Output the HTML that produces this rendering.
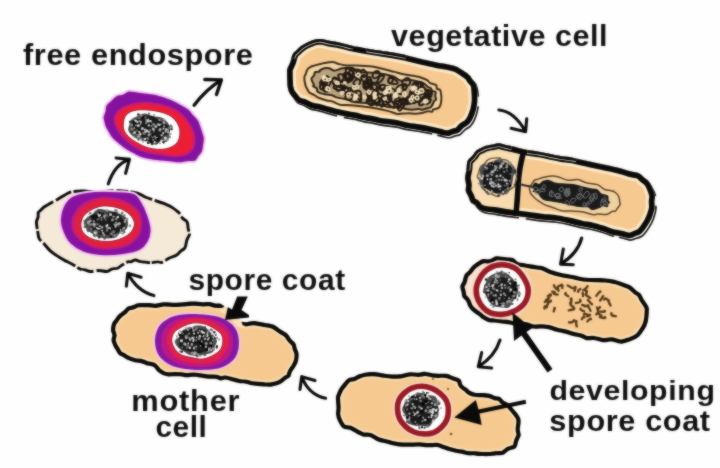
<!DOCTYPE html>
<html><head><meta charset="utf-8"><title>Endospore formation</title>
<style>
html,body{margin:0;padding:0;background:#fefefe;}
body{width:720px;height:468px;overflow:hidden;}
svg{display:block;}
text{font-family:"Liberation Sans",sans-serif;font-weight:bold;fill:#101010;}
</style></head><body>
<svg width="720" height="468" viewBox="0 0 720 468">
<defs>
<filter id="soft" filterUnits="userSpaceOnUse" x="-10" y="-10" width="740" height="488" color-interpolation-filters="sRGB"><feGaussianBlur stdDeviation="0.9" result="b"/><feComposite in="SourceGraphic" in2="b" operator="arithmetic" k1="0" k2="0.45" k3="0.55" k4="0"/></filter>
<filter id="soft2" x="-10%" y="-10%" width="120%" height="120%" color-interpolation-filters="sRGB"><feGaussianBlur stdDeviation="0.5"/></filter>
<clipPath id="c1"><path d="M287.3 69.0C287.9 67.0 289.6 64.1 290.5 61.6C291.4 59.2 291.7 56.2 292.7 54.3C293.7 52.4 295.1 51.5 296.5 50.2C297.9 48.8 299.4 47.4 301.1 46.1C302.7 44.9 304.5 43.8 306.4 42.9C308.3 41.9 310.6 41.0 312.5 40.3C314.4 39.7 316.2 39.2 317.9 39.1C319.7 38.9 321.4 39.0 322.9 39.2C324.4 39.4 325.7 40.0 327.0 40.3C328.4 40.6 328.5 40.6 330.8 41.1C333.2 41.5 337.7 42.2 341.0 42.9C344.4 43.6 347.8 44.7 350.9 45.4C353.9 46.1 356.5 46.5 359.6 47.1C362.7 47.7 365.7 48.3 369.3 49.0C372.8 49.6 377.1 50.2 381.0 50.8C384.9 51.4 388.5 51.8 392.7 52.6C396.9 53.3 401.7 54.2 406.3 55.2C410.9 56.3 416.3 57.8 420.2 58.7C424.2 59.7 426.9 60.3 430.1 61.0C433.2 61.7 436.3 62.3 439.2 62.9C442.1 63.4 444.6 63.6 447.4 64.2C450.2 64.8 453.5 65.4 456.1 66.5C458.7 67.5 460.8 69.2 463.1 70.6C465.3 72.1 468.0 73.7 469.5 75.2C471.1 76.6 471.1 77.8 472.3 79.3C473.5 80.8 475.7 82.2 476.7 84.3C477.7 86.3 478.1 89.2 478.6 91.7C479.0 94.2 479.2 97.0 479.3 99.4C479.4 101.7 479.3 103.5 479.1 105.7C478.8 107.9 478.4 110.3 477.8 112.6C477.2 115.0 476.4 117.6 475.3 119.9C474.2 122.2 472.9 124.6 471.3 126.4C469.7 128.1 467.3 129.0 465.5 130.5C463.7 132.0 462.4 134.3 460.6 135.3C458.9 136.4 456.9 136.4 455.0 136.9C453.1 137.5 451.0 138.5 449.2 138.6C447.3 138.7 445.5 138.0 443.9 137.7C442.2 137.3 441.7 137.1 439.1 136.5C436.5 135.8 431.7 134.7 428.2 134.0C424.6 133.3 421.5 132.7 417.9 132.1C414.4 131.6 410.5 131.2 407.0 130.5C403.4 129.8 399.6 128.5 396.6 127.9C393.5 127.4 391.6 127.3 388.8 126.9C386.0 126.6 382.7 126.3 379.8 125.7C376.9 125.2 373.9 124.3 371.2 123.7C368.4 123.2 366.0 123.0 363.1 122.4C360.2 121.8 356.8 120.6 353.8 120.0C350.7 119.3 347.8 119.1 344.8 118.5C341.8 117.9 338.6 117.1 335.5 116.4C332.5 115.6 329.4 114.8 326.6 114.0C323.9 113.2 321.7 112.4 318.9 111.7C316.1 111.0 312.7 110.7 310.0 109.7C307.4 108.7 305.2 106.9 303.0 105.8C300.8 104.7 298.6 104.6 296.9 103.2C295.2 101.7 293.8 99.0 292.5 97.1C291.3 95.3 289.9 94.0 289.1 92.2C288.3 90.4 288.0 88.6 287.6 86.5C287.3 84.5 287.3 82.1 287.2 80.0C287.1 78.0 287.0 75.9 287.1 74.0C287.1 72.2 286.7 71.1 287.3 69.0Z"/></clipPath>
<clipPath id="c2"><path d="M287.3 69.0C287.9 67.0 289.6 64.1 290.5 61.6C291.4 59.2 291.7 56.2 292.7 54.3C293.7 52.4 295.1 51.5 296.5 50.2C297.9 48.8 299.4 47.4 301.1 46.1C302.7 44.9 304.5 43.8 306.4 42.9C308.3 41.9 310.6 41.0 312.5 40.3C314.4 39.7 316.2 39.2 317.9 39.1C319.7 38.9 321.4 39.0 322.9 39.2C324.4 39.4 325.7 40.0 327.0 40.3C328.4 40.6 328.5 40.6 330.8 41.1C333.2 41.5 337.7 42.2 341.0 42.9C344.4 43.6 347.8 44.7 350.9 45.4C353.9 46.1 356.5 46.5 359.6 47.1C362.7 47.7 365.7 48.3 369.3 49.0C372.8 49.6 377.1 50.2 381.0 50.8C384.9 51.4 388.5 51.8 392.7 52.6C396.9 53.3 401.7 54.2 406.3 55.2C410.9 56.3 416.3 57.8 420.2 58.7C424.2 59.7 426.9 60.3 430.1 61.0C433.2 61.7 436.3 62.3 439.2 62.9C442.1 63.4 444.6 63.6 447.4 64.2C450.2 64.8 453.5 65.4 456.1 66.5C458.7 67.5 460.8 69.2 463.1 70.6C465.3 72.1 468.0 73.7 469.5 75.2C471.1 76.6 471.2 77.7 472.3 79.3C473.4 80.9 475.4 82.4 476.2 84.5C477.0 86.6 476.9 89.5 477.1 91.9C477.3 94.4 477.5 97.2 477.4 99.4C477.4 101.7 477.2 103.4 476.8 105.5C476.5 107.6 476.0 109.8 475.3 112.0C474.6 114.2 473.7 116.6 472.7 118.7C471.6 120.7 470.5 122.6 468.9 124.2C467.4 125.7 465.1 126.6 463.4 127.9C461.7 129.3 460.5 131.5 458.9 132.5C457.4 133.5 455.8 133.4 454.1 134.0C452.5 134.5 450.6 135.6 449.0 135.9C447.3 136.1 445.9 135.8 444.3 135.6C442.7 135.3 442.2 135.0 439.6 134.4C437.0 133.8 432.1 132.6 428.6 131.8C425.0 131.1 421.8 130.5 418.3 129.9C414.8 129.3 410.9 129.0 407.4 128.3C403.8 127.6 400.0 126.4 397.0 125.8C393.9 125.2 391.9 125.0 389.1 124.6C386.3 124.2 383.1 124.0 380.2 123.5C377.3 123.0 374.4 122.1 371.6 121.5C368.8 121.0 366.5 120.9 363.6 120.3C360.7 119.7 357.3 118.5 354.2 117.9C351.1 117.2 348.3 117.0 345.2 116.4C342.2 115.8 339.1 115.1 336.0 114.4C333.0 113.6 330.0 112.8 327.2 112.0C324.4 111.3 322.2 110.4 319.4 109.7C316.7 109.1 313.3 108.9 310.7 108.0C308.0 107.1 305.8 105.4 303.6 104.5C301.4 103.6 299.2 103.8 297.4 102.6C295.5 101.3 293.9 98.9 292.5 97.1C291.2 95.4 289.9 94.0 289.1 92.2C288.3 90.4 288.0 88.6 287.6 86.5C287.3 84.5 287.3 82.1 287.2 80.0C287.1 78.0 287.0 75.9 287.1 74.0C287.1 72.2 286.7 71.1 287.3 69.0Z"/></clipPath>
<clipPath id="c3"><path d="M465.0 177.8C465.1 175.2 466.2 172.1 466.6 169.3C467.0 166.5 466.6 163.4 467.6 161.1C468.5 158.9 470.8 157.7 472.2 156.0C473.6 154.3 474.6 152.2 476.0 150.9C477.4 149.6 478.7 149.2 480.4 148.3C482.1 147.5 483.9 146.4 486.0 145.8C488.1 145.1 490.8 144.8 493.0 144.4C495.2 144.0 497.0 143.2 499.2 143.3C501.3 143.4 503.7 144.6 505.7 145.0C507.7 145.5 509.0 145.6 511.2 146.1C513.4 146.5 516.0 147.2 518.8 147.9C521.5 148.6 524.3 149.4 527.7 150.0C531.1 150.6 535.5 151.1 539.0 151.7C542.6 152.3 545.5 152.9 549.1 153.7C552.7 154.4 556.6 155.4 560.5 156.1C564.5 156.8 568.4 156.9 572.7 157.7C576.9 158.5 581.6 159.8 586.2 160.8C590.7 161.8 595.6 162.9 599.8 163.8C604.1 164.7 608.0 165.3 611.8 166.2C615.6 167.0 619.5 168.0 622.8 168.9C626.1 169.8 628.8 170.9 631.6 171.6C634.3 172.4 637.3 172.4 639.4 173.4C641.6 174.5 642.8 176.4 644.4 177.8C646.0 179.2 647.7 180.0 649.1 181.7C650.6 183.4 651.9 185.7 653.0 188.0C654.2 190.2 655.7 192.9 656.2 195.2C656.7 197.4 656.2 199.3 656.3 201.5C656.4 203.7 656.9 205.9 656.8 208.2C656.6 210.6 656.1 213.2 655.3 215.7C654.6 218.1 653.7 220.6 652.5 223.1C651.2 225.6 649.6 228.3 648.0 230.6C646.3 232.9 644.5 235.3 642.7 236.7C640.9 238.1 638.9 238.4 636.9 239.0C634.9 239.7 632.8 240.7 630.9 240.9C628.9 241.0 627.2 240.1 625.2 239.7C623.3 239.2 621.5 238.7 619.1 238.1C616.7 237.6 613.6 237.1 610.8 236.3C608.1 235.5 605.8 234.3 602.6 233.3C599.4 232.3 595.3 231.1 591.6 230.3C588.0 229.5 584.6 229.3 580.8 228.5C577.0 227.6 572.9 226.4 568.8 225.5C564.7 224.6 560.3 223.7 556.1 223.1C551.9 222.5 547.8 222.5 543.5 222.0C539.1 221.6 534.2 220.8 530.0 220.2C525.7 219.7 522.2 219.1 518.1 218.6C513.9 218.1 509.0 217.6 505.2 217.0C501.4 216.4 498.5 215.7 495.4 215.2C492.2 214.7 488.5 214.4 486.2 213.8C483.8 213.3 482.7 212.8 481.3 212.0C479.9 211.3 478.9 210.4 477.8 209.3C476.7 208.2 475.9 206.6 474.8 205.5C473.6 204.3 471.9 204.1 470.9 202.6C469.8 201.1 469.3 198.4 468.4 196.5C467.6 194.5 466.2 192.8 465.8 190.9C465.4 189.0 466.2 187.1 466.1 184.9C466.0 182.7 465.0 180.4 465.0 177.8Z"/></clipPath>
<clipPath id="c4"><path d="M465.0 177.8C465.1 175.2 466.2 172.1 466.6 169.3C467.0 166.5 466.6 163.4 467.6 161.1C468.5 158.9 470.8 157.7 472.2 156.0C473.6 154.3 474.6 152.2 476.0 150.9C477.4 149.6 478.7 149.2 480.4 148.3C482.1 147.5 483.9 146.4 486.0 145.8C488.1 145.1 490.8 144.8 493.0 144.4C495.2 144.0 497.0 143.2 499.2 143.3C501.3 143.4 503.7 144.6 505.7 145.0C507.7 145.5 509.0 145.6 511.2 146.1C513.4 146.5 516.0 147.2 518.8 147.9C521.5 148.6 524.3 149.4 527.7 150.0C531.1 150.6 535.5 151.1 539.0 151.7C542.6 152.3 545.5 152.9 549.1 153.7C552.7 154.4 556.6 155.4 560.5 156.1C564.5 156.8 568.4 156.9 572.7 157.7C576.9 158.5 581.6 159.8 586.2 160.8C590.7 161.8 595.6 162.9 599.8 163.8C604.1 164.7 608.0 165.3 611.8 166.2C615.6 167.0 619.5 168.0 622.8 168.9C626.1 169.8 628.8 170.9 631.6 171.6C634.3 172.4 637.3 172.4 639.4 173.4C641.6 174.5 642.8 176.4 644.4 177.8C646.0 179.2 647.8 179.9 649.1 181.7C650.5 183.4 651.6 185.9 652.6 188.2C653.5 190.5 654.6 193.3 654.9 195.5C655.2 197.7 654.5 199.5 654.4 201.6C654.4 203.7 654.9 205.9 654.6 208.1C654.4 210.3 653.6 212.6 652.8 214.9C652.0 217.2 651.1 219.5 649.8 221.8C648.6 224.1 646.9 226.7 645.4 228.8C643.9 230.8 642.3 232.9 640.7 234.1C639.1 235.3 637.5 235.4 635.9 236.1C634.2 236.8 632.4 237.9 630.7 238.1C629.0 238.4 627.5 238.0 625.7 237.6C623.8 237.3 622.0 236.6 619.6 236.1C617.2 235.5 614.1 235.2 611.4 234.4C608.6 233.6 606.4 232.5 603.2 231.5C600.0 230.5 595.7 229.1 592.1 228.2C588.4 227.4 585.0 227.1 581.2 226.3C577.4 225.5 573.4 224.3 569.3 223.4C565.2 222.5 560.7 221.4 556.4 220.8C552.1 220.1 548.1 220.1 543.7 219.7C539.4 219.2 534.5 218.5 530.3 217.9C526.0 217.3 522.5 216.8 518.4 216.3C514.2 215.7 509.3 215.3 505.5 214.7C501.8 214.2 498.9 213.4 495.7 212.9C492.6 212.5 488.9 212.1 486.7 211.8C484.4 211.4 483.4 211.3 482.0 210.8C480.6 210.3 479.3 209.9 478.2 209.0C477.0 208.0 476.3 206.1 475.1 205.1C473.9 204.0 472.0 204.0 470.9 202.6C469.8 201.2 469.3 198.4 468.4 196.5C467.6 194.5 466.2 192.8 465.8 190.9C465.4 189.0 466.2 187.1 466.1 184.9C466.0 182.7 465.0 180.4 465.0 177.8Z"/></clipPath>
<clipPath id="c5"><path d="M460.3 286.3C460.5 284.5 461.9 283.3 462.6 281.3C463.3 279.4 463.7 276.4 464.6 274.6C465.6 272.8 467.1 272.2 468.5 270.7C469.8 269.1 471.2 266.8 472.9 265.3C474.6 263.7 477.0 262.2 478.7 261.2C480.5 260.1 481.5 259.5 483.3 259.1C485.2 258.8 487.6 259.7 489.8 259.2C491.9 258.7 493.5 256.5 496.3 256.2C499.0 255.9 503.4 256.9 506.1 257.2C508.9 257.6 511.0 257.3 513.0 258.1C515.0 258.9 516.3 261.2 517.9 262.0C519.6 262.8 521.0 262.6 523.0 263.0C525.0 263.4 527.9 263.9 530.2 264.3C532.6 264.7 535.0 265.0 537.2 265.4C539.3 265.7 540.8 265.6 543.0 266.3C545.2 267.1 547.4 268.6 550.3 269.7C553.3 270.8 556.5 271.8 560.4 272.7C564.3 273.6 569.9 274.4 573.7 275.2C577.5 275.9 579.8 277.0 583.4 277.4C587.0 277.9 591.6 277.8 595.2 278.0C598.9 278.1 602.2 278.1 605.4 278.4C608.6 278.7 611.7 279.2 614.5 279.8C617.3 280.5 619.5 281.3 622.1 282.2C624.7 283.2 627.8 284.0 630.2 285.3C632.5 286.7 634.5 289.0 636.2 290.4C637.9 291.8 639.3 292.1 640.5 293.6C641.8 295.1 642.3 297.0 643.6 299.2C645.0 301.3 647.6 304.6 648.4 306.7C649.3 308.9 648.8 310.0 648.8 312.3C648.7 314.6 648.4 318.1 648.0 320.4C647.5 322.8 646.9 324.5 646.1 326.4C645.2 328.2 644.0 329.9 642.9 331.6C641.8 333.2 640.9 334.9 639.4 336.2C637.9 337.6 636.0 338.7 633.8 339.7C631.7 340.7 628.8 341.8 626.5 342.4C624.2 343.1 622.4 343.8 619.9 343.6C617.5 343.4 614.7 341.7 611.8 341.5C609.0 341.3 605.8 342.4 602.9 342.2C599.9 342.0 596.7 340.4 594.0 340.1C591.3 339.7 588.7 340.6 586.5 340.2C584.3 339.9 583.1 338.5 580.9 337.8C578.7 337.1 576.0 336.8 573.3 336.1C570.5 335.4 567.2 334.1 564.4 333.4C561.7 332.7 559.7 332.6 556.8 331.8C553.9 331.1 550.0 329.5 547.1 329.0C544.3 328.4 542.0 328.6 539.6 328.5C537.3 328.5 535.4 329.0 533.0 328.6C530.6 328.2 527.7 326.5 525.3 326.2C522.8 326.0 520.8 327.3 518.2 327.0C515.6 326.7 512.5 325.1 509.8 324.5C507.2 323.9 504.7 323.8 502.2 323.4C499.6 323.1 497.0 322.8 494.7 322.5C492.3 322.3 490.0 322.5 488.0 321.9C486.0 321.4 484.0 320.1 482.5 319.1C481.0 318.2 480.0 316.9 479.1 316.2C478.2 315.5 478.3 315.7 477.0 314.8C475.8 313.9 473.1 312.1 471.7 310.7C470.3 309.4 469.4 308.3 468.5 306.7C467.6 305.2 467.3 303.1 466.3 301.4C465.3 299.8 463.3 298.5 462.5 296.9C461.7 295.4 461.9 294.0 461.6 292.3C461.2 290.5 460.1 288.1 460.3 286.3Z"/></clipPath>
<clipPath id="c6"><path d="M335.9 397.7C335.9 395.5 336.2 395.8 336.8 394.2C337.4 392.7 338.2 390.4 339.4 388.5C340.5 386.6 342.2 384.7 343.6 383.0C345.1 381.3 346.2 379.4 347.9 378.4C349.7 377.3 352.3 377.4 354.2 376.7C356.2 376.0 357.6 374.8 359.7 374.1C361.7 373.4 364.0 372.8 366.8 372.4C369.5 372.1 373.2 372.0 376.2 372.2C379.2 372.4 382.1 373.3 384.8 373.7C387.4 374.1 389.7 374.4 392.2 374.5C394.7 374.6 396.9 374.7 399.8 374.3C402.7 373.9 406.6 372.5 409.7 372.2C412.7 371.9 415.6 372.8 418.2 372.7C420.9 372.6 422.8 371.7 425.6 371.9C428.4 372.0 431.6 373.3 435.0 373.6C438.5 373.9 443.4 373.4 446.2 373.8C449.0 374.1 449.5 374.8 451.8 375.7C454.2 376.6 458.3 377.6 460.1 379.1C461.9 380.6 461.4 383.2 462.5 384.7C463.7 386.2 465.8 387.1 467.1 388.1C468.3 389.1 468.6 390.1 469.9 390.8C471.2 391.6 472.8 392.3 474.9 392.7C477.0 393.0 480.0 392.9 482.5 393.1C484.9 393.3 487.4 393.3 489.5 393.8C491.6 394.3 493.2 395.5 494.9 396.0C496.6 396.6 498.4 396.1 499.9 397.0C501.5 397.8 502.7 400.0 504.1 401.0C505.5 402.0 506.9 402.2 508.2 403.1C509.4 404.0 510.1 404.9 511.4 406.4C512.8 407.9 514.8 410.2 516.2 412.1C517.6 413.9 519.1 415.7 519.8 417.4C520.6 419.0 520.6 419.9 520.6 421.9C520.6 423.9 519.8 427.1 519.8 429.4C519.8 431.6 520.9 433.3 520.7 435.3C520.4 437.2 519.1 438.9 518.3 441.0C517.5 443.2 517.5 446.3 515.9 448.0C514.3 449.6 510.8 449.7 508.7 450.8C506.7 452.0 505.6 453.9 503.5 454.7C501.5 455.4 498.6 455.0 496.4 455.3C494.2 455.5 492.9 455.9 490.5 456.1C488.0 456.2 484.4 456.2 481.7 456.1C479.1 456.0 477.1 455.6 474.8 455.4C472.5 455.3 470.1 455.5 467.9 455.3C465.7 455.0 463.6 454.1 461.6 453.7C459.5 453.3 457.9 453.3 455.7 452.8C453.4 452.2 450.4 451.4 448.0 450.7C445.6 449.9 443.1 449.0 441.3 448.4C439.4 447.8 439.1 447.2 436.9 447.0C434.6 446.9 430.5 447.4 427.7 447.3C424.8 447.2 422.7 446.6 419.6 446.5C416.6 446.4 412.6 446.8 409.3 446.8C406.0 446.8 402.5 446.8 399.6 446.5C396.7 446.2 394.5 445.6 391.8 445.0C389.0 444.3 385.5 443.4 383.1 442.8C380.7 442.2 379.6 442.1 377.4 441.2C375.1 440.2 372.0 437.8 369.6 437.0C367.2 436.2 365.1 437.2 362.9 436.5C360.6 435.9 358.3 434.4 356.1 433.3C354.0 432.2 351.9 430.6 349.7 429.8C347.5 429.0 344.9 429.7 342.9 428.3C341.0 426.9 339.4 423.8 338.2 421.5C337.1 419.3 336.4 417.2 336.1 414.8C335.8 412.5 336.5 410.5 336.5 407.6C336.4 404.7 335.8 399.9 335.9 397.7Z"/></clipPath>
<clipPath id="c7"><path d="M112.2 323.0C112.8 321.3 113.6 321.2 114.5 319.8C115.5 318.5 116.5 316.6 118.0 315.1C119.5 313.5 122.1 311.9 123.6 310.6C125.1 309.2 125.7 307.8 127.2 306.9C128.7 306.1 130.8 306.0 132.6 305.3C134.5 304.7 135.8 303.5 138.4 303.2C140.9 302.8 145.1 303.0 147.9 303.1C150.8 303.1 152.9 303.8 155.5 303.7C158.1 303.5 160.5 302.4 163.8 302.3C167.0 302.1 171.7 302.8 175.0 302.8C178.2 302.8 180.3 302.4 183.3 302.2C186.3 302.0 189.9 301.6 193.2 301.6C196.4 301.6 200.0 302.2 202.8 302.2C205.5 302.3 207.6 301.9 209.7 302.1C211.8 302.3 213.5 303.2 215.3 303.5C217.2 303.8 218.9 303.1 221.0 303.9C223.0 304.8 225.9 307.2 227.8 308.6C229.7 310.0 230.9 311.2 232.3 312.3C233.8 313.5 234.9 314.2 236.2 315.7C237.6 317.1 239.6 320.0 240.5 321.0C241.4 322.0 240.8 321.4 241.7 321.6C242.6 321.8 244.0 322.3 245.9 322.2C247.8 322.1 251.2 321.2 253.3 321.1C255.5 321.0 256.8 321.4 258.7 321.8C260.7 322.1 262.5 322.5 265.0 323.0C267.4 323.5 270.6 323.5 273.2 324.6C275.9 325.7 278.4 328.0 280.7 329.5C283.0 331.1 285.4 332.0 287.2 333.6C289.0 335.3 290.2 338.0 291.6 339.6C293.0 341.2 294.6 342.0 295.4 343.4C296.3 344.9 296.2 346.6 296.8 348.4C297.3 350.1 298.4 351.7 298.6 353.7C298.8 355.8 298.5 358.7 298.0 360.9C297.5 363.0 296.5 364.8 295.5 366.6C294.5 368.5 292.8 370.3 291.9 372.1C291.0 373.8 291.1 375.8 290.1 377.1C289.1 378.3 287.6 378.6 285.9 379.8C284.3 381.0 282.6 383.0 280.2 384.1C277.9 385.2 274.4 386.1 271.8 386.5C269.1 386.9 266.9 386.5 264.5 386.5C262.2 386.4 259.9 386.2 257.6 386.0C255.3 385.8 252.4 385.4 250.5 385.1C248.6 384.7 247.8 384.1 246.0 383.8C244.3 383.5 242.2 383.7 240.0 383.3C237.8 383.0 235.3 382.3 232.9 381.6C230.4 381.0 227.3 379.8 225.3 379.6C223.3 379.4 222.3 380.7 220.8 380.5C219.2 380.4 218.2 379.2 216.2 378.9C214.2 378.6 211.5 378.9 208.8 378.7C206.1 378.5 202.4 377.8 200.1 377.5C197.7 377.2 196.7 376.7 194.5 376.7C192.4 376.6 189.1 377.2 186.9 377.2C184.7 377.1 183.5 376.6 181.4 376.4C179.4 376.3 176.6 376.3 174.5 376.3C172.4 376.3 170.4 376.5 168.6 376.4C166.8 376.3 165.6 376.3 163.8 375.6C162.1 374.9 159.8 373.5 158.0 372.1C156.3 370.6 154.9 367.9 153.2 366.8C151.5 365.7 149.6 366.1 147.7 365.5C145.8 365.0 144.0 363.9 141.9 363.4C139.7 362.8 137.1 362.8 134.8 362.3C132.5 361.7 130.2 361.1 128.1 360.1C126.0 359.2 123.6 357.4 122.0 356.5C120.4 355.6 119.8 355.8 118.7 354.7C117.6 353.6 116.4 351.1 115.6 349.7C114.7 348.3 114.3 348.1 113.6 346.5C112.9 345.0 111.7 342.1 111.5 340.3C111.3 338.4 112.5 336.9 112.4 335.3C112.4 333.6 111.0 332.2 111.0 330.2C110.9 328.1 111.6 324.7 112.2 323.0Z"/></clipPath>
<clipPath id="c8"><path d="M35.0 222.1C35.1 219.5 36.4 218.2 36.7 216.6C37.0 214.9 36.3 213.5 36.8 212.2C37.4 210.9 39.1 209.7 40.1 208.7C41.2 207.6 41.7 206.9 43.2 205.8C44.7 204.8 46.9 203.5 49.2 202.2C51.5 200.8 54.7 199.2 57.1 197.9C59.5 196.5 61.5 195.2 63.7 194.0C65.8 192.8 67.4 191.4 69.9 190.7C72.5 189.9 76.1 189.8 78.9 189.7C81.7 189.5 83.3 189.6 86.5 189.8C89.7 189.9 94.0 190.5 98.0 190.4C101.9 190.4 106.1 189.7 110.1 189.6C114.1 189.4 118.1 189.2 122.0 189.4C125.9 189.6 130.5 190.2 133.5 190.8C136.5 191.3 137.6 191.8 139.8 192.6C141.9 193.5 143.7 194.8 146.3 195.9C148.9 196.9 152.1 197.9 155.5 199.1C159.0 200.3 164.1 202.0 167.0 203.2C170.0 204.4 171.0 205.0 173.2 206.4C175.3 207.8 178.1 209.8 179.9 211.6C181.6 213.4 182.0 215.5 183.5 217.1C184.9 218.8 187.4 219.4 188.4 221.3C189.4 223.1 189.2 225.9 189.6 228.2C190.0 230.4 191.1 232.6 190.9 234.6C190.7 236.7 189.0 238.4 188.2 240.7C187.5 243.0 187.3 246.5 186.2 248.4C185.1 250.4 183.2 250.9 181.7 252.3C180.2 253.6 179.1 255.4 177.1 256.6C175.2 257.7 172.1 258.4 170.1 259.3C168.2 260.2 166.8 261.4 165.4 262.2C164.0 262.9 162.9 263.8 161.5 264.0C160.1 264.1 158.8 263.2 157.0 263.3C155.2 263.3 152.7 264.1 150.7 264.2C148.8 264.2 147.1 263.8 145.2 263.6C143.3 263.4 140.9 263.1 139.2 262.8C137.6 262.4 136.6 261.4 135.2 261.4C133.8 261.5 132.1 263.0 130.9 263.3C129.8 263.6 129.6 262.8 128.4 263.2C127.1 263.7 125.0 265.0 123.3 266.1C121.5 267.1 119.9 268.9 118.1 269.6C116.2 270.3 114.1 269.8 112.3 270.4C110.4 271.0 109.4 272.7 107.1 272.9C104.8 273.2 101.4 271.9 98.6 271.9C95.7 271.9 92.4 273.1 90.1 273.0C87.8 272.9 86.4 271.7 84.7 271.3C83.0 270.9 82.0 271.4 80.0 270.6C78.0 269.8 75.0 267.5 72.8 266.2C70.6 265.0 69.0 264.4 66.7 263.1C64.3 261.8 61.3 260.1 58.5 258.4C55.8 256.6 52.8 255.0 50.2 252.7C47.6 250.5 45.2 247.2 43.1 244.9C41.1 242.7 39.1 241.5 37.9 239.3C36.8 237.1 36.8 234.6 36.3 231.7C35.8 228.8 34.9 224.6 35.0 222.1Z"/></clipPath>
</defs>
<rect width="720" height="468" fill="#fefefe"/>
<g filter="url(#soft)">
<g clip-path="url(#c1)"><path d="M287.3 69.0C287.9 67.0 289.6 64.1 290.5 61.6C291.4 59.2 291.7 56.2 292.7 54.3C293.7 52.4 295.1 51.5 296.5 50.2C297.9 48.8 299.4 47.4 301.1 46.1C302.7 44.9 304.5 43.8 306.4 42.9C308.3 41.9 310.6 41.0 312.5 40.3C314.4 39.7 316.2 39.2 317.9 39.1C319.7 38.9 321.4 39.0 322.9 39.2C324.4 39.4 325.7 40.0 327.0 40.3C328.4 40.6 328.5 40.6 330.8 41.1C333.2 41.5 337.7 42.2 341.0 42.9C344.4 43.6 347.8 44.7 350.9 45.4C353.9 46.1 356.5 46.5 359.6 47.1C362.7 47.7 365.7 48.3 369.3 49.0C372.8 49.6 377.1 50.2 381.0 50.8C384.9 51.4 388.5 51.8 392.7 52.6C396.9 53.3 401.7 54.2 406.3 55.2C410.9 56.3 416.3 57.8 420.2 58.7C424.2 59.7 426.9 60.3 430.1 61.0C433.2 61.7 436.3 62.3 439.2 62.9C442.1 63.4 444.6 63.6 447.4 64.2C450.2 64.8 453.5 65.4 456.1 66.5C458.7 67.5 460.8 69.2 463.1 70.6C465.3 72.1 468.0 73.7 469.5 75.2C471.1 76.6 471.1 77.8 472.3 79.3C473.5 80.8 475.7 82.2 476.7 84.3C477.7 86.3 478.1 89.2 478.6 91.7C479.0 94.2 479.2 97.0 479.3 99.4C479.4 101.7 479.3 103.5 479.1 105.7C478.8 107.9 478.4 110.3 477.8 112.6C477.2 115.0 476.4 117.6 475.3 119.9C474.2 122.2 472.9 124.6 471.3 126.4C469.7 128.1 467.3 129.0 465.5 130.5C463.7 132.0 462.4 134.3 460.6 135.3C458.9 136.4 456.9 136.4 455.0 136.9C453.1 137.5 451.0 138.5 449.2 138.6C447.3 138.7 445.5 138.0 443.9 137.7C442.2 137.3 441.7 137.1 439.1 136.5C436.5 135.8 431.7 134.7 428.2 134.0C424.6 133.3 421.5 132.7 417.9 132.1C414.4 131.6 410.5 131.2 407.0 130.5C403.4 129.8 399.6 128.5 396.6 127.9C393.5 127.4 391.6 127.3 388.8 126.9C386.0 126.6 382.7 126.3 379.8 125.7C376.9 125.2 373.9 124.3 371.2 123.7C368.4 123.2 366.0 123.0 363.1 122.4C360.2 121.8 356.8 120.6 353.8 120.0C350.7 119.3 347.8 119.1 344.8 118.5C341.8 117.9 338.6 117.1 335.5 116.4C332.5 115.6 329.4 114.8 326.6 114.0C323.9 113.2 321.7 112.4 318.9 111.7C316.1 111.0 312.7 110.7 310.0 109.7C307.4 108.7 305.2 106.9 303.0 105.8C300.8 104.7 298.6 104.6 296.9 103.2C295.2 101.7 293.8 99.0 292.5 97.1C291.3 95.3 289.9 94.0 289.1 92.2C288.3 90.4 288.0 88.6 287.6 86.5C287.3 84.5 287.3 82.1 287.2 80.0C287.1 78.0 287.0 75.9 287.1 74.0C287.1 72.2 286.7 71.1 287.3 69.0Z" fill="#f6f3ec"/><path d="M287.3 69.0C287.9 67.0 289.6 64.1 290.5 61.6C291.4 59.2 291.7 56.2 292.7 54.3C293.7 52.4 295.1 51.5 296.5 50.2C297.9 48.8 299.4 47.4 301.1 46.1C302.7 44.9 304.5 43.8 306.4 42.9C308.3 41.9 310.6 41.0 312.5 40.3C314.4 39.7 316.2 39.2 317.9 39.1C319.7 38.9 321.4 39.0 322.9 39.2C324.4 39.4 325.7 40.0 327.0 40.3C328.4 40.6 328.5 40.6 330.8 41.1C333.2 41.5 337.7 42.2 341.0 42.9C344.4 43.6 347.8 44.7 350.9 45.4C353.9 46.1 356.5 46.5 359.6 47.1C362.7 47.7 365.7 48.3 369.3 49.0C372.8 49.6 377.1 50.2 381.0 50.8C384.9 51.4 388.5 51.8 392.7 52.6C396.9 53.3 401.7 54.2 406.3 55.2C410.9 56.3 416.3 57.8 420.2 58.7C424.2 59.7 426.9 60.3 430.1 61.0C433.2 61.7 436.3 62.3 439.2 62.9C442.1 63.4 444.6 63.6 447.4 64.2C450.2 64.8 453.5 65.4 456.1 66.5C458.7 67.5 460.8 69.2 463.1 70.6C465.3 72.1 468.0 73.7 469.5 75.2C471.1 76.6 471.1 77.8 472.3 79.3C473.5 80.8 475.7 82.2 476.7 84.3C477.7 86.3 478.1 89.2 478.6 91.7C479.0 94.2 479.2 97.0 479.3 99.4C479.4 101.7 479.3 103.5 479.1 105.7C478.8 107.9 478.4 110.3 477.8 112.6C477.2 115.0 476.4 117.6 475.3 119.9C474.2 122.2 472.9 124.6 471.3 126.4C469.7 128.1 467.3 129.0 465.5 130.5C463.7 132.0 462.4 134.3 460.6 135.3C458.9 136.4 456.9 136.4 455.0 136.9C453.1 137.5 451.0 138.5 449.2 138.6C447.3 138.7 445.5 138.0 443.9 137.7C442.2 137.3 441.7 137.1 439.1 136.5C436.5 135.8 431.7 134.7 428.2 134.0C424.6 133.3 421.5 132.7 417.9 132.1C414.4 131.6 410.5 131.2 407.0 130.5C403.4 129.8 399.6 128.5 396.6 127.9C393.5 127.4 391.6 127.3 388.8 126.9C386.0 126.6 382.7 126.3 379.8 125.7C376.9 125.2 373.9 124.3 371.2 123.7C368.4 123.2 366.0 123.0 363.1 122.4C360.2 121.8 356.8 120.6 353.8 120.0C350.7 119.3 347.8 119.1 344.8 118.5C341.8 117.9 338.6 117.1 335.5 116.4C332.5 115.6 329.4 114.8 326.6 114.0C323.9 113.2 321.7 112.4 318.9 111.7C316.1 111.0 312.7 110.7 310.0 109.7C307.4 108.7 305.2 106.9 303.0 105.8C300.8 104.7 298.6 104.6 296.9 103.2C295.2 101.7 293.8 99.0 292.5 97.1C291.3 95.3 289.9 94.0 289.1 92.2C288.3 90.4 288.0 88.6 287.6 86.5C287.3 84.5 287.3 82.1 287.2 80.0C287.1 78.0 287.0 75.9 287.1 74.0C287.1 72.2 286.7 71.1 287.3 69.0Z" fill="none" stroke="#1e1e1e" stroke-width="3.4" stroke-dasharray="90 7 130 10 60 5"/></g><g clip-path="url(#c2)"><path d="M287.3 69.0C287.9 67.0 289.6 64.1 290.5 61.6C291.4 59.2 291.7 56.2 292.7 54.3C293.7 52.4 295.1 51.5 296.5 50.2C297.9 48.8 299.4 47.4 301.1 46.1C302.7 44.9 304.5 43.8 306.4 42.9C308.3 41.9 310.6 41.0 312.5 40.3C314.4 39.7 316.2 39.2 317.9 39.1C319.7 38.9 321.4 39.0 322.9 39.2C324.4 39.4 325.7 40.0 327.0 40.3C328.4 40.6 328.5 40.6 330.8 41.1C333.2 41.5 337.7 42.2 341.0 42.9C344.4 43.6 347.8 44.7 350.9 45.4C353.9 46.1 356.5 46.5 359.6 47.1C362.7 47.7 365.7 48.3 369.3 49.0C372.8 49.6 377.1 50.2 381.0 50.8C384.9 51.4 388.5 51.8 392.7 52.6C396.9 53.3 401.7 54.2 406.3 55.2C410.9 56.3 416.3 57.8 420.2 58.7C424.2 59.7 426.9 60.3 430.1 61.0C433.2 61.7 436.3 62.3 439.2 62.9C442.1 63.4 444.6 63.6 447.4 64.2C450.2 64.8 453.5 65.4 456.1 66.5C458.7 67.5 460.8 69.2 463.1 70.6C465.3 72.1 468.0 73.7 469.5 75.2C471.1 76.6 471.2 77.7 472.3 79.3C473.4 80.9 475.4 82.4 476.2 84.5C477.0 86.6 476.9 89.5 477.1 91.9C477.3 94.4 477.5 97.2 477.4 99.4C477.4 101.7 477.2 103.4 476.8 105.5C476.5 107.6 476.0 109.8 475.3 112.0C474.6 114.2 473.7 116.6 472.7 118.7C471.6 120.7 470.5 122.6 468.9 124.2C467.4 125.7 465.1 126.6 463.4 127.9C461.7 129.3 460.5 131.5 458.9 132.5C457.4 133.5 455.8 133.4 454.1 134.0C452.5 134.5 450.6 135.6 449.0 135.9C447.3 136.1 445.9 135.8 444.3 135.6C442.7 135.3 442.2 135.0 439.6 134.4C437.0 133.8 432.1 132.6 428.6 131.8C425.0 131.1 421.8 130.5 418.3 129.9C414.8 129.3 410.9 129.0 407.4 128.3C403.8 127.6 400.0 126.4 397.0 125.8C393.9 125.2 391.9 125.0 389.1 124.6C386.3 124.2 383.1 124.0 380.2 123.5C377.3 123.0 374.4 122.1 371.6 121.5C368.8 121.0 366.5 120.9 363.6 120.3C360.7 119.7 357.3 118.5 354.2 117.9C351.1 117.2 348.3 117.0 345.2 116.4C342.2 115.8 339.1 115.1 336.0 114.4C333.0 113.6 330.0 112.8 327.2 112.0C324.4 111.3 322.2 110.4 319.4 109.7C316.7 109.1 313.3 108.9 310.7 108.0C308.0 107.1 305.8 105.4 303.6 104.5C301.4 103.6 299.2 103.8 297.4 102.6C295.5 101.3 293.9 98.9 292.5 97.1C291.2 95.4 289.9 94.0 289.1 92.2C288.3 90.4 288.0 88.6 287.6 86.5C287.3 84.5 287.3 82.1 287.2 80.0C287.1 78.0 287.0 75.9 287.1 74.0C287.1 72.2 286.7 71.1 287.3 69.0Z" fill="#F6C991"/><path d="M287.3 69.0C287.9 67.0 289.6 64.1 290.5 61.6C291.4 59.2 291.7 56.2 292.7 54.3C293.7 52.4 295.1 51.5 296.5 50.2C297.9 48.8 299.4 47.4 301.1 46.1C302.7 44.9 304.5 43.8 306.4 42.9C308.3 41.9 310.6 41.0 312.5 40.3C314.4 39.7 316.2 39.2 317.9 39.1C319.7 38.9 321.4 39.0 322.9 39.2C324.4 39.4 325.7 40.0 327.0 40.3C328.4 40.6 328.5 40.6 330.8 41.1C333.2 41.5 337.7 42.2 341.0 42.9C344.4 43.6 347.8 44.7 350.9 45.4C353.9 46.1 356.5 46.5 359.6 47.1C362.7 47.7 365.7 48.3 369.3 49.0C372.8 49.6 377.1 50.2 381.0 50.8C384.9 51.4 388.5 51.8 392.7 52.6C396.9 53.3 401.7 54.2 406.3 55.2C410.9 56.3 416.3 57.8 420.2 58.7C424.2 59.7 426.9 60.3 430.1 61.0C433.2 61.7 436.3 62.3 439.2 62.9C442.1 63.4 444.6 63.6 447.4 64.2C450.2 64.8 453.5 65.4 456.1 66.5C458.7 67.5 460.8 69.2 463.1 70.6C465.3 72.1 468.0 73.7 469.5 75.2C471.1 76.6 471.2 77.7 472.3 79.3C473.4 80.9 475.4 82.4 476.2 84.5C477.0 86.6 476.9 89.5 477.1 91.9C477.3 94.4 477.5 97.2 477.4 99.4C477.4 101.7 477.2 103.4 476.8 105.5C476.5 107.6 476.0 109.8 475.3 112.0C474.6 114.2 473.7 116.6 472.7 118.7C471.6 120.7 470.5 122.6 468.9 124.2C467.4 125.7 465.1 126.6 463.4 127.9C461.7 129.3 460.5 131.5 458.9 132.5C457.4 133.5 455.8 133.4 454.1 134.0C452.5 134.5 450.6 135.6 449.0 135.9C447.3 136.1 445.9 135.8 444.3 135.6C442.7 135.3 442.2 135.0 439.6 134.4C437.0 133.8 432.1 132.6 428.6 131.8C425.0 131.1 421.8 130.5 418.3 129.9C414.8 129.3 410.9 129.0 407.4 128.3C403.8 127.6 400.0 126.4 397.0 125.8C393.9 125.2 391.9 125.0 389.1 124.6C386.3 124.2 383.1 124.0 380.2 123.5C377.3 123.0 374.4 122.1 371.6 121.5C368.8 121.0 366.5 120.9 363.6 120.3C360.7 119.7 357.3 118.5 354.2 117.9C351.1 117.2 348.3 117.0 345.2 116.4C342.2 115.8 339.1 115.1 336.0 114.4C333.0 113.6 330.0 112.8 327.2 112.0C324.4 111.3 322.2 110.4 319.4 109.7C316.7 109.1 313.3 108.9 310.7 108.0C308.0 107.1 305.8 105.4 303.6 104.5C301.4 103.6 299.2 103.8 297.4 102.6C295.5 101.3 293.9 98.9 292.5 97.1C291.2 95.4 289.9 94.0 289.1 92.2C288.3 90.4 288.0 88.6 287.6 86.5C287.3 84.5 287.3 82.1 287.2 80.0C287.1 78.0 287.0 75.9 287.1 74.0C287.1 72.2 286.7 71.1 287.3 69.0Z" fill="none" stroke="#FCEBC8" stroke-width="17.4" filter="url(#soft2)"/><path d="M287.3 69.0C287.9 67.0 289.6 64.1 290.5 61.6C291.4 59.2 291.7 56.2 292.7 54.3C293.7 52.4 295.1 51.5 296.5 50.2C297.9 48.8 299.4 47.4 301.1 46.1C302.7 44.9 304.5 43.8 306.4 42.9C308.3 41.9 310.6 41.0 312.5 40.3C314.4 39.7 316.2 39.2 317.9 39.1C319.7 38.9 321.4 39.0 322.9 39.2C324.4 39.4 325.7 40.0 327.0 40.3C328.4 40.6 328.5 40.6 330.8 41.1C333.2 41.5 337.7 42.2 341.0 42.9C344.4 43.6 347.8 44.7 350.9 45.4C353.9 46.1 356.5 46.5 359.6 47.1C362.7 47.7 365.7 48.3 369.3 49.0C372.8 49.6 377.1 50.2 381.0 50.8C384.9 51.4 388.5 51.8 392.7 52.6C396.9 53.3 401.7 54.2 406.3 55.2C410.9 56.3 416.3 57.8 420.2 58.7C424.2 59.7 426.9 60.3 430.1 61.0C433.2 61.7 436.3 62.3 439.2 62.9C442.1 63.4 444.6 63.6 447.4 64.2C450.2 64.8 453.5 65.4 456.1 66.5C458.7 67.5 460.8 69.2 463.1 70.6C465.3 72.1 468.0 73.7 469.5 75.2C471.1 76.6 471.2 77.7 472.3 79.3C473.4 80.9 475.4 82.4 476.2 84.5C477.0 86.6 476.9 89.5 477.1 91.9C477.3 94.4 477.5 97.2 477.4 99.4C477.4 101.7 477.2 103.4 476.8 105.5C476.5 107.6 476.0 109.8 475.3 112.0C474.6 114.2 473.7 116.6 472.7 118.7C471.6 120.7 470.5 122.6 468.9 124.2C467.4 125.7 465.1 126.6 463.4 127.9C461.7 129.3 460.5 131.5 458.9 132.5C457.4 133.5 455.8 133.4 454.1 134.0C452.5 134.5 450.6 135.6 449.0 135.9C447.3 136.1 445.9 135.8 444.3 135.6C442.7 135.3 442.2 135.0 439.6 134.4C437.0 133.8 432.1 132.6 428.6 131.8C425.0 131.1 421.8 130.5 418.3 129.9C414.8 129.3 410.9 129.0 407.4 128.3C403.8 127.6 400.0 126.4 397.0 125.8C393.9 125.2 391.9 125.0 389.1 124.6C386.3 124.2 383.1 124.0 380.2 123.5C377.3 123.0 374.4 122.1 371.6 121.5C368.8 121.0 366.5 120.9 363.6 120.3C360.7 119.7 357.3 118.5 354.2 117.9C351.1 117.2 348.3 117.0 345.2 116.4C342.2 115.8 339.1 115.1 336.0 114.4C333.0 113.6 330.0 112.8 327.2 112.0C324.4 111.3 322.2 110.4 319.4 109.7C316.7 109.1 313.3 108.9 310.7 108.0C308.0 107.1 305.8 105.4 303.6 104.5C301.4 103.6 299.2 103.8 297.4 102.6C295.5 101.3 293.9 98.9 292.5 97.1C291.2 95.4 289.9 94.0 289.1 92.2C288.3 90.4 288.0 88.6 287.6 86.5C287.3 84.5 287.3 82.1 287.2 80.0C287.1 78.0 287.0 75.9 287.1 74.0C287.1 72.2 286.7 71.1 287.3 69.0Z" fill="none" stroke="#0a0a0a" stroke-width="11.4"/><path d="M287.3 69.0C287.9 67.0 289.6 64.1 290.5 61.6C291.4 59.2 291.7 56.2 292.7 54.3C293.7 52.4 295.1 51.5 296.5 50.2C297.9 48.8 299.4 47.4 301.1 46.1C302.7 44.9 304.5 43.8 306.4 42.9C308.3 41.9 310.6 41.0 312.5 40.3C314.4 39.7 316.2 39.2 317.9 39.1C319.7 38.9 321.4 39.0 322.9 39.2C324.4 39.4 325.7 40.0 327.0 40.3C328.4 40.6 328.5 40.6 330.8 41.1C333.2 41.5 337.7 42.2 341.0 42.9C344.4 43.6 347.8 44.7 350.9 45.4C353.9 46.1 356.5 46.5 359.6 47.1C362.7 47.7 365.7 48.3 369.3 49.0C372.8 49.6 377.1 50.2 381.0 50.8C384.9 51.4 388.5 51.8 392.7 52.6C396.9 53.3 401.7 54.2 406.3 55.2C410.9 56.3 416.3 57.8 420.2 58.7C424.2 59.7 426.9 60.3 430.1 61.0C433.2 61.7 436.3 62.3 439.2 62.9C442.1 63.4 444.6 63.6 447.4 64.2C450.2 64.8 453.5 65.4 456.1 66.5C458.7 67.5 460.8 69.2 463.1 70.6C465.3 72.1 468.0 73.7 469.5 75.2C471.1 76.6 471.2 77.7 472.3 79.3C473.4 80.9 475.4 82.4 476.2 84.5C477.0 86.6 476.9 89.5 477.1 91.9C477.3 94.4 477.5 97.2 477.4 99.4C477.4 101.7 477.2 103.4 476.8 105.5C476.5 107.6 476.0 109.8 475.3 112.0C474.6 114.2 473.7 116.6 472.7 118.7C471.6 120.7 470.5 122.6 468.9 124.2C467.4 125.7 465.1 126.6 463.4 127.9C461.7 129.3 460.5 131.5 458.9 132.5C457.4 133.5 455.8 133.4 454.1 134.0C452.5 134.5 450.6 135.6 449.0 135.9C447.3 136.1 445.9 135.8 444.3 135.6C442.7 135.3 442.2 135.0 439.6 134.4C437.0 133.8 432.1 132.6 428.6 131.8C425.0 131.1 421.8 130.5 418.3 129.9C414.8 129.3 410.9 129.0 407.4 128.3C403.8 127.6 400.0 126.4 397.0 125.8C393.9 125.2 391.9 125.0 389.1 124.6C386.3 124.2 383.1 124.0 380.2 123.5C377.3 123.0 374.4 122.1 371.6 121.5C368.8 121.0 366.5 120.9 363.6 120.3C360.7 119.7 357.3 118.5 354.2 117.9C351.1 117.2 348.3 117.0 345.2 116.4C342.2 115.8 339.1 115.1 336.0 114.4C333.0 113.6 330.0 112.8 327.2 112.0C324.4 111.3 322.2 110.4 319.4 109.7C316.7 109.1 313.3 108.9 310.7 108.0C308.0 107.1 305.8 105.4 303.6 104.5C301.4 103.6 299.2 103.8 297.4 102.6C295.5 101.3 293.9 98.9 292.5 97.1C291.2 95.4 289.9 94.0 289.1 92.2C288.3 90.4 288.0 88.6 287.6 86.5C287.3 84.5 287.3 82.1 287.2 80.0C287.1 78.0 287.0 75.9 287.1 74.0C287.1 72.2 286.7 71.1 287.3 69.0Z" fill="none" stroke="#cfc8b8" stroke-width="7.5" stroke-dasharray="0 12 70 14 40 1000"/><path d="M287.3 69.0C287.9 67.0 289.6 64.1 290.5 61.6C291.4 59.2 291.7 56.2 292.7 54.3C293.7 52.4 295.1 51.5 296.5 50.2C297.9 48.8 299.4 47.4 301.1 46.1C302.7 44.9 304.5 43.8 306.4 42.9C308.3 41.9 310.6 41.0 312.5 40.3C314.4 39.7 316.2 39.2 317.9 39.1C319.7 38.9 321.4 39.0 322.9 39.2C324.4 39.4 325.7 40.0 327.0 40.3C328.4 40.6 328.5 40.6 330.8 41.1C333.2 41.5 337.7 42.2 341.0 42.9C344.4 43.6 347.8 44.7 350.9 45.4C353.9 46.1 356.5 46.5 359.6 47.1C362.7 47.7 365.7 48.3 369.3 49.0C372.8 49.6 377.1 50.2 381.0 50.8C384.9 51.4 388.5 51.8 392.7 52.6C396.9 53.3 401.7 54.2 406.3 55.2C410.9 56.3 416.3 57.8 420.2 58.7C424.2 59.7 426.9 60.3 430.1 61.0C433.2 61.7 436.3 62.3 439.2 62.9C442.1 63.4 444.6 63.6 447.4 64.2C450.2 64.8 453.5 65.4 456.1 66.5C458.7 67.5 460.8 69.2 463.1 70.6C465.3 72.1 468.0 73.7 469.5 75.2C471.1 76.6 471.2 77.7 472.3 79.3C473.4 80.9 475.4 82.4 476.2 84.5C477.0 86.6 476.9 89.5 477.1 91.9C477.3 94.4 477.5 97.2 477.4 99.4C477.4 101.7 477.2 103.4 476.8 105.5C476.5 107.6 476.0 109.8 475.3 112.0C474.6 114.2 473.7 116.6 472.7 118.7C471.6 120.7 470.5 122.6 468.9 124.2C467.4 125.7 465.1 126.6 463.4 127.9C461.7 129.3 460.5 131.5 458.9 132.5C457.4 133.5 455.8 133.4 454.1 134.0C452.5 134.5 450.6 135.6 449.0 135.9C447.3 136.1 445.9 135.8 444.3 135.6C442.7 135.3 442.2 135.0 439.6 134.4C437.0 133.8 432.1 132.6 428.6 131.8C425.0 131.1 421.8 130.5 418.3 129.9C414.8 129.3 410.9 129.0 407.4 128.3C403.8 127.6 400.0 126.4 397.0 125.8C393.9 125.2 391.9 125.0 389.1 124.6C386.3 124.2 383.1 124.0 380.2 123.5C377.3 123.0 374.4 122.1 371.6 121.5C368.8 121.0 366.5 120.9 363.6 120.3C360.7 119.7 357.3 118.5 354.2 117.9C351.1 117.2 348.3 117.0 345.2 116.4C342.2 115.8 339.1 115.1 336.0 114.4C333.0 113.6 330.0 112.8 327.2 112.0C324.4 111.3 322.2 110.4 319.4 109.7C316.7 109.1 313.3 108.9 310.7 108.0C308.0 107.1 305.8 105.4 303.6 104.5C301.4 103.6 299.2 103.8 297.4 102.6C295.5 101.3 293.9 98.9 292.5 97.1C291.2 95.4 289.9 94.0 289.1 92.2C288.3 90.4 288.0 88.6 287.6 86.5C287.3 84.5 287.3 82.1 287.2 80.0C287.1 78.0 287.0 75.9 287.1 74.0C287.1 72.2 286.7 71.1 287.3 69.0Z" fill="none" stroke="#0a0a0a" stroke-width="5.7" stroke-dasharray="0 12 70 14 40 1000"/></g>
<g>
<path d="M441.3 99.6C441.2 101.1 441.0 103.5 440.5 104.9C440.0 106.4 439.4 107.5 438.2 108.2C437.0 109.0 434.3 108.9 433.3 109.5C432.2 110.1 433.1 111.5 432.2 111.7C431.3 112.0 429.7 111.0 428.0 111.3C426.2 111.5 423.9 112.7 421.7 113.1C419.5 113.5 417.4 113.7 415.0 113.7C412.6 113.7 410.2 113.1 407.3 113.2C404.4 113.2 400.6 114.2 397.5 113.9C394.4 113.5 393.2 112.2 388.7 111.1C384.3 110.0 377.0 108.4 370.8 107.5C364.5 106.5 356.5 105.6 351.4 105.2C346.3 104.7 343.3 105.4 340.0 104.8C336.8 104.1 333.8 101.8 331.7 101.1C329.5 100.4 329.2 101.1 327.0 100.5C324.9 100.0 320.7 98.6 318.7 97.8C316.6 96.9 316.2 96.1 314.7 95.3C313.2 94.5 310.8 93.6 309.8 92.9C308.7 92.2 309.0 92.1 308.3 91.0C307.7 89.9 306.4 88.1 305.8 86.4C305.2 84.8 304.9 82.7 304.6 81.1C304.4 79.6 304.2 78.4 304.4 77.1C304.6 75.9 305.3 75.1 305.8 73.8C306.3 72.6 306.6 70.7 307.4 69.5C308.3 68.3 309.5 67.4 310.7 66.8C311.9 66.1 313.5 65.8 314.8 65.4C316.1 65.0 317.1 64.8 318.7 64.4C320.4 64.0 322.2 63.4 324.5 63.0C326.9 62.6 330.4 61.8 332.7 62.0C335.0 62.1 336.1 63.4 338.4 63.9C340.7 64.5 343.1 65.1 346.3 65.4C349.5 65.7 352.7 65.3 357.4 65.5C362.2 65.8 368.5 65.9 374.6 66.9C380.8 68.0 389.6 70.7 394.4 71.9C399.1 73.1 400.0 73.5 403.4 74.2C406.7 74.9 411.7 75.6 414.5 76.1C417.3 76.6 417.9 76.5 420.0 77.2C422.1 77.9 425.4 79.2 427.1 80.2C428.8 81.2 428.7 82.2 430.2 83.1C431.7 83.9 435.1 84.2 436.2 85.1C437.3 86.1 436.1 88.1 436.8 88.9C437.4 89.7 439.4 88.9 440.2 90.1C440.9 91.3 441.1 94.5 441.3 96.1C441.5 97.7 441.4 98.1 441.3 99.6Z" fill="#f1d4a2" stroke="#3a2a18" stroke-width="2.0"/>
<path d="M436.2 99.3C436.1 100.1 435.0 99.9 434.3 100.9C433.6 101.9 432.8 104.3 432.1 105.4C431.4 106.5 430.9 107.1 430.1 107.6C429.2 108.1 428.5 108.0 427.2 108.3C425.8 108.7 423.3 109.7 422.0 109.8C420.6 109.9 420.5 108.9 418.9 108.9C417.4 108.9 414.7 109.7 412.5 109.7C410.3 109.7 407.9 109.4 405.6 108.9C403.2 108.4 401.4 107.1 398.6 106.8C395.8 106.5 393.2 107.8 389.0 107.2C384.7 106.6 378.9 104.3 373.1 103.5C367.3 102.6 358.3 102.7 354.0 102.1C349.8 101.4 350.3 100.3 347.4 99.5C344.5 98.7 339.2 98.1 336.6 97.4C334.1 96.7 333.7 95.7 332.0 95.2C330.3 94.7 328.2 94.8 326.2 94.5C324.2 94.1 321.6 93.6 320.1 93.1C318.6 92.5 317.7 92.0 317.1 91.2C316.6 90.4 317.6 89.1 316.9 88.3C316.3 87.5 313.7 87.0 313.2 86.4C312.7 85.8 314.2 86.0 313.9 84.7C313.6 83.5 311.4 80.6 311.4 79.0C311.5 77.4 313.5 76.3 314.1 75.2C314.7 74.1 314.2 72.8 315.1 72.2C316.0 71.6 318.7 71.9 319.5 71.6C320.3 71.3 319.1 71.0 319.9 70.4C320.7 69.8 322.6 68.5 324.2 68.2C325.8 67.8 327.7 67.9 329.4 68.3C331.1 68.7 332.3 70.7 334.4 70.7C336.5 70.7 339.3 68.8 342.3 68.3C345.2 67.9 349.1 67.4 352.0 68.0C354.8 68.6 355.1 71.0 359.3 71.8C363.4 72.7 371.3 72.2 376.9 72.9C382.6 73.7 389.1 75.0 393.0 76.3C396.9 77.5 397.5 79.9 400.3 80.5C403.1 81.1 407.0 79.8 409.9 79.9C412.8 80.1 415.4 80.9 417.7 81.4C419.9 82.0 421.6 82.2 423.4 83.2C425.2 84.2 427.4 86.5 428.7 87.3C430.0 88.2 430.3 87.6 430.9 88.2C431.6 88.9 431.8 90.6 432.6 91.2C433.4 91.8 435.2 91.1 435.6 92.0C436.1 92.8 435.2 95.0 435.3 96.3C435.4 97.5 436.4 98.6 436.2 99.3Z" fill="#b8a27e" stroke="#2e2014" stroke-width="2.0"/>
<path d="M374.2 103.4C373.4 103.1 372.7 101.4 372.7 100.5C372.7 99.7 373.6 98.8 374.3 98.2C375.0 97.6 376.0 97.0 376.8 97.2C377.7 97.4 379.4 98.5 379.5 99.4C379.6 100.3 378.3 101.9 377.5 102.6C376.6 103.2 375.0 103.7 374.2 103.4Z M383.3 93.5C382.8 94.2 381.5 94.8 380.4 94.4C379.3 93.9 377.6 91.8 377.0 90.7C376.4 89.6 376.3 88.1 376.8 87.6C377.3 87.2 378.8 87.5 379.9 88.0C381.1 88.5 383.0 89.6 383.6 90.6C384.2 91.5 383.9 92.9 383.3 93.5Z M412.2 100.5C411.5 100.3 411.1 97.6 411.3 96.2C411.5 94.8 412.4 92.8 413.3 91.9C414.2 91.0 415.9 90.7 416.6 91.1C417.3 91.5 417.5 93.3 417.3 94.4C417.2 95.4 416.5 96.4 415.6 97.5C414.8 98.5 412.9 100.7 412.2 100.5Z M397.8 105.1C397.0 104.5 395.3 103.4 395.6 102.5C396.0 101.6 398.4 100.5 399.9 99.8C401.3 99.1 403.5 97.7 404.3 98.2C405.1 98.7 405.3 101.5 404.6 102.8C404.0 104.0 401.5 105.2 400.4 105.6C399.3 106.0 398.6 105.6 397.8 105.1Z M369.4 87.5C368.6 88.0 367.5 88.4 366.5 87.9C365.4 87.4 363.4 85.6 363.1 84.5C362.9 83.4 364.1 81.7 364.9 81.2C365.7 80.8 367.1 81.2 368.2 81.8C369.3 82.4 371.1 83.9 371.3 84.9C371.5 85.8 370.2 87.0 369.4 87.5Z M424.9 101.3C424.5 100.2 424.2 98.8 424.8 98.0C425.3 97.2 427.3 96.3 428.3 96.4C429.3 96.6 430.4 98.1 430.7 99.0C430.9 99.9 430.6 101.0 429.9 101.8C429.3 102.7 427.8 104.3 427.0 104.2C426.1 104.1 425.3 102.3 424.9 101.3Z M364.0 76.9C362.9 77.0 361.2 76.6 360.6 75.9C360.0 75.2 360.3 73.7 360.7 72.6C361.0 71.6 361.9 69.8 362.7 69.6C363.6 69.5 364.9 70.8 365.7 71.7C366.5 72.6 367.5 74.1 367.2 74.9C367.0 75.8 365.1 76.7 364.0 76.9Z M428.2 93.7C427.9 94.1 426.6 94.1 425.8 93.9C424.9 93.7 423.7 93.2 423.3 92.5C423.0 91.9 423.3 90.6 423.7 90.1C424.2 89.5 425.4 89.3 426.1 89.5C426.7 89.7 427.2 90.6 427.5 91.3C427.9 92.0 428.5 93.2 428.2 93.7Z M412.5 96.3C411.6 96.4 409.9 96.4 409.6 95.6C409.3 94.7 410.0 92.3 410.5 91.1C411.0 89.9 412.0 88.2 412.7 88.2C413.3 88.2 414.2 90.2 414.5 91.3C414.9 92.4 415.0 94.2 414.7 95.0C414.3 95.9 413.3 96.2 412.5 96.3Z M343.9 91.3C343.8 90.4 344.2 89.5 344.8 89.0C345.4 88.4 346.4 87.8 347.5 87.8C348.6 87.8 351.1 88.2 351.3 88.9C351.6 89.6 349.9 91.2 348.9 92.1C347.9 92.9 346.3 94.2 345.4 94.0C344.6 93.9 344.0 92.1 343.9 91.3Z M349.9 76.8C348.9 76.1 348.8 74.1 348.9 72.9C349.1 71.7 349.9 70.1 350.8 69.5C351.7 68.9 353.4 68.7 354.4 69.2C355.4 69.7 356.7 71.1 356.7 72.5C356.7 73.8 355.6 76.6 354.5 77.3C353.3 78.0 350.8 77.5 349.9 76.8Z M399.5 110.6C398.6 110.4 397.7 107.7 397.5 106.3C397.4 105.0 398.0 103.6 398.8 102.6C399.5 101.6 400.6 100.2 401.8 100.3C402.9 100.3 405.4 101.5 405.6 102.7C405.7 103.9 403.9 106.0 402.9 107.3C401.9 108.7 400.4 110.8 399.5 110.6Z M372.0 85.5C371.4 86.1 369.1 86.1 368.1 85.4C367.2 84.8 366.6 82.7 366.3 81.6C366.1 80.5 366.0 79.5 366.6 78.8C367.2 78.1 368.9 76.7 369.8 77.1C370.6 77.6 371.4 80.3 371.8 81.7C372.2 83.1 372.6 84.9 372.0 85.5Z M419.5 105.2C418.9 104.8 418.8 103.0 419.7 102.0C420.5 101.1 423.0 99.9 424.5 99.3C426.0 98.7 428.3 98.1 428.6 98.6C428.9 99.0 427.1 101.2 426.2 102.2C425.3 103.2 424.1 104.0 422.9 104.5C421.8 105.0 420.0 105.6 419.5 105.2Z M351.6 89.9C351.3 89.2 351.6 87.8 352.0 87.2C352.5 86.6 353.4 86.4 354.3 86.5C355.2 86.5 356.9 86.8 357.3 87.5C357.6 88.2 356.9 90.0 356.3 90.7C355.7 91.4 354.6 91.9 353.8 91.7C353.0 91.6 351.9 90.7 351.6 89.9Z M419.4 101.3C418.7 101.8 417.0 102.0 416.4 101.7C415.8 101.3 415.8 100.2 415.9 99.4C416.0 98.6 416.2 97.2 416.8 96.8C417.4 96.4 418.9 96.9 419.6 97.2C420.2 97.6 420.8 98.2 420.8 98.9C420.7 99.5 420.2 100.8 419.4 101.3Z M420.1 88.4C418.9 89.2 417.0 90.9 416.3 90.6C415.5 90.3 415.7 87.6 415.8 86.4C415.8 85.2 415.8 84.1 416.6 83.4C417.5 82.7 419.6 81.6 420.7 82.0C421.8 82.4 423.3 84.6 423.2 85.7C423.1 86.8 421.2 87.6 420.1 88.4Z M414.5 103.0C413.8 103.2 412.5 103.1 412.0 102.6C411.5 102.1 411.4 100.7 411.6 100.0C411.8 99.3 412.6 98.8 413.2 98.6C413.9 98.4 414.9 98.2 415.5 98.7C416.0 99.2 416.6 100.6 416.5 101.3C416.3 102.0 415.3 102.8 414.5 103.0Z M358.2 85.0C357.3 85.4 355.9 84.9 355.1 84.6C354.3 84.3 353.3 83.9 353.4 83.2C353.4 82.5 354.3 81.1 355.2 80.5C356.1 79.8 357.8 79.2 358.7 79.4C359.5 79.7 360.4 80.8 360.3 81.8C360.2 82.7 359.0 84.5 358.2 85.0Z M428.6 96.9C427.6 96.9 425.9 96.9 425.5 96.1C425.0 95.2 425.4 92.8 426.0 91.9C426.5 91.0 428.1 90.5 429.0 90.6C429.9 90.7 431.2 91.5 431.6 92.4C432.0 93.4 431.8 95.4 431.3 96.1C430.8 96.8 429.6 96.9 428.6 96.9Z M343.4 76.5C343.1 75.7 343.6 73.9 344.5 73.3C345.3 72.6 347.4 72.5 348.4 72.8C349.4 73.2 350.4 74.3 350.5 75.2C350.7 76.1 350.2 77.6 349.4 78.1C348.7 78.6 347.0 78.4 346.0 78.2C345.0 77.9 343.6 77.4 343.4 76.5Z M337.4 85.4C336.7 85.7 335.7 85.3 334.8 84.8C333.9 84.2 332.4 82.9 332.1 81.9C331.7 81.0 332.1 79.6 332.8 79.1C333.4 78.5 334.8 77.9 335.8 78.6C336.9 79.3 338.8 81.9 339.0 83.1C339.3 84.2 338.1 85.2 337.4 85.4Z M417.8 98.8C417.1 99.0 415.7 98.0 415.2 97.0C414.6 96.1 414.4 93.9 414.5 92.9C414.6 92.0 415.3 91.6 415.8 91.5C416.4 91.4 417.0 91.5 417.6 92.2C418.2 93.0 419.4 95.0 419.4 96.1C419.5 97.2 418.5 98.7 417.8 98.8Z M371.3 87.7C371.1 88.8 369.5 90.3 368.5 90.4C367.4 90.6 365.7 89.4 364.8 88.7C364.0 88.0 363.2 87.0 363.3 86.2C363.4 85.3 364.3 83.9 365.3 83.6C366.4 83.3 368.6 83.5 369.6 84.2C370.6 84.9 371.5 86.7 371.3 87.7Z M344.2 81.0C343.5 80.5 343.1 79.1 343.4 77.8C343.7 76.6 345.2 74.2 346.2 73.6C347.2 73.0 348.8 73.6 349.4 74.2C350.1 74.9 350.4 76.1 350.1 77.3C349.8 78.4 348.6 80.6 347.6 81.2C346.7 81.8 345.0 81.6 344.2 81.0Z M371.0 87.1C370.9 86.3 371.8 85.1 372.4 84.7C373.0 84.2 373.7 84.1 374.4 84.4C375.2 84.7 376.8 85.5 377.0 86.4C377.1 87.3 376.2 89.3 375.5 89.8C374.8 90.2 373.6 89.7 372.9 89.2C372.1 88.8 371.0 87.8 371.0 87.1Z M373.4 101.4C372.9 101.7 371.9 101.7 371.1 101.1C370.3 100.4 368.8 98.6 368.7 97.6C368.7 96.6 369.8 95.6 370.6 95.2C371.5 94.8 373.2 94.4 373.8 95.1C374.4 95.8 374.4 98.2 374.4 99.3C374.3 100.3 374.0 101.1 373.4 101.4Z M360.7 99.3C360.1 99.8 358.1 99.0 357.3 98.1C356.5 97.2 356.2 95.1 356.2 93.9C356.2 92.6 356.5 91.0 357.2 90.6C357.9 90.3 359.8 90.9 360.4 91.8C361.1 92.6 361.1 94.4 361.1 95.6C361.2 96.9 361.4 98.9 360.7 99.3Z M378.1 90.4C377.2 91.1 375.1 91.3 374.1 90.7C373.1 90.1 372.4 88.2 372.2 87.0C372.1 85.7 372.3 83.8 373.2 83.1C374.0 82.5 376.2 82.5 377.3 83.1C378.4 83.7 379.5 85.6 379.6 86.8C379.7 88.0 379.0 89.8 378.1 90.4Z M381.9 106.7C381.2 106.8 380.1 105.6 379.6 104.8C379.1 104.0 378.9 102.9 379.0 102.1C379.2 101.3 380.0 100.4 380.5 100.3C381.1 100.2 382.0 100.8 382.5 101.5C383.1 102.2 384.0 103.5 383.8 104.4C383.7 105.3 382.6 106.7 381.9 106.7Z M365.0 85.8C364.6 85.1 365.2 83.4 365.9 82.5C366.5 81.5 368.1 80.2 369.0 80.1C369.9 80.1 371.1 81.4 371.3 82.2C371.6 82.9 371.0 83.8 370.5 84.5C370.0 85.3 369.2 86.5 368.3 86.7C367.4 86.9 365.4 86.5 365.0 85.8Z M320.8 89.1C320.2 88.7 319.9 87.0 320.0 86.2C320.1 85.3 320.6 84.6 321.3 84.1C322.0 83.5 323.4 82.5 324.1 82.8C324.7 83.0 325.4 84.7 325.4 85.7C325.4 86.6 324.7 88.0 324.0 88.5C323.2 89.1 321.5 89.5 320.8 89.1Z M404.6 90.0C404.0 90.0 403.0 89.5 402.7 88.7C402.5 88.0 402.6 86.4 403.0 85.6C403.4 84.8 404.5 83.9 405.2 83.9C405.8 84.0 406.6 85.3 406.8 86.1C406.9 86.9 406.5 87.9 406.1 88.6C405.7 89.2 405.2 89.9 404.6 90.0Z M394.5 107.7C394.0 108.1 392.5 107.6 391.4 106.9C390.2 106.2 387.9 104.4 387.5 103.5C387.2 102.6 388.6 101.8 389.2 101.4C389.9 101.0 390.7 100.4 391.5 100.9C392.4 101.4 393.7 103.3 394.2 104.5C394.7 105.6 395.0 107.3 394.5 107.7Z M397.6 83.2C397.4 83.9 395.1 84.2 393.6 84.0C392.1 83.9 389.6 83.3 388.7 82.4C387.8 81.6 388.0 79.9 388.5 79.2C388.9 78.5 390.2 78.0 391.4 78.1C392.5 78.2 394.1 78.9 395.1 79.8C396.2 80.6 397.9 82.4 397.6 83.2Z M358.9 101.6C358.1 101.8 356.7 102.2 356.2 101.6C355.6 101.1 355.4 99.2 355.6 98.2C355.8 97.1 356.5 95.6 357.3 95.4C358.1 95.1 359.8 95.9 360.4 96.7C361.1 97.5 361.4 99.3 361.2 100.1C360.9 101.0 359.8 101.3 358.9 101.6Z M343.5 88.2C343.4 89.0 343.9 90.1 342.8 90.5C341.8 90.9 338.1 91.0 337.1 90.6C336.0 90.2 336.2 88.8 336.3 88.1C336.5 87.4 336.8 86.7 337.9 86.3C339.1 85.9 342.3 85.3 343.2 85.6C344.2 86.0 343.5 87.4 343.5 88.2Z M422.8 93.2C422.5 92.4 422.4 90.6 423.4 90.1C424.4 89.5 427.6 89.6 428.7 90.0C429.9 90.3 430.1 91.2 430.3 92.0C430.5 92.8 430.6 94.2 429.7 94.7C428.9 95.2 426.2 95.2 425.1 95.0C423.9 94.7 423.1 94.0 422.8 93.2Z M397.9 92.9C397.0 92.3 396.2 91.4 396.2 90.3C396.2 89.2 396.9 87.4 397.8 86.5C398.8 85.7 401.1 84.9 402.1 85.4C403.1 86.0 403.7 88.2 403.6 89.6C403.5 91.1 402.4 93.4 401.5 94.0C400.5 94.5 398.8 93.5 397.9 92.9Z M345.1 83.6C344.9 84.5 344.8 86.0 344.0 86.2C343.2 86.4 341.0 85.6 340.2 84.9C339.5 84.3 339.2 83.1 339.3 82.4C339.5 81.7 340.4 80.9 341.3 80.6C342.3 80.4 344.3 80.6 344.9 81.1C345.5 81.6 345.2 82.8 345.1 83.6Z M343.6 81.9C343.5 81.5 344.7 80.5 345.7 79.9C346.6 79.3 348.2 78.4 349.3 78.2C350.5 78.1 352.7 78.5 352.8 79.1C352.9 79.6 350.9 80.9 349.8 81.5C348.7 82.1 347.3 82.7 346.3 82.8C345.3 82.8 343.7 82.4 343.6 81.9Z M355.1 77.8C354.1 77.6 352.5 75.7 352.4 74.5C352.3 73.3 353.4 71.3 354.2 70.5C355.0 69.7 356.0 69.5 357.2 69.6C358.3 69.7 360.6 70.1 360.9 71.1C361.1 72.1 359.5 74.5 358.6 75.6C357.6 76.7 356.2 78.0 355.1 77.8Z M423.7 100.1C423.0 99.6 422.0 98.9 422.0 98.3C422.0 97.7 423.2 96.8 423.9 96.3C424.6 95.9 425.6 95.3 426.2 95.6C426.9 95.8 427.9 97.0 427.9 97.9C427.9 98.8 427.1 100.8 426.4 101.1C425.7 101.5 424.5 100.5 423.7 100.1Z M338.5 85.1C337.6 85.6 336.1 86.3 335.1 85.6C334.0 84.9 332.2 82.0 332.0 80.6C331.9 79.2 333.4 77.7 334.3 77.5C335.2 77.2 336.6 78.2 337.6 79.0C338.5 79.8 340.1 81.4 340.2 82.4C340.4 83.4 339.3 84.5 338.5 85.1Z M372.6 105.2C371.7 105.5 370.6 105.0 369.6 104.5C368.6 103.9 366.7 102.9 366.6 101.8C366.5 100.8 367.8 98.6 369.0 98.1C370.1 97.5 372.5 97.6 373.5 98.4C374.5 99.1 375.2 101.3 375.0 102.5C374.9 103.6 373.5 104.9 372.6 105.2Z M382.3 104.3C382.1 103.7 383.6 102.2 384.4 101.0C385.2 99.8 386.4 97.6 387.2 97.2C388.1 96.9 388.9 98.3 389.3 99.0C389.6 99.7 389.9 100.4 389.3 101.3C388.7 102.3 387.0 104.4 385.8 104.9C384.6 105.4 382.6 105.0 382.3 104.3Z M420.0 94.7C419.4 94.5 419.0 93.2 419.2 91.9C419.4 90.6 420.3 87.6 421.0 86.8C421.6 86.1 422.6 86.8 423.2 87.1C423.9 87.4 425.0 87.7 424.9 88.7C424.7 89.7 423.4 92.2 422.6 93.2C421.8 94.2 420.6 94.9 420.0 94.7Z M382.7 90.8C381.9 90.7 381.1 90.1 380.7 89.3C380.3 88.5 380.0 86.5 380.5 85.7C380.9 85.0 382.4 84.7 383.3 84.8C384.1 84.9 385.3 85.4 385.6 86.3C386.0 87.2 386.0 89.3 385.5 90.1C385.0 90.8 383.5 90.9 382.7 90.8Z M342.6 88.8C342.6 89.4 340.6 90.3 339.4 90.3C338.2 90.3 336.2 89.5 335.2 88.9C334.2 88.4 333.5 87.8 333.5 87.2C333.5 86.6 334.0 85.4 334.9 85.3C335.8 85.3 337.8 86.3 339.1 86.9C340.3 87.4 342.5 88.2 342.6 88.8Z M385.8 96.0C385.3 95.1 385.1 93.4 385.5 92.6C385.8 91.7 386.8 90.5 387.7 90.7C388.5 90.9 390.0 92.6 390.5 93.7C391.1 94.9 391.3 96.8 391.0 97.6C390.6 98.3 389.2 98.5 388.3 98.2C387.5 98.0 386.3 97.0 385.8 96.0Z M411.0 103.6C410.1 103.9 408.4 103.5 407.6 102.9C406.9 102.2 406.6 100.5 406.6 99.5C406.5 98.5 406.9 97.1 407.5 96.7C408.2 96.3 409.7 96.6 410.6 97.2C411.4 97.8 412.7 99.4 412.7 100.5C412.8 101.6 411.8 103.2 411.0 103.6Z M350.1 79.5C349.6 79.8 347.8 79.2 347.1 78.5C346.3 77.9 345.7 76.4 345.6 75.6C345.5 74.7 345.9 73.9 346.5 73.4C347.1 72.9 348.5 72.2 349.2 72.6C349.8 73.1 350.2 75.1 350.3 76.3C350.5 77.4 350.7 79.1 350.1 79.5Z M409.4 102.8C409.0 103.5 406.6 103.7 405.5 103.7C404.3 103.7 403.4 103.4 402.3 102.8C401.2 102.2 398.8 100.7 399.0 100.1C399.1 99.5 401.7 99.4 403.1 99.2C404.6 99.1 406.7 98.6 407.8 99.2C408.8 99.8 409.8 102.0 409.4 102.8Z M389.6 102.2C388.8 102.6 387.4 102.8 386.5 102.2C385.6 101.5 384.3 99.7 384.4 98.5C384.4 97.4 385.9 95.8 386.9 95.4C387.9 95.1 389.8 95.8 390.5 96.5C391.2 97.3 391.4 99.0 391.2 99.9C391.1 100.9 390.4 101.8 389.6 102.2Z M390.5 83.6C389.9 83.6 389.0 82.7 388.7 82.0C388.4 81.3 388.4 80.2 388.7 79.3C388.9 78.4 389.7 76.6 390.4 76.5C391.2 76.4 392.7 77.8 393.0 78.6C393.3 79.5 392.6 81.0 392.2 81.9C391.7 82.7 391.1 83.6 390.5 83.6Z M366.6 80.7C366.0 81.3 364.8 82.2 363.9 81.9C363.0 81.5 361.6 79.6 361.2 78.7C360.9 77.7 361.4 76.8 362.0 76.2C362.5 75.6 363.5 74.6 364.4 74.9C365.4 75.2 367.2 77.0 367.5 78.0C367.9 78.9 367.2 80.0 366.6 80.7Z M326.9 81.5C326.1 81.7 324.7 81.1 324.2 80.5C323.7 80.0 323.7 78.8 323.9 78.1C324.2 77.4 324.9 76.4 325.7 76.2C326.4 76.0 327.7 76.3 328.3 76.9C328.9 77.4 329.3 78.7 329.1 79.5C328.8 80.2 327.7 81.4 326.9 81.5Z M415.0 87.8C414.2 86.9 412.7 84.9 413.0 84.1C413.3 83.4 415.5 83.5 416.8 83.4C418.0 83.3 420.1 82.8 420.6 83.5C421.2 84.2 420.6 86.4 420.1 87.4C419.7 88.5 418.7 89.8 417.9 89.8C417.0 89.9 415.8 88.7 415.0 87.8Z M367.8 101.1C367.0 100.7 366.5 98.9 366.5 98.0C366.4 97.1 366.8 96.0 367.5 95.7C368.1 95.3 369.8 95.6 370.6 96.1C371.4 96.5 372.1 97.8 372.2 98.5C372.2 99.2 371.7 99.9 370.9 100.3C370.2 100.8 368.5 101.5 367.8 101.1Z M414.8 90.1C413.8 90.0 412.4 89.5 412.0 88.5C411.7 87.5 412.0 85.4 412.7 84.3C413.5 83.2 415.5 81.8 416.4 82.1C417.3 82.3 418.1 84.5 418.3 85.8C418.6 87.0 418.4 88.8 417.8 89.6C417.2 90.3 415.7 90.3 414.8 90.1Z M406.8 103.4C406.4 103.0 406.9 101.6 407.2 100.8C407.5 99.9 408.2 98.6 408.8 98.5C409.3 98.4 410.2 99.6 410.6 100.1C411.0 100.7 411.2 101.4 411.0 101.9C410.8 102.4 410.1 102.9 409.4 103.2C408.7 103.4 407.2 103.8 406.8 103.4Z M394.0 94.8C393.3 95.6 391.7 95.6 390.6 95.6C389.6 95.7 388.0 96.0 387.7 95.3C387.4 94.6 388.2 92.7 388.9 91.5C389.6 90.4 390.8 88.8 391.8 88.6C392.8 88.4 394.4 89.4 394.7 90.4C395.1 91.4 394.7 93.9 394.0 94.8Z M425.8 102.2C424.8 101.6 424.0 100.0 424.0 99.0C423.9 98.0 424.5 96.7 425.3 96.4C426.1 96.1 428.0 96.7 428.8 97.2C429.6 97.8 430.3 98.9 430.4 99.8C430.5 100.7 430.4 102.2 429.7 102.6C428.9 103.0 426.7 102.8 425.8 102.2Z M410.3 82.3C410.1 83.5 408.8 85.3 407.6 85.7C406.5 86.1 404.2 85.4 403.3 84.7C402.4 84.0 402.1 82.3 402.3 81.3C402.5 80.4 403.5 79.8 404.5 79.3C405.5 78.7 407.6 77.8 408.5 78.3C409.5 78.8 410.4 81.0 410.3 82.3Z M376.7 83.1C376.4 82.7 377.5 80.9 378.1 79.7C378.7 78.5 379.4 76.6 380.4 76.0C381.4 75.3 383.6 75.2 384.0 75.8C384.3 76.4 383.2 78.4 382.6 79.4C381.9 80.4 381.1 81.3 380.1 82.0C379.1 82.6 377.0 83.5 376.7 83.1Z M384.5 91.6C383.9 90.8 383.6 88.8 384.1 87.9C384.7 86.9 386.7 86.0 387.7 86.0C388.7 86.1 389.8 87.4 390.1 88.2C390.5 89.0 390.4 90.2 390.0 90.9C389.5 91.7 388.5 92.6 387.6 92.7C386.7 92.8 385.1 92.4 384.5 91.6Z M372.6 96.9C371.9 96.2 370.6 94.9 370.8 94.2C371.0 93.6 372.7 93.1 373.6 92.9C374.6 92.7 375.9 92.5 376.6 93.0C377.2 93.6 377.9 95.4 377.7 96.3C377.4 97.1 375.9 98.0 375.0 98.1C374.2 98.2 373.3 97.5 372.6 96.9Z M345.6 92.3C344.7 92.5 343.8 92.9 343.1 92.2C342.4 91.6 341.4 89.3 341.6 88.6C341.8 87.8 343.4 87.7 344.3 87.5C345.2 87.3 346.4 86.5 347.1 87.2C347.8 87.8 348.7 90.5 348.4 91.3C348.2 92.2 346.5 92.2 345.6 92.3Z M405.3 104.1C404.7 103.5 405.2 101.0 405.9 99.9C406.6 98.7 408.2 98.0 409.5 97.3C410.8 96.6 413.4 95.0 413.9 95.4C414.3 95.8 412.9 98.4 412.2 99.8C411.4 101.1 410.7 102.8 409.5 103.5C408.4 104.2 405.9 104.7 405.3 104.1Z M398.4 108.3C397.4 108.5 395.3 107.2 394.7 105.9C394.2 104.5 394.5 101.7 395.2 100.3C395.9 98.9 397.9 97.5 398.9 97.7C399.9 97.9 400.9 100.3 401.2 101.5C401.5 102.7 401.1 103.8 400.6 104.9C400.2 106.1 399.3 108.2 398.4 108.3Z M330.1 83.8C329.8 84.5 329.7 85.8 328.6 85.8C327.4 85.9 324.4 84.8 323.2 84.1C322.1 83.3 321.5 81.8 321.8 81.2C322.1 80.6 323.7 80.4 325.1 80.4C326.5 80.4 329.3 80.6 330.1 81.2C330.9 81.7 330.3 83.0 330.1 83.8Z M373.4 77.8C372.8 77.3 372.3 76.0 372.5 75.1C372.8 74.1 373.7 72.5 374.7 71.9C375.7 71.3 377.8 70.9 378.6 71.4C379.4 72.0 380.0 74.3 379.5 75.3C379.1 76.4 377.2 77.5 376.2 77.9C375.1 78.3 374.0 78.3 373.4 77.8Z M386.2 99.6C385.3 100.3 383.8 101.5 383.0 101.3C382.2 101.0 381.2 99.0 381.3 98.0C381.4 97.1 382.7 96.1 383.5 95.6C384.3 95.1 385.6 94.6 386.4 94.9C387.2 95.2 388.4 96.6 388.4 97.4C388.4 98.2 387.1 99.0 386.2 99.6Z M375.5 104.5C374.8 104.0 373.3 103.5 373.6 102.4C373.9 101.3 376.2 98.5 377.2 97.9C378.3 97.3 379.4 98.1 379.9 98.7C380.4 99.2 380.6 100.1 380.3 101.2C379.9 102.3 378.7 104.7 377.9 105.2C377.1 105.8 376.2 105.0 375.5 104.5Z M328.9 90.7C328.3 91.3 327.3 92.1 326.3 91.8C325.2 91.5 323.1 89.9 322.7 89.0C322.3 88.1 323.2 87.2 323.7 86.5C324.2 85.8 325.0 84.6 325.9 84.8C326.9 85.1 329.0 87.0 329.5 87.9C329.9 88.9 329.4 90.1 328.9 90.7Z M415.6 99.5C415.0 99.7 414.1 99.5 413.4 98.9C412.8 98.4 412.0 97.1 411.9 96.2C411.8 95.2 412.1 93.5 412.7 93.2C413.2 93.0 414.6 94.1 415.3 94.8C416.0 95.5 416.9 96.8 417.0 97.6C417.0 98.4 416.2 99.3 415.6 99.5Z M349.6 99.9C348.4 100.0 346.2 99.3 345.6 98.6C345.0 97.9 345.3 96.2 345.9 95.5C346.5 94.8 348.1 94.5 349.3 94.4C350.4 94.4 352.2 94.5 352.8 95.1C353.4 95.6 353.3 97.1 352.8 97.9C352.2 98.7 350.8 99.7 349.6 99.9Z M341.3 81.9C340.3 81.6 339.8 80.6 339.3 79.4C338.8 78.1 338.0 75.2 338.5 74.5C339.1 73.7 341.3 74.4 342.6 74.7C343.8 75.0 345.8 74.9 346.2 76.0C346.6 77.1 345.9 80.3 345.1 81.3C344.2 82.3 342.2 82.2 341.3 81.9Z M321.6 85.0C320.9 84.5 319.7 83.7 320.0 82.6C320.4 81.6 322.5 79.2 323.5 78.8C324.6 78.3 325.6 79.2 326.3 79.8C326.9 80.4 328.0 81.4 327.6 82.4C327.2 83.4 325.1 85.3 324.0 85.7C323.0 86.1 322.3 85.5 321.6 85.0Z M412.2 94.5C411.7 93.9 410.9 93.4 411.0 92.6C411.1 91.9 412.0 90.3 412.8 89.8C413.6 89.4 415.1 89.6 415.8 90.2C416.5 90.7 417.1 92.0 416.9 93.0C416.7 94.0 415.3 95.8 414.5 96.0C413.7 96.3 412.8 95.1 412.2 94.5Z M354.6 75.6C354.2 76.1 351.7 75.6 350.4 75.1C349.0 74.6 347.3 73.7 346.5 72.8C345.7 71.9 345.4 70.4 345.8 69.7C346.2 69.0 347.7 68.3 348.9 68.6C350.1 69.0 351.8 70.7 352.8 71.9C353.7 73.0 355.0 75.1 354.6 75.6Z M367.6 96.3C367.1 95.2 367.0 92.5 367.7 91.9C368.5 91.2 370.9 92.1 372.4 92.3C373.9 92.5 376.3 92.5 376.6 93.3C377.0 94.1 375.2 96.3 374.3 97.1C373.3 97.8 371.9 98.2 370.8 98.0C369.7 97.9 368.1 97.3 367.6 96.3Z" fill="none" stroke="#241a12" stroke-width="2.0" stroke-linejoin="round"/>
<path d="M376.3 93.6C376.2 93.9 375.9 94.1 375.5 94.2C375.0 94.3 374.2 94.3 373.8 94.2C373.5 94.0 373.3 93.4 373.4 93.0C373.5 92.7 373.9 92.3 374.3 92.2C374.7 92.2 375.5 92.5 375.9 92.7C376.2 93.0 376.4 93.4 376.3 93.6Z M329.8 90.4C329.5 90.8 328.7 90.9 328.0 90.8C327.4 90.6 326.4 90.1 326.1 89.5C325.8 89.0 325.9 87.9 326.2 87.4C326.6 87.0 327.7 86.8 328.3 87.0C328.9 87.2 329.5 88.1 329.8 88.7C330.0 89.2 330.1 90.1 329.8 90.4Z M346.1 83.7C345.9 83.9 345.3 83.7 344.9 83.6C344.5 83.5 344.0 83.3 343.8 83.1C343.7 82.8 343.8 82.3 344.0 82.1C344.2 81.9 344.6 81.7 344.9 81.8C345.2 81.9 345.6 82.3 345.8 82.6C346.0 82.9 346.2 83.6 346.1 83.7Z M423.1 92.3C422.8 92.7 422.3 93.0 421.7 92.9C421.1 92.9 420.0 92.5 419.6 92.0C419.3 91.4 419.2 90.3 419.5 89.8C419.8 89.3 420.9 88.8 421.6 88.9C422.3 89.1 423.3 90.0 423.6 90.6C423.9 91.2 423.5 91.9 423.1 92.3Z M354.4 96.4C354.2 95.9 354.1 95.1 354.4 94.8C354.7 94.5 355.6 94.5 356.1 94.6C356.6 94.6 357.0 94.9 357.3 95.3C357.5 95.6 357.7 96.6 357.4 96.9C357.1 97.3 356.0 97.5 355.5 97.4C355.0 97.3 354.6 96.8 354.4 96.4Z M412.5 101.0C412.3 101.4 412.0 102.2 411.6 102.2C411.1 102.1 410.0 101.3 409.7 100.8C409.3 100.2 409.1 99.4 409.3 99.0C409.6 98.6 410.5 98.3 411.1 98.4C411.7 98.5 412.6 99.3 412.9 99.7C413.1 100.1 412.7 100.6 412.5 101.0Z M356.7 89.1C356.3 89.1 355.6 88.4 355.4 87.8C355.3 87.3 355.4 86.2 355.8 85.7C356.1 85.2 356.9 84.9 357.3 84.9C357.7 85.0 358.2 85.8 358.3 86.3C358.4 86.8 358.3 87.5 358.0 87.9C357.7 88.4 357.1 89.2 356.7 89.1Z M353.4 98.9C353.3 98.4 353.7 97.7 354.0 97.2C354.4 96.7 354.8 95.8 355.3 95.8C355.8 95.8 356.6 96.6 356.8 97.1C357.1 97.6 356.9 98.4 356.6 98.8C356.3 99.3 355.6 100.0 355.1 100.0C354.6 100.0 353.6 99.3 353.4 98.9Z M339.2 83.8C339.0 84.1 338.1 84.2 337.5 84.1C336.9 84.0 335.8 83.8 335.6 83.4C335.3 83.0 335.7 82.3 335.9 82.0C336.1 81.6 336.5 81.2 337.0 81.3C337.4 81.3 338.2 81.8 338.6 82.2C338.9 82.7 339.3 83.5 339.2 83.8Z M354.3 98.3C354.0 98.2 353.8 97.6 353.8 97.3C353.9 97.0 354.1 96.7 354.4 96.5C354.6 96.3 355.0 95.8 355.3 95.9C355.5 96.0 355.7 96.6 355.7 96.9C355.7 97.2 355.4 97.6 355.2 97.9C355.0 98.1 354.5 98.4 354.3 98.3Z M363.3 97.0C363.2 96.6 363.2 95.8 363.5 95.7C363.8 95.5 364.7 96.0 365.2 96.2C365.6 96.4 366.0 96.6 366.1 96.9C366.2 97.3 366.1 98.1 365.7 98.3C365.3 98.5 364.1 98.3 363.7 98.1C363.3 97.9 363.3 97.4 363.3 97.0Z M385.8 99.5C385.5 99.8 385.0 100.0 384.6 99.9C384.2 99.8 383.6 99.4 383.6 99.1C383.6 98.8 384.0 98.2 384.4 97.9C384.8 97.6 385.5 97.0 385.8 97.1C386.2 97.2 386.4 98.0 386.4 98.4C386.4 98.8 386.1 99.3 385.8 99.5Z M340.9 93.3C340.7 92.9 340.6 92.0 340.9 91.8C341.1 91.6 341.8 91.8 342.3 91.9C342.8 92.0 343.8 92.0 343.9 92.3C344.0 92.6 343.2 93.4 342.9 93.6C342.5 93.9 342.1 94.1 341.8 94.0C341.5 94.0 341.0 93.6 340.9 93.3Z M384.6 94.2C384.1 94.0 383.5 93.2 383.4 92.8C383.4 92.4 383.7 91.8 384.1 91.6C384.4 91.4 385.0 91.6 385.5 91.8C386.0 91.9 386.8 92.3 386.9 92.6C387.0 92.9 386.5 93.4 386.1 93.7C385.7 94.0 385.0 94.3 384.6 94.2Z M376.6 96.9C376.6 97.3 376.2 97.7 375.9 97.9C375.5 98.1 374.8 98.3 374.5 98.1C374.2 97.9 373.9 97.0 374.0 96.6C374.1 96.2 374.7 95.9 375.0 95.8C375.4 95.6 375.8 95.7 376.1 95.9C376.4 96.1 376.7 96.6 376.6 96.9Z M355.5 75.1C355.5 74.6 356.5 73.9 357.1 73.7C357.6 73.4 358.5 73.2 359.0 73.4C359.6 73.5 360.0 74.0 360.1 74.5C360.2 74.9 360.1 75.7 359.6 76.0C359.1 76.3 357.7 76.7 357.1 76.5C356.4 76.3 355.5 75.5 355.5 75.1Z M405.0 96.6C404.7 96.6 404.1 96.2 403.7 95.7C403.3 95.3 402.7 94.5 402.7 93.9C402.7 93.3 403.3 92.3 403.8 92.2C404.3 92.0 405.3 92.4 405.7 92.9C406.1 93.4 406.1 94.7 406.0 95.3C405.9 95.9 405.4 96.5 405.0 96.6Z M419.1 93.7C418.9 94.0 417.9 94.1 417.2 93.8C416.6 93.6 415.5 92.8 415.2 92.4C414.9 92.0 415.4 91.6 415.6 91.3C415.8 91.0 416.1 90.7 416.5 90.9C417.0 91.0 418.0 91.5 418.4 92.0C418.9 92.4 419.3 93.4 419.1 93.7Z M354.6 88.7C354.1 88.9 353.4 88.8 353.1 88.6C352.7 88.4 352.5 88.0 352.5 87.6C352.5 87.2 352.6 86.2 353.0 86.0C353.4 85.8 354.2 86.0 354.7 86.2C355.2 86.5 356.0 86.9 356.0 87.3C355.9 87.7 355.0 88.4 354.6 88.7Z M386.6 92.3C386.2 92.5 385.2 92.6 384.9 92.4C384.6 92.2 384.7 91.5 384.9 91.1C385.0 90.7 385.2 90.3 385.6 90.1C386.0 89.9 387.0 89.6 387.3 89.8C387.5 89.9 387.4 90.6 387.3 91.0C387.2 91.5 387.0 92.1 386.6 92.3Z M370.3 93.2C370.0 93.5 369.7 94.2 369.2 94.0C368.8 93.9 367.8 92.8 367.5 92.3C367.2 91.8 367.3 91.4 367.5 91.1C367.7 90.8 368.1 90.3 368.6 90.4C369.1 90.6 370.4 91.5 370.7 92.0C371.0 92.5 370.5 92.9 370.3 93.2Z M387.6 92.7C387.4 93.1 386.7 93.6 386.3 93.7C385.9 93.8 385.1 93.6 385.0 93.2C384.8 92.9 385.0 92.0 385.3 91.5C385.5 91.1 386.1 90.7 386.4 90.6C386.8 90.6 387.2 90.9 387.4 91.3C387.6 91.6 387.8 92.3 387.6 92.7Z M413.6 97.9C413.4 98.3 412.9 98.5 412.5 98.7C412.0 98.9 411.1 99.4 410.8 99.1C410.6 98.8 410.9 97.5 411.1 96.9C411.4 96.3 412.0 95.6 412.4 95.5C412.8 95.4 413.4 95.9 413.5 96.3C413.7 96.7 413.8 97.5 413.6 97.9Z M324.9 80.5C324.3 80.5 323.5 80.4 323.2 80.0C322.8 79.6 322.6 78.8 322.8 78.3C323.1 77.8 324.0 77.2 324.6 77.1C325.3 77.1 326.2 77.6 326.6 78.1C327.0 78.5 327.2 79.5 326.9 79.9C326.6 80.3 325.5 80.5 324.9 80.5Z M375.3 98.3C375.1 98.6 374.4 98.9 374.1 98.9C373.8 98.8 373.3 98.3 373.3 98.0C373.3 97.7 373.7 97.3 374.0 97.0C374.3 96.7 374.7 96.2 375.0 96.2C375.3 96.3 375.6 96.8 375.7 97.1C375.7 97.5 375.6 98.0 375.3 98.3Z M416.4 89.0C416.2 89.1 415.7 88.9 415.3 88.7C415.0 88.5 414.7 88.2 414.5 87.8C414.2 87.4 413.8 86.7 413.9 86.5C414.0 86.3 414.8 86.3 415.2 86.6C415.6 86.8 416.2 87.6 416.4 88.0C416.6 88.4 416.6 88.9 416.4 89.0Z M375.3 95.5C375.1 96.0 374.6 96.9 374.2 97.0C373.9 97.0 373.3 96.4 373.2 96.1C373.0 95.7 373.1 95.1 373.3 94.6C373.5 94.1 374.1 93.0 374.4 92.9C374.8 92.8 375.3 93.6 375.4 94.1C375.6 94.5 375.5 95.0 375.3 95.5Z M426.2 102.6C425.6 102.8 424.6 103.1 424.2 102.8C423.7 102.5 423.4 101.3 423.5 100.8C423.7 100.3 424.8 100.1 425.3 100.0C425.9 99.8 426.5 99.8 426.9 100.0C427.3 100.3 427.9 101.2 427.8 101.6C427.6 102.0 426.8 102.4 426.2 102.6Z M412.6 90.7C412.3 90.7 411.8 90.2 411.6 89.7C411.3 89.2 411.0 88.5 411.2 87.9C411.4 87.3 412.1 86.3 412.6 86.3C413.0 86.3 413.6 87.4 413.8 88.0C414.0 88.6 414.0 89.3 413.8 89.8C413.6 90.2 413.0 90.7 412.6 90.7Z M393.2 96.3C393.1 95.9 393.9 95.1 394.3 94.8C394.8 94.4 395.5 94.4 395.9 94.5C396.4 94.6 396.8 94.9 397.0 95.4C397.1 95.8 397.2 96.7 396.9 97.0C396.5 97.3 395.5 97.3 394.9 97.2C394.2 97.0 393.2 96.7 393.2 96.3Z M347.0 95.1C346.9 94.7 347.0 94.1 347.3 93.7C347.6 93.3 348.2 92.9 348.7 92.8C349.1 92.7 349.8 92.8 350.0 93.1C350.2 93.4 350.3 94.1 350.0 94.6C349.7 95.1 348.9 96.0 348.4 96.1C347.9 96.2 347.2 95.5 347.0 95.1Z M326.2 80.6C326.1 80.2 326.7 79.5 327.3 79.1C327.8 78.8 329.0 78.5 329.6 78.5C330.2 78.5 330.9 79.1 330.9 79.4C330.9 79.7 330.0 80.2 329.5 80.4C329.0 80.7 328.5 81.0 328.0 81.1C327.4 81.1 326.3 80.9 326.2 80.6Z M387.9 92.6C387.4 92.3 386.9 91.2 387.0 90.6C387.1 90.1 388.0 89.5 388.6 89.1C389.2 88.6 390.2 87.8 390.6 88.0C391.0 88.2 391.1 89.5 391.1 90.2C391.0 91.0 390.6 92.1 390.1 92.5C389.6 92.9 388.5 92.9 387.9 92.6Z M425.2 101.5C424.7 101.1 424.0 100.6 424.0 100.3C423.9 100.0 424.5 99.8 424.9 99.7C425.2 99.5 425.8 99.3 426.3 99.5C426.8 99.8 427.6 100.5 427.8 101.0C427.9 101.5 427.5 102.2 427.1 102.3C426.7 102.4 425.7 101.8 425.2 101.5Z M394.2 95.6C393.9 95.3 393.7 94.6 393.9 94.2C394.0 93.7 394.7 93.2 395.2 92.9C395.8 92.7 396.8 92.5 397.0 92.8C397.2 93.1 396.8 94.0 396.6 94.5C396.3 95.1 396.1 95.7 395.7 95.9C395.3 96.1 394.5 95.9 394.2 95.6Z M399.8 90.2C399.7 90.8 399.3 91.9 399.0 92.1C398.7 92.4 398.2 92.1 397.9 91.7C397.6 91.4 397.2 90.6 397.2 90.1C397.3 89.7 397.8 89.3 398.1 89.0C398.5 88.7 398.8 88.3 399.1 88.5C399.3 88.7 399.8 89.6 399.8 90.2Z M386.6 88.9C386.3 88.4 386.2 87.4 386.6 87.0C387.0 86.7 388.1 86.7 388.8 86.7C389.5 86.7 390.6 86.8 390.8 87.2C390.9 87.6 390.2 88.5 389.7 88.9C389.2 89.4 388.4 90.1 387.9 90.0C387.4 90.0 386.8 89.4 386.6 88.9Z M324.3 78.3C323.9 78.5 323.2 78.3 323.0 78.1C322.7 77.9 322.5 77.5 322.5 77.3C322.6 77.0 322.8 76.7 323.1 76.4C323.5 76.1 324.4 75.4 324.7 75.6C325.0 75.7 325.1 76.6 325.0 77.0C325.0 77.5 324.6 78.1 324.3 78.3Z M415.7 88.2C415.6 88.6 415.5 89.2 415.1 89.4C414.6 89.6 413.6 89.7 413.2 89.5C412.7 89.2 412.3 88.4 412.4 87.9C412.5 87.5 413.2 87.2 413.7 87.0C414.1 86.8 414.9 86.7 415.3 86.9C415.6 87.1 415.7 87.8 415.7 88.2Z M416.3 99.4C415.8 99.3 415.4 98.6 415.3 98.2C415.2 97.8 415.4 97.2 415.8 96.8C416.2 96.5 417.0 95.9 417.5 96.0C418.0 96.2 418.7 97.1 418.8 97.6C418.9 98.2 418.5 99.0 418.1 99.3C417.6 99.6 416.8 99.6 416.3 99.4Z" fill="none" stroke="#f3dfba" stroke-width="1.7" stroke-linejoin="round"/>
</g>
<g clip-path="url(#c3)"><path d="M465.0 177.8C465.1 175.2 466.2 172.1 466.6 169.3C467.0 166.5 466.6 163.4 467.6 161.1C468.5 158.9 470.8 157.7 472.2 156.0C473.6 154.3 474.6 152.2 476.0 150.9C477.4 149.6 478.7 149.2 480.4 148.3C482.1 147.5 483.9 146.4 486.0 145.8C488.1 145.1 490.8 144.8 493.0 144.4C495.2 144.0 497.0 143.2 499.2 143.3C501.3 143.4 503.7 144.6 505.7 145.0C507.7 145.5 509.0 145.6 511.2 146.1C513.4 146.5 516.0 147.2 518.8 147.9C521.5 148.6 524.3 149.4 527.7 150.0C531.1 150.6 535.5 151.1 539.0 151.7C542.6 152.3 545.5 152.9 549.1 153.7C552.7 154.4 556.6 155.4 560.5 156.1C564.5 156.8 568.4 156.9 572.7 157.7C576.9 158.5 581.6 159.8 586.2 160.8C590.7 161.8 595.6 162.9 599.8 163.8C604.1 164.7 608.0 165.3 611.8 166.2C615.6 167.0 619.5 168.0 622.8 168.9C626.1 169.8 628.8 170.9 631.6 171.6C634.3 172.4 637.3 172.4 639.4 173.4C641.6 174.5 642.8 176.4 644.4 177.8C646.0 179.2 647.7 180.0 649.1 181.7C650.6 183.4 651.9 185.7 653.0 188.0C654.2 190.2 655.7 192.9 656.2 195.2C656.7 197.4 656.2 199.3 656.3 201.5C656.4 203.7 656.9 205.9 656.8 208.2C656.6 210.6 656.1 213.2 655.3 215.7C654.6 218.1 653.7 220.6 652.5 223.1C651.2 225.6 649.6 228.3 648.0 230.6C646.3 232.9 644.5 235.3 642.7 236.7C640.9 238.1 638.9 238.4 636.9 239.0C634.9 239.7 632.8 240.7 630.9 240.9C628.9 241.0 627.2 240.1 625.2 239.7C623.3 239.2 621.5 238.7 619.1 238.1C616.7 237.6 613.6 237.1 610.8 236.3C608.1 235.5 605.8 234.3 602.6 233.3C599.4 232.3 595.3 231.1 591.6 230.3C588.0 229.5 584.6 229.3 580.8 228.5C577.0 227.6 572.9 226.4 568.8 225.5C564.7 224.6 560.3 223.7 556.1 223.1C551.9 222.5 547.8 222.5 543.5 222.0C539.1 221.6 534.2 220.8 530.0 220.2C525.7 219.7 522.2 219.1 518.1 218.6C513.9 218.1 509.0 217.6 505.2 217.0C501.4 216.4 498.5 215.7 495.4 215.2C492.2 214.7 488.5 214.4 486.2 213.8C483.8 213.3 482.7 212.8 481.3 212.0C479.9 211.3 478.9 210.4 477.8 209.3C476.7 208.2 475.9 206.6 474.8 205.5C473.6 204.3 471.9 204.1 470.9 202.6C469.8 201.1 469.3 198.4 468.4 196.5C467.6 194.5 466.2 192.8 465.8 190.9C465.4 189.0 466.2 187.1 466.1 184.9C466.0 182.7 465.0 180.4 465.0 177.8Z" fill="#f6f3ec"/><path d="M465.0 177.8C465.1 175.2 466.2 172.1 466.6 169.3C467.0 166.5 466.6 163.4 467.6 161.1C468.5 158.9 470.8 157.7 472.2 156.0C473.6 154.3 474.6 152.2 476.0 150.9C477.4 149.6 478.7 149.2 480.4 148.3C482.1 147.5 483.9 146.4 486.0 145.8C488.1 145.1 490.8 144.8 493.0 144.4C495.2 144.0 497.0 143.2 499.2 143.3C501.3 143.4 503.7 144.6 505.7 145.0C507.7 145.5 509.0 145.6 511.2 146.1C513.4 146.5 516.0 147.2 518.8 147.9C521.5 148.6 524.3 149.4 527.7 150.0C531.1 150.6 535.5 151.1 539.0 151.7C542.6 152.3 545.5 152.9 549.1 153.7C552.7 154.4 556.6 155.4 560.5 156.1C564.5 156.8 568.4 156.9 572.7 157.7C576.9 158.5 581.6 159.8 586.2 160.8C590.7 161.8 595.6 162.9 599.8 163.8C604.1 164.7 608.0 165.3 611.8 166.2C615.6 167.0 619.5 168.0 622.8 168.9C626.1 169.8 628.8 170.9 631.6 171.6C634.3 172.4 637.3 172.4 639.4 173.4C641.6 174.5 642.8 176.4 644.4 177.8C646.0 179.2 647.7 180.0 649.1 181.7C650.6 183.4 651.9 185.7 653.0 188.0C654.2 190.2 655.7 192.9 656.2 195.2C656.7 197.4 656.2 199.3 656.3 201.5C656.4 203.7 656.9 205.9 656.8 208.2C656.6 210.6 656.1 213.2 655.3 215.7C654.6 218.1 653.7 220.6 652.5 223.1C651.2 225.6 649.6 228.3 648.0 230.6C646.3 232.9 644.5 235.3 642.7 236.7C640.9 238.1 638.9 238.4 636.9 239.0C634.9 239.7 632.8 240.7 630.9 240.9C628.9 241.0 627.2 240.1 625.2 239.7C623.3 239.2 621.5 238.7 619.1 238.1C616.7 237.6 613.6 237.1 610.8 236.3C608.1 235.5 605.8 234.3 602.6 233.3C599.4 232.3 595.3 231.1 591.6 230.3C588.0 229.5 584.6 229.3 580.8 228.5C577.0 227.6 572.9 226.4 568.8 225.5C564.7 224.6 560.3 223.7 556.1 223.1C551.9 222.5 547.8 222.5 543.5 222.0C539.1 221.6 534.2 220.8 530.0 220.2C525.7 219.7 522.2 219.1 518.1 218.6C513.9 218.1 509.0 217.6 505.2 217.0C501.4 216.4 498.5 215.7 495.4 215.2C492.2 214.7 488.5 214.4 486.2 213.8C483.8 213.3 482.7 212.8 481.3 212.0C479.9 211.3 478.9 210.4 477.8 209.3C476.7 208.2 475.9 206.6 474.8 205.5C473.6 204.3 471.9 204.1 470.9 202.6C469.8 201.1 469.3 198.4 468.4 196.5C467.6 194.5 466.2 192.8 465.8 190.9C465.4 189.0 466.2 187.1 466.1 184.9C466.0 182.7 465.0 180.4 465.0 177.8Z" fill="none" stroke="#1e1e1e" stroke-width="3.4" stroke-dasharray="90 7 130 10 60 5"/></g><g clip-path="url(#c4)"><path d="M465.0 177.8C465.1 175.2 466.2 172.1 466.6 169.3C467.0 166.5 466.6 163.4 467.6 161.1C468.5 158.9 470.8 157.7 472.2 156.0C473.6 154.3 474.6 152.2 476.0 150.9C477.4 149.6 478.7 149.2 480.4 148.3C482.1 147.5 483.9 146.4 486.0 145.8C488.1 145.1 490.8 144.8 493.0 144.4C495.2 144.0 497.0 143.2 499.2 143.3C501.3 143.4 503.7 144.6 505.7 145.0C507.7 145.5 509.0 145.6 511.2 146.1C513.4 146.5 516.0 147.2 518.8 147.9C521.5 148.6 524.3 149.4 527.7 150.0C531.1 150.6 535.5 151.1 539.0 151.7C542.6 152.3 545.5 152.9 549.1 153.7C552.7 154.4 556.6 155.4 560.5 156.1C564.5 156.8 568.4 156.9 572.7 157.7C576.9 158.5 581.6 159.8 586.2 160.8C590.7 161.8 595.6 162.9 599.8 163.8C604.1 164.7 608.0 165.3 611.8 166.2C615.6 167.0 619.5 168.0 622.8 168.9C626.1 169.8 628.8 170.9 631.6 171.6C634.3 172.4 637.3 172.4 639.4 173.4C641.6 174.5 642.8 176.4 644.4 177.8C646.0 179.2 647.8 179.9 649.1 181.7C650.5 183.4 651.6 185.9 652.6 188.2C653.5 190.5 654.6 193.3 654.9 195.5C655.2 197.7 654.5 199.5 654.4 201.6C654.4 203.7 654.9 205.9 654.6 208.1C654.4 210.3 653.6 212.6 652.8 214.9C652.0 217.2 651.1 219.5 649.8 221.8C648.6 224.1 646.9 226.7 645.4 228.8C643.9 230.8 642.3 232.9 640.7 234.1C639.1 235.3 637.5 235.4 635.9 236.1C634.2 236.8 632.4 237.9 630.7 238.1C629.0 238.4 627.5 238.0 625.7 237.6C623.8 237.3 622.0 236.6 619.6 236.1C617.2 235.5 614.1 235.2 611.4 234.4C608.6 233.6 606.4 232.5 603.2 231.5C600.0 230.5 595.7 229.1 592.1 228.2C588.4 227.4 585.0 227.1 581.2 226.3C577.4 225.5 573.4 224.3 569.3 223.4C565.2 222.5 560.7 221.4 556.4 220.8C552.1 220.1 548.1 220.1 543.7 219.7C539.4 219.2 534.5 218.5 530.3 217.9C526.0 217.3 522.5 216.8 518.4 216.3C514.2 215.7 509.3 215.3 505.5 214.7C501.8 214.2 498.9 213.4 495.7 212.9C492.6 212.5 488.9 212.1 486.7 211.8C484.4 211.4 483.4 211.3 482.0 210.8C480.6 210.3 479.3 209.9 478.2 209.0C477.0 208.0 476.3 206.1 475.1 205.1C473.9 204.0 472.0 204.0 470.9 202.6C469.8 201.2 469.3 198.4 468.4 196.5C467.6 194.5 466.2 192.8 465.8 190.9C465.4 189.0 466.2 187.1 466.1 184.9C466.0 182.7 465.0 180.4 465.0 177.8Z" fill="#F6C991"/><path d="M465.0 177.8C465.1 175.2 466.2 172.1 466.6 169.3C467.0 166.5 466.6 163.4 467.6 161.1C468.5 158.9 470.8 157.7 472.2 156.0C473.6 154.3 474.6 152.2 476.0 150.9C477.4 149.6 478.7 149.2 480.4 148.3C482.1 147.5 483.9 146.4 486.0 145.8C488.1 145.1 490.8 144.8 493.0 144.4C495.2 144.0 497.0 143.2 499.2 143.3C501.3 143.4 503.7 144.6 505.7 145.0C507.7 145.5 509.0 145.6 511.2 146.1C513.4 146.5 516.0 147.2 518.8 147.9C521.5 148.6 524.3 149.4 527.7 150.0C531.1 150.6 535.5 151.1 539.0 151.7C542.6 152.3 545.5 152.9 549.1 153.7C552.7 154.4 556.6 155.4 560.5 156.1C564.5 156.8 568.4 156.9 572.7 157.7C576.9 158.5 581.6 159.8 586.2 160.8C590.7 161.8 595.6 162.9 599.8 163.8C604.1 164.7 608.0 165.3 611.8 166.2C615.6 167.0 619.5 168.0 622.8 168.9C626.1 169.8 628.8 170.9 631.6 171.6C634.3 172.4 637.3 172.4 639.4 173.4C641.6 174.5 642.8 176.4 644.4 177.8C646.0 179.2 647.8 179.9 649.1 181.7C650.5 183.4 651.6 185.9 652.6 188.2C653.5 190.5 654.6 193.3 654.9 195.5C655.2 197.7 654.5 199.5 654.4 201.6C654.4 203.7 654.9 205.9 654.6 208.1C654.4 210.3 653.6 212.6 652.8 214.9C652.0 217.2 651.1 219.5 649.8 221.8C648.6 224.1 646.9 226.7 645.4 228.8C643.9 230.8 642.3 232.9 640.7 234.1C639.1 235.3 637.5 235.4 635.9 236.1C634.2 236.8 632.4 237.9 630.7 238.1C629.0 238.4 627.5 238.0 625.7 237.6C623.8 237.3 622.0 236.6 619.6 236.1C617.2 235.5 614.1 235.2 611.4 234.4C608.6 233.6 606.4 232.5 603.2 231.5C600.0 230.5 595.7 229.1 592.1 228.2C588.4 227.4 585.0 227.1 581.2 226.3C577.4 225.5 573.4 224.3 569.3 223.4C565.2 222.5 560.7 221.4 556.4 220.8C552.1 220.1 548.1 220.1 543.7 219.7C539.4 219.2 534.5 218.5 530.3 217.9C526.0 217.3 522.5 216.8 518.4 216.3C514.2 215.7 509.3 215.3 505.5 214.7C501.8 214.2 498.9 213.4 495.7 212.9C492.6 212.5 488.9 212.1 486.7 211.8C484.4 211.4 483.4 211.3 482.0 210.8C480.6 210.3 479.3 209.9 478.2 209.0C477.0 208.0 476.3 206.1 475.1 205.1C473.9 204.0 472.0 204.0 470.9 202.6C469.8 201.2 469.3 198.4 468.4 196.5C467.6 194.5 466.2 192.8 465.8 190.9C465.4 189.0 466.2 187.1 466.1 184.9C466.0 182.7 465.0 180.4 465.0 177.8Z" fill="none" stroke="#FCEBC8" stroke-width="17.4" filter="url(#soft2)"/><path d="M460 140L527 140L518 222L460 222Z" fill="#F9DDB2"/><path d="M465.0 177.8C465.1 175.2 466.2 172.1 466.6 169.3C467.0 166.5 466.6 163.4 467.6 161.1C468.5 158.9 470.8 157.7 472.2 156.0C473.6 154.3 474.6 152.2 476.0 150.9C477.4 149.6 478.7 149.2 480.4 148.3C482.1 147.5 483.9 146.4 486.0 145.8C488.1 145.1 490.8 144.8 493.0 144.4C495.2 144.0 497.0 143.2 499.2 143.3C501.3 143.4 503.7 144.6 505.7 145.0C507.7 145.5 509.0 145.6 511.2 146.1C513.4 146.5 516.0 147.2 518.8 147.9C521.5 148.6 524.3 149.4 527.7 150.0C531.1 150.6 535.5 151.1 539.0 151.7C542.6 152.3 545.5 152.9 549.1 153.7C552.7 154.4 556.6 155.4 560.5 156.1C564.5 156.8 568.4 156.9 572.7 157.7C576.9 158.5 581.6 159.8 586.2 160.8C590.7 161.8 595.6 162.9 599.8 163.8C604.1 164.7 608.0 165.3 611.8 166.2C615.6 167.0 619.5 168.0 622.8 168.9C626.1 169.8 628.8 170.9 631.6 171.6C634.3 172.4 637.3 172.4 639.4 173.4C641.6 174.5 642.8 176.4 644.4 177.8C646.0 179.2 647.8 179.9 649.1 181.7C650.5 183.4 651.6 185.9 652.6 188.2C653.5 190.5 654.6 193.3 654.9 195.5C655.2 197.7 654.5 199.5 654.4 201.6C654.4 203.7 654.9 205.9 654.6 208.1C654.4 210.3 653.6 212.6 652.8 214.9C652.0 217.2 651.1 219.5 649.8 221.8C648.6 224.1 646.9 226.7 645.4 228.8C643.9 230.8 642.3 232.9 640.7 234.1C639.1 235.3 637.5 235.4 635.9 236.1C634.2 236.8 632.4 237.9 630.7 238.1C629.0 238.4 627.5 238.0 625.7 237.6C623.8 237.3 622.0 236.6 619.6 236.1C617.2 235.5 614.1 235.2 611.4 234.4C608.6 233.6 606.4 232.5 603.2 231.5C600.0 230.5 595.7 229.1 592.1 228.2C588.4 227.4 585.0 227.1 581.2 226.3C577.4 225.5 573.4 224.3 569.3 223.4C565.2 222.5 560.7 221.4 556.4 220.8C552.1 220.1 548.1 220.1 543.7 219.7C539.4 219.2 534.5 218.5 530.3 217.9C526.0 217.3 522.5 216.8 518.4 216.3C514.2 215.7 509.3 215.3 505.5 214.7C501.8 214.2 498.9 213.4 495.7 212.9C492.6 212.5 488.9 212.1 486.7 211.8C484.4 211.4 483.4 211.3 482.0 210.8C480.6 210.3 479.3 209.9 478.2 209.0C477.0 208.0 476.3 206.1 475.1 205.1C473.9 204.0 472.0 204.0 470.9 202.6C469.8 201.2 469.3 198.4 468.4 196.5C467.6 194.5 466.2 192.8 465.8 190.9C465.4 189.0 466.2 187.1 466.1 184.9C466.0 182.7 465.0 180.4 465.0 177.8Z" fill="none" stroke="#0a0a0a" stroke-width="11.4"/><path d="M465.0 177.8C465.1 175.2 466.2 172.1 466.6 169.3C467.0 166.5 466.6 163.4 467.6 161.1C468.5 158.9 470.8 157.7 472.2 156.0C473.6 154.3 474.6 152.2 476.0 150.9C477.4 149.6 478.7 149.2 480.4 148.3C482.1 147.5 483.9 146.4 486.0 145.8C488.1 145.1 490.8 144.8 493.0 144.4C495.2 144.0 497.0 143.2 499.2 143.3C501.3 143.4 503.7 144.6 505.7 145.0C507.7 145.5 509.0 145.6 511.2 146.1C513.4 146.5 516.0 147.2 518.8 147.9C521.5 148.6 524.3 149.4 527.7 150.0C531.1 150.6 535.5 151.1 539.0 151.7C542.6 152.3 545.5 152.9 549.1 153.7C552.7 154.4 556.6 155.4 560.5 156.1C564.5 156.8 568.4 156.9 572.7 157.7C576.9 158.5 581.6 159.8 586.2 160.8C590.7 161.8 595.6 162.9 599.8 163.8C604.1 164.7 608.0 165.3 611.8 166.2C615.6 167.0 619.5 168.0 622.8 168.9C626.1 169.8 628.8 170.9 631.6 171.6C634.3 172.4 637.3 172.4 639.4 173.4C641.6 174.5 642.8 176.4 644.4 177.8C646.0 179.2 647.8 179.9 649.1 181.7C650.5 183.4 651.6 185.9 652.6 188.2C653.5 190.5 654.6 193.3 654.9 195.5C655.2 197.7 654.5 199.5 654.4 201.6C654.4 203.7 654.9 205.9 654.6 208.1C654.4 210.3 653.6 212.6 652.8 214.9C652.0 217.2 651.1 219.5 649.8 221.8C648.6 224.1 646.9 226.7 645.4 228.8C643.9 230.8 642.3 232.9 640.7 234.1C639.1 235.3 637.5 235.4 635.9 236.1C634.2 236.8 632.4 237.9 630.7 238.1C629.0 238.4 627.5 238.0 625.7 237.6C623.8 237.3 622.0 236.6 619.6 236.1C617.2 235.5 614.1 235.2 611.4 234.4C608.6 233.6 606.4 232.5 603.2 231.5C600.0 230.5 595.7 229.1 592.1 228.2C588.4 227.4 585.0 227.1 581.2 226.3C577.4 225.5 573.4 224.3 569.3 223.4C565.2 222.5 560.7 221.4 556.4 220.8C552.1 220.1 548.1 220.1 543.7 219.7C539.4 219.2 534.5 218.5 530.3 217.9C526.0 217.3 522.5 216.8 518.4 216.3C514.2 215.7 509.3 215.3 505.5 214.7C501.8 214.2 498.9 213.4 495.7 212.9C492.6 212.5 488.9 212.1 486.7 211.8C484.4 211.4 483.4 211.3 482.0 210.8C480.6 210.3 479.3 209.9 478.2 209.0C477.0 208.0 476.3 206.1 475.1 205.1C473.9 204.0 472.0 204.0 470.9 202.6C469.8 201.2 469.3 198.4 468.4 196.5C467.6 194.5 466.2 192.8 465.8 190.9C465.4 189.0 466.2 187.1 466.1 184.9C466.0 182.7 465.0 180.4 465.0 177.8Z" fill="none" stroke="#cfc8b8" stroke-width="7.5" stroke-dasharray="0 8 60 16 50 1000"/><path d="M465.0 177.8C465.1 175.2 466.2 172.1 466.6 169.3C467.0 166.5 466.6 163.4 467.6 161.1C468.5 158.9 470.8 157.7 472.2 156.0C473.6 154.3 474.6 152.2 476.0 150.9C477.4 149.6 478.7 149.2 480.4 148.3C482.1 147.5 483.9 146.4 486.0 145.8C488.1 145.1 490.8 144.8 493.0 144.4C495.2 144.0 497.0 143.2 499.2 143.3C501.3 143.4 503.7 144.6 505.7 145.0C507.7 145.5 509.0 145.6 511.2 146.1C513.4 146.5 516.0 147.2 518.8 147.9C521.5 148.6 524.3 149.4 527.7 150.0C531.1 150.6 535.5 151.1 539.0 151.7C542.6 152.3 545.5 152.9 549.1 153.7C552.7 154.4 556.6 155.4 560.5 156.1C564.5 156.8 568.4 156.9 572.7 157.7C576.9 158.5 581.6 159.8 586.2 160.8C590.7 161.8 595.6 162.9 599.8 163.8C604.1 164.7 608.0 165.3 611.8 166.2C615.6 167.0 619.5 168.0 622.8 168.9C626.1 169.8 628.8 170.9 631.6 171.6C634.3 172.4 637.3 172.4 639.4 173.4C641.6 174.5 642.8 176.4 644.4 177.8C646.0 179.2 647.8 179.9 649.1 181.7C650.5 183.4 651.6 185.9 652.6 188.2C653.5 190.5 654.6 193.3 654.9 195.5C655.2 197.7 654.5 199.5 654.4 201.6C654.4 203.7 654.9 205.9 654.6 208.1C654.4 210.3 653.6 212.6 652.8 214.9C652.0 217.2 651.1 219.5 649.8 221.8C648.6 224.1 646.9 226.7 645.4 228.8C643.9 230.8 642.3 232.9 640.7 234.1C639.1 235.3 637.5 235.4 635.9 236.1C634.2 236.8 632.4 237.9 630.7 238.1C629.0 238.4 627.5 238.0 625.7 237.6C623.8 237.3 622.0 236.6 619.6 236.1C617.2 235.5 614.1 235.2 611.4 234.4C608.6 233.6 606.4 232.5 603.2 231.5C600.0 230.5 595.7 229.1 592.1 228.2C588.4 227.4 585.0 227.1 581.2 226.3C577.4 225.5 573.4 224.3 569.3 223.4C565.2 222.5 560.7 221.4 556.4 220.8C552.1 220.1 548.1 220.1 543.7 219.7C539.4 219.2 534.5 218.5 530.3 217.9C526.0 217.3 522.5 216.8 518.4 216.3C514.2 215.7 509.3 215.3 505.5 214.7C501.8 214.2 498.9 213.4 495.7 212.9C492.6 212.5 488.9 212.1 486.7 211.8C484.4 211.4 483.4 211.3 482.0 210.8C480.6 210.3 479.3 209.9 478.2 209.0C477.0 208.0 476.3 206.1 475.1 205.1C473.9 204.0 472.0 204.0 470.9 202.6C469.8 201.2 469.3 198.4 468.4 196.5C467.6 194.5 466.2 192.8 465.8 190.9C465.4 189.0 466.2 187.1 466.1 184.9C466.0 182.7 465.0 180.4 465.0 177.8Z" fill="none" stroke="#0a0a0a" stroke-width="5.7" stroke-dasharray="0 8 60 16 50 1000"/></g>
<path d="M523.5 152 Q518.8 170 518.2 184 Q517.6 198 515.8 216" fill="none" stroke="#0a0a0a" stroke-width="5.6" clip-path="url(#c4)"/>
<path d="M516.6 176.6C516.7 177.8 516.3 178.9 515.9 180.6C515.5 182.2 515.3 184.8 514.2 186.3C513.1 187.9 510.7 188.8 509.4 190.0C508.1 191.2 507.9 192.8 506.5 193.4C505.1 194.0 502.5 193.1 501.0 193.6C499.4 194.1 498.8 196.3 497.2 196.4C495.6 196.4 493.0 194.4 491.4 194.0C489.8 193.6 488.9 194.7 487.7 194.0C486.5 193.2 485.3 191.0 484.2 189.7C483.1 188.4 481.6 187.4 480.9 186.0C480.3 184.6 480.7 182.7 480.1 181.2C479.5 179.6 477.7 177.9 477.4 176.6C477.1 175.2 478.1 174.6 478.6 173.1C479.0 171.6 479.1 169.2 480.1 167.6C481.0 166.0 483.1 164.9 484.4 163.7C485.6 162.4 486.5 160.9 487.6 160.1C488.7 159.2 489.5 158.8 491.2 158.4C492.8 158.1 495.8 157.7 497.5 157.9C499.2 158.1 500.1 159.1 501.7 159.5C503.2 159.9 505.4 159.5 507.0 160.3C508.6 161.2 510.3 163.4 511.4 164.6C512.6 165.8 513.2 166.1 513.9 167.6C514.6 169.0 515.1 171.8 515.6 173.3C516.0 174.8 516.5 175.4 516.6 176.6Z" fill="none" stroke="#6a5030" stroke-width="1.3"/>
<path d="M513.2 177.0C512.6 179.3 513.0 181.1 512.4 183.1C511.8 185.1 511.0 187.3 509.7 189.1C508.4 190.9 506.6 193.2 504.5 193.9C502.4 194.5 499.5 193.4 497.3 193.0C495.1 192.6 493.0 192.4 491.1 191.7C489.1 190.9 487.3 189.8 485.4 188.6C483.5 187.3 480.4 186.0 479.6 184.1C478.9 182.2 480.8 179.4 480.8 177.0C480.8 174.6 479.2 172.1 479.7 169.9C480.3 167.8 482.2 165.4 484.1 164.1C486.0 162.9 488.8 163.0 491.0 162.2C493.2 161.4 495.1 159.6 497.3 159.4C499.5 159.1 502.0 160.1 504.1 161.0C506.2 162.0 507.8 163.5 509.8 164.9C511.7 166.3 515.3 167.5 515.9 169.5C516.5 171.5 513.8 174.7 513.2 177.0Z" fill="#4a4a4a"/>
<path d="M510.9 177.0C510.5 179.5 510.7 181.9 509.6 183.9C508.6 186.0 506.7 187.7 504.6 189.3C502.6 191.0 499.8 193.6 497.3 193.7C494.8 193.9 491.9 191.5 489.6 190.0C487.2 188.6 484.1 187.2 483.1 185.0C482.1 182.8 483.4 179.6 483.6 177.0C483.7 174.4 483.0 171.8 483.9 169.5C484.7 167.1 486.6 164.0 488.8 162.7C491.1 161.4 494.4 161.9 497.3 161.9C500.2 161.8 503.5 161.2 506.0 162.3C508.5 163.5 511.3 166.2 512.1 168.7C513.0 171.1 511.4 174.5 510.9 177.0Z" fill="#1a1a1a"/>
<circle cx="503.0" cy="177.4" r="0.8" fill="#c8c8c8"/><circle cx="513.4" cy="181.4" r="0.9" fill="#e0e0e0"/><circle cx="497.6" cy="170.6" r="0.7" fill="#b5b5b5"/><circle cx="504.9" cy="180.0" r="1.1" fill="#b5b5b5"/><circle cx="482.7" cy="185.7" r="0.8" fill="#8a8a8a"/><circle cx="499.3" cy="161.5" r="0.9" fill="#6a6a6a"/><circle cx="492.3" cy="185.8" r="0.9" fill="#a5a5a5"/><circle cx="500.0" cy="189.4" r="0.7" fill="#e0e0e0"/><circle cx="504.2" cy="179.2" r="0.9" fill="#a5a5a5"/><circle cx="506.1" cy="162.8" r="0.8" fill="#8a8a8a"/><circle cx="486.2" cy="174.9" r="0.9" fill="#000"/><circle cx="501.5" cy="163.4" r="1.0" fill="#a5a5a5"/><circle cx="502.3" cy="166.5" r="1.0" fill="#6a6a6a"/><circle cx="491.9" cy="186.0" r="1.2" fill="#b5b5b5"/><circle cx="494.1" cy="184.0" r="1.5" fill="#b5b5b5"/><circle cx="499.6" cy="168.1" r="1.1" fill="#a5a5a5"/><circle cx="511.7" cy="171.0" r="0.8" fill="#6a6a6a"/><circle cx="503.1" cy="191.9" r="1.0" fill="#e0e0e0"/><circle cx="510.8" cy="173.4" r="1.4" fill="#6a6a6a"/><circle cx="487.2" cy="163.6" r="0.8" fill="#a5a5a5"/><circle cx="500.2" cy="186.2" r="1.3" fill="#c8c8c8"/><circle cx="491.9" cy="174.8" r="1.4" fill="#8a8a8a"/><circle cx="486.4" cy="164.6" r="1.0" fill="#a5a5a5"/><circle cx="493.7" cy="162.0" r="0.7" fill="#c8c8c8"/><circle cx="488.0" cy="169.3" r="1.0" fill="#000"/><circle cx="486.9" cy="168.4" r="1.4" fill="#8a8a8a"/><circle cx="482.1" cy="178.4" r="1.3" fill="#e0e0e0"/><circle cx="512.1" cy="174.6" r="1.1" fill="#6a6a6a"/><circle cx="499.6" cy="165.8" r="0.7" fill="#a5a5a5"/><circle cx="490.9" cy="183.2" r="1.5" fill="#a5a5a5"/><circle cx="506.0" cy="186.2" r="0.7" fill="#e0e0e0"/><circle cx="491.4" cy="172.0" r="1.5" fill="#a5a5a5"/><circle cx="506.8" cy="166.7" r="1.1" fill="#e0e0e0"/><circle cx="493.1" cy="165.7" r="1.1" fill="#000"/><circle cx="498.4" cy="184.3" r="1.1" fill="#e0e0e0"/><circle cx="494.9" cy="165.9" r="1.0" fill="#a5a5a5"/><circle cx="487.3" cy="175.6" r="1.5" fill="#a5a5a5"/><circle cx="492.5" cy="165.2" r="0.7" fill="#a5a5a5"/><circle cx="490.1" cy="164.6" r="0.8" fill="#a5a5a5"/><circle cx="490.4" cy="183.3" r="1.4" fill="#c8c8c8"/><circle cx="492.7" cy="188.9" r="0.9" fill="#000"/><circle cx="500.4" cy="175.8" r="1.2" fill="#c8c8c8"/><circle cx="504.2" cy="171.8" r="1.0" fill="#a5a5a5"/><circle cx="495.0" cy="169.7" r="1.4" fill="#8a8a8a"/><circle cx="491.6" cy="181.9" r="1.0" fill="#a5a5a5"/><circle cx="492.4" cy="192.6" r="1.3" fill="#8a8a8a"/><circle cx="505.1" cy="180.3" r="1.3" fill="#e0e0e0"/><circle cx="506.1" cy="169.8" r="0.9" fill="#b5b5b5"/><circle cx="498.6" cy="179.8" r="0.8" fill="#c8c8c8"/><circle cx="502.9" cy="162.8" r="0.9" fill="#8a8a8a"/><circle cx="496.0" cy="185.8" r="1.2" fill="#a5a5a5"/><circle cx="484.9" cy="185.4" r="0.9" fill="#a5a5a5"/><circle cx="505.8" cy="187.3" r="1.0" fill="#000"/><circle cx="508.0" cy="184.1" r="0.7" fill="#a5a5a5"/><circle cx="507.3" cy="170.5" r="1.2" fill="#6a6a6a"/><circle cx="481.6" cy="175.1" r="1.3" fill="#6a6a6a"/><circle cx="491.0" cy="181.6" r="1.3" fill="#a5a5a5"/><circle cx="509.6" cy="180.8" r="0.9" fill="#b5b5b5"/><circle cx="503.6" cy="168.3" r="0.9" fill="#6a6a6a"/><circle cx="507.2" cy="184.7" r="0.9" fill="#6a6a6a"/><circle cx="480.2" cy="177.9" r="1.3" fill="#a5a5a5"/><circle cx="491.8" cy="190.8" r="0.9" fill="#c8c8c8"/><circle cx="505.4" cy="167.6" r="0.7" fill="#8a8a8a"/><circle cx="501.0" cy="166.6" r="1.3" fill="#c8c8c8"/><circle cx="496.8" cy="176.2" r="1.4" fill="#b5b5b5"/><circle cx="495.9" cy="167.4" r="1.5" fill="#a5a5a5"/><circle cx="487.3" cy="179.2" r="1.0" fill="#e0e0e0"/><circle cx="506.5" cy="167.4" r="1.0" fill="#a5a5a5"/><circle cx="510.6" cy="172.3" r="1.1" fill="#000"/><circle cx="505.4" cy="169.8" r="1.0" fill="#000"/><circle cx="503.3" cy="164.0" r="1.1" fill="#b5b5b5"/><circle cx="493.8" cy="184.4" r="1.3" fill="#6a6a6a"/><circle cx="491.2" cy="178.8" r="0.9" fill="#e0e0e0"/><circle cx="495.4" cy="169.9" r="1.0" fill="#b5b5b5"/><circle cx="498.6" cy="186.6" r="1.3" fill="#c8c8c8"/><circle cx="504.0" cy="165.9" r="1.2" fill="#000"/><circle cx="493.2" cy="183.0" r="1.4" fill="#a5a5a5"/><circle cx="503.8" cy="161.9" r="1.3" fill="#8a8a8a"/><circle cx="509.1" cy="186.3" r="1.2" fill="#6a6a6a"/><circle cx="490.1" cy="179.3" r="0.8" fill="#e0e0e0"/><circle cx="501.2" cy="165.4" r="1.1" fill="#c8c8c8"/><circle cx="504.3" cy="185.6" r="0.7" fill="#a5a5a5"/><circle cx="489.6" cy="171.5" r="0.9" fill="#000"/><circle cx="506.4" cy="180.4" r="1.3" fill="#b5b5b5"/><circle cx="485.2" cy="167.2" r="1.1" fill="#a5a5a5"/><circle cx="484.8" cy="169.0" r="0.8" fill="#6a6a6a"/><circle cx="493.7" cy="186.8" r="1.1" fill="#c8c8c8"/><circle cx="507.7" cy="164.1" r="1.3" fill="#6a6a6a"/><circle cx="493.0" cy="171.6" r="1.5" fill="#b5b5b5"/><circle cx="485.0" cy="178.9" r="1.3" fill="#000"/><circle cx="496.6" cy="166.2" r="0.8" fill="#a5a5a5"/><circle cx="483.2" cy="175.9" r="1.0" fill="#e0e0e0"/><circle cx="484.9" cy="187.1" r="1.1" fill="#000"/><circle cx="507.7" cy="177.8" r="0.9" fill="#000"/><circle cx="507.7" cy="188.6" r="0.9" fill="#a5a5a5"/><circle cx="506.9" cy="183.4" r="1.0" fill="#c8c8c8"/><circle cx="506.8" cy="165.5" r="1.3" fill="#8a8a8a"/><circle cx="508.3" cy="169.9" r="0.8" fill="#000"/><circle cx="509.9" cy="185.7" r="1.5" fill="#000"/><circle cx="489.7" cy="173.7" r="1.0" fill="#6a6a6a"/><circle cx="496.1" cy="180.6" r="1.0" fill="#6a6a6a"/><circle cx="501.6" cy="180.0" r="1.1" fill="#a5a5a5"/><circle cx="499.0" cy="179.7" r="1.1" fill="#8a8a8a"/><circle cx="482.6" cy="188.0" r="1.2" fill="#555"/><circle cx="488.9" cy="193.0" r="1.2" fill="#999"/><circle cx="513.8" cy="168.6" r="0.9" fill="#888"/><circle cx="516.4" cy="174.3" r="1.1" fill="#888"/><circle cx="514.2" cy="168.5" r="0.8" fill="#555"/><circle cx="512.1" cy="166.2" r="0.8" fill="#888"/><circle cx="487.1" cy="191.8" r="1.0" fill="#222"/><circle cx="514.5" cy="170.3" r="0.9" fill="#222"/><circle cx="515.8" cy="173.4" r="1.1" fill="#999"/><circle cx="503.1" cy="194.3" r="1.0" fill="#555"/><circle cx="516.2" cy="178.9" r="1.0" fill="#999"/><circle cx="480.6" cy="185.7" r="1.1" fill="#999"/><circle cx="478.4" cy="178.0" r="1.0" fill="#555"/><circle cx="498.5" cy="195.7" r="1.3" fill="#222"/><circle cx="497.7" cy="158.8" r="0.8" fill="#888"/><circle cx="507.6" cy="192.6" r="0.9" fill="#999"/><circle cx="514.9" cy="172.3" r="1.1" fill="#222"/><circle cx="487.2" cy="192.0" r="0.9" fill="#555"/><circle cx="515.8" cy="179.9" r="0.7" fill="#555"/><circle cx="478.7" cy="183.4" r="1.0" fill="#999"/><circle cx="500.1" cy="158.1" r="0.8" fill="#222"/><circle cx="484.7" cy="189.9" r="0.9" fill="#222"/><circle cx="510.7" cy="165.0" r="0.9" fill="#555"/><circle cx="514.0" cy="184.4" r="0.7" fill="#999"/><circle cx="501.0" cy="194.3" r="0.7" fill="#999"/><circle cx="479.4" cy="174.5" r="0.7" fill="#888"/><circle cx="507.7" cy="191.5" r="1.0" fill="#555"/><circle cx="515.2" cy="184.5" r="0.9" fill="#222"/><circle cx="488.3" cy="193.8" r="0.9" fill="#555"/><circle cx="510.6" cy="163.0" r="1.2" fill="#999"/><circle cx="500.3" cy="195.1" r="1.1" fill="#888"/>
<path d="M620.1 204.6C619.6 205.7 617.5 208.2 616.7 209.3C615.9 210.5 615.9 210.9 615.2 211.3C614.5 211.6 614.1 210.8 612.7 211.3C611.2 211.8 609.1 214.0 606.6 214.5C604.1 215.0 600.1 214.0 597.8 214.1C595.5 214.1 595.2 214.9 592.7 214.6C590.2 214.2 586.5 212.5 583.0 211.9C579.5 211.4 575.1 211.3 571.6 211.1C568.1 210.9 565.2 211.4 561.9 210.8C558.7 210.1 554.8 208.1 552.0 207.2C549.2 206.2 547.2 205.9 545.0 204.9C542.7 203.8 539.8 201.9 538.3 200.9C536.8 199.9 536.9 199.9 535.7 198.8C534.6 197.7 532.2 195.7 531.2 194.2C530.2 192.8 530.0 191.1 529.8 190.0C529.5 188.9 529.3 188.4 529.5 187.7C529.7 186.9 530.0 186.6 530.9 185.4C531.7 184.1 533.4 181.1 534.6 180.1C535.9 179.1 537.0 179.6 538.3 179.2C539.7 178.7 540.5 178.1 542.8 177.5C545.0 177.0 549.5 176.2 552.0 176.1C554.5 176.0 555.0 176.1 557.7 176.8C560.4 177.5 564.8 179.8 568.1 180.2C571.4 180.7 574.5 179.1 577.6 179.6C580.7 180.0 583.3 182.1 586.6 182.9C589.9 183.8 594.4 183.5 597.4 184.6C600.4 185.7 602.4 188.5 604.6 189.5C606.9 190.5 609.2 190.2 611.0 190.7C612.8 191.2 614.1 191.5 615.4 192.5C616.7 193.5 618.0 195.0 618.8 196.7C619.5 198.4 619.6 201.3 619.8 202.6C620.0 203.9 620.6 203.5 620.1 204.6Z" fill="#efd2a2" stroke="#5a4025" stroke-width="1.5"/>
<path d="M610.4 202.5C610.4 203.0 609.4 202.7 608.9 203.5C608.4 204.3 608.3 206.8 607.4 207.3C606.5 207.7 604.9 206.1 603.5 206.2C602.1 206.4 600.9 207.5 598.9 208.2C597.0 208.8 593.7 210.2 591.8 210.1C589.9 209.9 589.6 207.8 587.6 207.3C585.5 206.9 582.4 207.5 579.3 207.1C576.2 206.7 571.9 205.6 568.8 205.0C565.7 204.3 563.8 203.7 560.9 203.1C558.1 202.5 554.6 202.0 551.8 201.5C549.0 201.0 546.1 200.8 544.3 200.2C542.5 199.6 542.0 199.0 540.9 197.8C539.7 196.5 538.6 193.9 537.2 192.9C535.8 191.9 533.0 192.5 532.5 191.9C532.1 191.3 534.5 189.8 534.3 189.1C534.1 188.5 531.8 188.6 531.5 188.0C531.3 187.4 532.1 186.4 532.7 185.5C533.3 184.6 533.9 182.8 535.0 182.5C536.2 182.2 538.2 184.0 539.5 183.8C540.7 183.5 541.0 181.8 542.5 181.1C544.1 180.5 546.7 179.7 548.8 179.9C550.9 180.1 552.6 181.8 555.2 182.4C557.9 183.0 561.7 183.2 564.8 183.4C567.8 183.7 570.7 183.7 573.6 184.1C576.5 184.6 579.2 185.6 582.0 186.2C584.9 186.9 588.1 187.7 590.7 188.2C593.2 188.7 595.5 188.4 597.3 189.3C599.1 190.2 599.8 192.5 601.4 193.5C603.0 194.4 605.9 194.4 607.1 195.0C608.3 195.6 608.3 196.2 608.5 197.1C608.8 198.0 608.3 199.6 608.6 200.5C608.9 201.4 610.3 202.0 610.4 202.5Z" fill="#1a1a1a"/>
<path d="M545.5 190.5C545.6 190.8 544.2 191.6 543.4 191.7C542.6 191.8 541.6 191.5 540.8 191.2C540.0 191.0 538.7 190.6 538.7 190.2C538.6 189.8 539.7 189.1 540.4 188.9C541.2 188.8 542.3 189.1 543.1 189.4C544.0 189.6 545.5 190.1 545.5 190.5Z M556.8 198.0C556.2 197.9 555.5 197.1 555.4 196.4C555.3 195.7 555.8 194.1 556.3 193.6C556.7 193.1 557.6 193.3 558.3 193.4C559.0 193.6 560.5 193.9 560.6 194.5C560.6 195.1 559.3 196.6 558.7 197.2C558.0 197.8 557.3 198.2 556.8 198.0Z M545.6 187.7C545.4 188.1 544.7 188.7 544.1 188.8C543.6 188.8 542.5 188.6 542.2 188.2C541.9 187.7 541.9 186.5 542.3 185.9C542.6 185.3 543.7 184.5 544.2 184.6C544.7 184.6 545.1 185.7 545.3 186.2C545.6 186.7 545.8 187.3 545.6 187.7Z M577.7 198.4C577.4 198.1 577.9 196.6 578.2 195.8C578.6 195.0 579.2 194.2 579.7 193.7C580.2 193.2 580.9 192.9 581.2 193.0C581.5 193.2 581.8 193.9 581.5 194.6C581.3 195.3 580.5 196.9 579.8 197.5C579.2 198.1 577.9 198.7 577.7 198.4Z M561.6 198.0C561.6 198.3 560.7 198.6 560.0 198.7C559.3 198.7 557.8 198.4 557.2 198.1C556.5 197.8 556.0 197.2 556.1 196.9C556.2 196.6 557.0 196.4 557.7 196.4C558.4 196.3 559.7 196.4 560.4 196.7C561.0 197.0 561.7 197.6 561.6 198.0Z M593.7 196.6C593.6 195.7 593.7 194.2 594.1 193.7C594.5 193.1 595.6 192.8 596.1 193.2C596.5 193.6 597.0 195.1 597.1 196.0C597.2 196.9 597.2 198.2 596.9 198.6C596.5 199.1 595.6 199.0 595.1 198.7C594.6 198.3 593.9 197.4 593.7 196.6Z M589.1 203.8C588.7 203.7 588.1 203.0 588.0 202.6C588.0 202.1 588.4 201.5 588.8 201.1C589.2 200.8 590.1 200.2 590.5 200.4C590.9 200.5 591.4 201.5 591.4 202.0C591.4 202.6 590.9 203.1 590.6 203.4C590.2 203.7 589.6 203.9 589.1 203.8Z M585.4 205.4C585.2 205.1 585.6 204.5 585.9 204.0C586.1 203.5 586.4 202.7 586.8 202.6C587.3 202.5 588.3 203.0 588.5 203.4C588.7 203.8 588.2 204.5 587.9 204.9C587.6 205.4 587.3 205.9 586.9 206.0C586.5 206.1 585.5 205.8 585.4 205.4Z M552.5 196.3C551.8 196.5 551.1 197.0 550.6 196.6C550.0 196.1 549.2 194.5 549.3 193.8C549.4 193.0 550.2 192.5 550.9 192.2C551.5 191.9 552.6 191.7 553.2 192.2C553.8 192.7 554.5 194.7 554.4 195.4C554.3 196.1 553.1 196.1 552.5 196.3Z M600.9 206.1C600.4 205.7 600.7 203.7 600.9 202.7C601.0 201.7 601.2 200.6 601.8 200.1C602.4 199.6 603.8 199.5 604.4 199.8C605.1 200.2 605.9 201.3 605.9 202.2C605.8 203.0 604.9 204.3 604.1 204.9C603.2 205.6 601.4 206.4 600.9 206.1Z M559.3 197.2C559.0 197.9 558.5 198.8 557.9 198.8C557.3 198.8 556.2 198.0 555.8 197.5C555.3 197.0 555.2 196.4 555.3 195.7C555.4 195.1 555.8 193.8 556.5 193.7C557.2 193.5 559.2 194.3 559.7 194.9C560.2 195.5 559.6 196.6 559.3 197.2Z M573.1 202.9C572.4 203.0 571.1 202.7 570.7 202.1C570.4 201.5 570.6 200.1 571.0 199.5C571.4 198.9 572.3 198.6 573.1 198.6C573.9 198.5 575.6 198.6 575.9 199.1C576.2 199.6 575.2 201.0 574.7 201.7C574.3 202.3 573.8 202.9 573.1 202.9Z M607.2 204.7C606.8 205.1 605.5 204.9 604.8 204.7C604.2 204.5 603.5 203.9 603.3 203.4C603.0 202.9 603.0 201.9 603.3 201.5C603.7 201.0 604.7 200.3 605.3 200.5C605.9 200.6 606.8 201.6 607.1 202.3C607.4 203.0 607.5 204.3 607.2 204.7Z M550.2 196.4C549.8 196.3 549.3 195.4 549.3 194.7C549.2 194.0 549.6 192.8 549.9 192.0C550.3 191.3 550.8 190.2 551.2 190.2C551.5 190.2 551.9 191.3 552.0 192.1C552.1 193.0 551.9 194.4 551.6 195.1C551.3 195.8 550.6 196.5 550.2 196.4Z M585.3 206.1C584.8 206.3 583.7 206.1 583.3 205.8C583.0 205.5 583.1 204.8 583.1 204.3C583.1 203.8 583.2 203.0 583.5 202.8C583.8 202.5 584.7 202.7 585.1 203.0C585.6 203.3 586.0 203.8 586.1 204.3C586.1 204.8 585.7 205.8 585.3 206.1Z M568.2 194.2C567.8 194.5 567.0 194.8 566.4 194.5C565.9 194.2 565.2 192.9 565.1 192.3C564.9 191.7 565.1 191.0 565.4 190.7C565.7 190.4 566.4 190.1 567.0 190.4C567.6 190.7 568.8 191.9 569.0 192.5C569.2 193.1 568.6 193.9 568.2 194.2Z M537.8 190.5C537.5 191.0 536.2 191.2 535.5 191.2C534.9 191.2 534.3 190.9 534.0 190.3C533.6 189.8 533.1 188.5 533.4 188.0C533.7 187.5 535.0 187.3 535.7 187.3C536.4 187.3 537.1 187.6 537.5 188.1C537.8 188.6 538.1 190.0 537.8 190.5Z M590.2 197.1C590.1 196.4 591.0 195.7 591.4 195.2C591.9 194.6 592.4 193.6 592.9 193.7C593.4 193.8 594.5 195.0 594.7 195.8C594.9 196.6 594.5 197.8 594.1 198.4C593.7 199.0 592.7 199.5 592.1 199.3C591.4 199.1 590.3 197.8 590.2 197.1Z M593.5 201.1C593.2 201.4 591.9 200.9 591.3 200.6C590.7 200.2 590.0 199.5 589.7 199.0C589.5 198.4 589.4 197.8 589.6 197.4C589.9 197.0 590.6 196.3 591.2 196.6C591.8 196.9 592.6 198.2 593.0 198.9C593.4 199.7 593.8 200.8 593.5 201.1Z M576.1 196.6C576.1 195.8 577.3 194.5 578.0 194.1C578.8 193.7 579.9 193.9 580.7 194.3C581.5 194.7 582.7 195.7 582.7 196.5C582.7 197.3 581.6 198.7 580.8 199.0C580.1 199.3 579.1 199.0 578.3 198.6C577.5 198.2 576.1 197.3 576.1 196.6Z M564.6 194.8C564.3 194.1 563.8 192.9 564.1 192.4C564.3 192.0 565.5 192.0 566.1 192.0C566.7 192.1 567.4 192.4 567.8 192.9C568.2 193.5 568.9 194.8 568.7 195.4C568.4 196.1 567.1 196.8 566.4 196.7C565.7 196.6 565.0 195.5 564.6 194.8Z M560.5 191.3C559.9 191.0 559.3 190.6 559.2 190.0C559.2 189.5 559.8 188.4 560.3 187.9C560.8 187.4 561.7 186.8 562.3 187.0C562.8 187.2 563.3 188.2 563.4 189.0C563.4 189.7 562.8 191.1 562.3 191.5C561.8 191.8 561.0 191.5 560.5 191.3Z M569.5 205.7C569.2 206.0 568.1 205.5 567.4 205.0C566.7 204.4 565.6 203.1 565.3 202.4C565.1 201.8 565.7 201.5 566.0 201.2C566.4 200.9 566.9 200.2 567.4 200.6C568.0 201.0 569.1 202.7 569.4 203.5C569.8 204.4 569.9 205.5 569.5 205.7Z M583.9 197.9C583.4 197.5 583.4 195.7 583.8 194.7C584.1 193.8 585.2 192.4 585.9 191.9C586.7 191.4 587.8 191.3 588.3 191.6C588.9 191.9 589.5 193.0 589.3 193.9C589.1 194.8 587.8 196.4 586.9 197.1C586.0 197.7 584.4 198.2 583.9 197.9Z M567.1 191.5C566.6 191.2 565.9 190.7 566.0 190.3C566.0 189.8 566.8 189.0 567.4 188.6C567.9 188.3 568.9 187.8 569.2 188.1C569.6 188.3 569.7 189.4 569.6 190.0C569.5 190.7 569.0 191.7 568.6 192.0C568.2 192.2 567.5 191.7 567.1 191.5Z M570.1 193.2C569.9 193.5 568.8 193.5 568.0 193.1C567.1 192.8 565.5 191.9 565.0 191.2C564.6 190.4 565.0 189.1 565.5 188.8C565.9 188.4 567.2 188.6 567.9 189.0C568.5 189.4 569.2 190.4 569.5 191.0C569.9 191.7 570.4 192.8 570.1 193.2Z M534.9 192.5C534.8 191.9 535.5 191.0 536.0 190.6C536.5 190.2 537.4 189.9 538.1 190.0C538.8 190.1 539.8 190.6 540.0 191.2C540.2 191.8 539.7 192.9 539.1 193.4C538.6 193.9 537.3 194.3 536.6 194.1C535.9 194.0 535.1 193.1 534.9 192.5Z M601.6 200.1C601.5 199.5 602.3 198.8 602.8 198.3C603.2 197.8 604.0 196.9 604.6 196.9C605.1 197.0 605.8 198.1 605.9 198.7C606.1 199.3 605.9 200.0 605.5 200.6C605.0 201.1 603.9 202.0 603.3 201.9C602.7 201.8 601.7 200.7 601.6 200.1Z M579.1 191.1C578.8 190.8 578.6 190.1 578.7 189.6C578.8 189.1 579.3 188.3 579.8 188.1C580.4 187.8 581.5 187.6 581.9 188.0C582.3 188.3 582.6 189.6 582.3 190.1C582.1 190.6 581.0 191.0 580.5 191.2C580.0 191.4 579.4 191.3 579.1 191.1Z M565.8 195.0C565.3 194.5 564.7 193.4 565.0 192.7C565.2 191.9 566.6 190.7 567.4 190.6C568.1 190.6 569.0 191.7 569.4 192.4C569.8 193.0 570.1 194.0 569.9 194.6C569.6 195.1 568.4 195.8 567.7 195.9C567.1 196.0 566.2 195.6 565.8 195.0Z" fill="none" stroke="#777" stroke-width="1.0" stroke-linejoin="round"/>
<path d="M519 184 Q526 186 534 187" stroke="#2a2a2a" stroke-width="2" fill="none"/>
<g clip-path="url(#c5)"><path d="M460.3 286.3C460.5 284.5 461.9 283.3 462.6 281.3C463.3 279.4 463.7 276.4 464.6 274.6C465.6 272.8 467.1 272.2 468.5 270.7C469.8 269.1 471.2 266.8 472.9 265.3C474.6 263.7 477.0 262.2 478.7 261.2C480.5 260.1 481.5 259.5 483.3 259.1C485.2 258.8 487.6 259.7 489.8 259.2C491.9 258.7 493.5 256.5 496.3 256.2C499.0 255.9 503.4 256.9 506.1 257.2C508.9 257.6 511.0 257.3 513.0 258.1C515.0 258.9 516.3 261.2 517.9 262.0C519.6 262.8 521.0 262.6 523.0 263.0C525.0 263.4 527.9 263.9 530.2 264.3C532.6 264.7 535.0 265.0 537.2 265.4C539.3 265.7 540.8 265.6 543.0 266.3C545.2 267.1 547.4 268.6 550.3 269.7C553.3 270.8 556.5 271.8 560.4 272.7C564.3 273.6 569.9 274.4 573.7 275.2C577.5 275.9 579.8 277.0 583.4 277.4C587.0 277.9 591.6 277.8 595.2 278.0C598.9 278.1 602.2 278.1 605.4 278.4C608.6 278.7 611.7 279.2 614.5 279.8C617.3 280.5 619.5 281.3 622.1 282.2C624.7 283.2 627.8 284.0 630.2 285.3C632.5 286.7 634.5 289.0 636.2 290.4C637.9 291.8 639.3 292.1 640.5 293.6C641.8 295.1 642.3 297.0 643.6 299.2C645.0 301.3 647.6 304.6 648.4 306.7C649.3 308.9 648.8 310.0 648.8 312.3C648.7 314.6 648.4 318.1 648.0 320.4C647.5 322.8 646.9 324.5 646.1 326.4C645.2 328.2 644.0 329.9 642.9 331.6C641.8 333.2 640.9 334.9 639.4 336.2C637.9 337.6 636.0 338.7 633.8 339.7C631.7 340.7 628.8 341.8 626.5 342.4C624.2 343.1 622.4 343.8 619.9 343.6C617.5 343.4 614.7 341.7 611.8 341.5C609.0 341.3 605.8 342.4 602.9 342.2C599.9 342.0 596.7 340.4 594.0 340.1C591.3 339.7 588.7 340.6 586.5 340.2C584.3 339.9 583.1 338.5 580.9 337.8C578.7 337.1 576.0 336.8 573.3 336.1C570.5 335.4 567.2 334.1 564.4 333.4C561.7 332.7 559.7 332.6 556.8 331.8C553.9 331.1 550.0 329.5 547.1 329.0C544.3 328.4 542.0 328.6 539.6 328.5C537.3 328.5 535.4 329.0 533.0 328.6C530.6 328.2 527.7 326.5 525.3 326.2C522.8 326.0 520.8 327.3 518.2 327.0C515.6 326.7 512.5 325.1 509.8 324.5C507.2 323.9 504.7 323.8 502.2 323.4C499.6 323.1 497.0 322.8 494.7 322.5C492.3 322.3 490.0 322.5 488.0 321.9C486.0 321.4 484.0 320.1 482.5 319.1C481.0 318.2 480.0 316.9 479.1 316.2C478.2 315.5 478.3 315.7 477.0 314.8C475.8 313.9 473.1 312.1 471.7 310.7C470.3 309.4 469.4 308.3 468.5 306.7C467.6 305.2 467.3 303.1 466.3 301.4C465.3 299.8 463.3 298.5 462.5 296.9C461.7 295.4 461.9 294.0 461.6 292.3C461.2 290.5 460.1 288.1 460.3 286.3Z" fill="#F6C991"/><path d="M460.3 286.3C460.5 284.5 461.9 283.3 462.6 281.3C463.3 279.4 463.7 276.4 464.6 274.6C465.6 272.8 467.1 272.2 468.5 270.7C469.8 269.1 471.2 266.8 472.9 265.3C474.6 263.7 477.0 262.2 478.7 261.2C480.5 260.1 481.5 259.5 483.3 259.1C485.2 258.8 487.6 259.7 489.8 259.2C491.9 258.7 493.5 256.5 496.3 256.2C499.0 255.9 503.4 256.9 506.1 257.2C508.9 257.6 511.0 257.3 513.0 258.1C515.0 258.9 516.3 261.2 517.9 262.0C519.6 262.8 521.0 262.6 523.0 263.0C525.0 263.4 527.9 263.9 530.2 264.3C532.6 264.7 535.0 265.0 537.2 265.4C539.3 265.7 540.8 265.6 543.0 266.3C545.2 267.1 547.4 268.6 550.3 269.7C553.3 270.8 556.5 271.8 560.4 272.7C564.3 273.6 569.9 274.4 573.7 275.2C577.5 275.9 579.8 277.0 583.4 277.4C587.0 277.9 591.6 277.8 595.2 278.0C598.9 278.1 602.2 278.1 605.4 278.4C608.6 278.7 611.7 279.2 614.5 279.8C617.3 280.5 619.5 281.3 622.1 282.2C624.7 283.2 627.8 284.0 630.2 285.3C632.5 286.7 634.5 289.0 636.2 290.4C637.9 291.8 639.3 292.1 640.5 293.6C641.8 295.1 642.3 297.0 643.6 299.2C645.0 301.3 647.6 304.6 648.4 306.7C649.3 308.9 648.8 310.0 648.8 312.3C648.7 314.6 648.4 318.1 648.0 320.4C647.5 322.8 646.9 324.5 646.1 326.4C645.2 328.2 644.0 329.9 642.9 331.6C641.8 333.2 640.9 334.9 639.4 336.2C637.9 337.6 636.0 338.7 633.8 339.7C631.7 340.7 628.8 341.8 626.5 342.4C624.2 343.1 622.4 343.8 619.9 343.6C617.5 343.4 614.7 341.7 611.8 341.5C609.0 341.3 605.8 342.4 602.9 342.2C599.9 342.0 596.7 340.4 594.0 340.1C591.3 339.7 588.7 340.6 586.5 340.2C584.3 339.9 583.1 338.5 580.9 337.8C578.7 337.1 576.0 336.8 573.3 336.1C570.5 335.4 567.2 334.1 564.4 333.4C561.7 332.7 559.7 332.6 556.8 331.8C553.9 331.1 550.0 329.5 547.1 329.0C544.3 328.4 542.0 328.6 539.6 328.5C537.3 328.5 535.4 329.0 533.0 328.6C530.6 328.2 527.7 326.5 525.3 326.2C522.8 326.0 520.8 327.3 518.2 327.0C515.6 326.7 512.5 325.1 509.8 324.5C507.2 323.9 504.7 323.8 502.2 323.4C499.6 323.1 497.0 322.8 494.7 322.5C492.3 322.3 490.0 322.5 488.0 321.9C486.0 321.4 484.0 320.1 482.5 319.1C481.0 318.2 480.0 316.9 479.1 316.2C478.2 315.5 478.3 315.7 477.0 314.8C475.8 313.9 473.1 312.1 471.7 310.7C470.3 309.4 469.4 308.3 468.5 306.7C467.6 305.2 467.3 303.1 466.3 301.4C465.3 299.8 463.3 298.5 462.5 296.9C461.7 295.4 461.9 294.0 461.6 292.3C461.2 290.5 460.1 288.1 460.3 286.3Z" fill="none" stroke="#FBE2B4" stroke-width="12.4" filter="url(#soft2)"/><ellipse cx="493" cy="289" rx="29" ry="30.5" fill="#F9E2CE" filter="url(#soft2)"/><path d="M460.3 286.3C460.5 284.5 461.9 283.3 462.6 281.3C463.3 279.4 463.7 276.4 464.6 274.6C465.6 272.8 467.1 272.2 468.5 270.7C469.8 269.1 471.2 266.8 472.9 265.3C474.6 263.7 477.0 262.2 478.7 261.2C480.5 260.1 481.5 259.5 483.3 259.1C485.2 258.8 487.6 259.7 489.8 259.2C491.9 258.7 493.5 256.5 496.3 256.2C499.0 255.9 503.4 256.9 506.1 257.2C508.9 257.6 511.0 257.3 513.0 258.1C515.0 258.9 516.3 261.2 517.9 262.0C519.6 262.8 521.0 262.6 523.0 263.0C525.0 263.4 527.9 263.9 530.2 264.3C532.6 264.7 535.0 265.0 537.2 265.4C539.3 265.7 540.8 265.6 543.0 266.3C545.2 267.1 547.4 268.6 550.3 269.7C553.3 270.8 556.5 271.8 560.4 272.7C564.3 273.6 569.9 274.4 573.7 275.2C577.5 275.9 579.8 277.0 583.4 277.4C587.0 277.9 591.6 277.8 595.2 278.0C598.9 278.1 602.2 278.1 605.4 278.4C608.6 278.7 611.7 279.2 614.5 279.8C617.3 280.5 619.5 281.3 622.1 282.2C624.7 283.2 627.8 284.0 630.2 285.3C632.5 286.7 634.5 289.0 636.2 290.4C637.9 291.8 639.3 292.1 640.5 293.6C641.8 295.1 642.3 297.0 643.6 299.2C645.0 301.3 647.6 304.6 648.4 306.7C649.3 308.9 648.8 310.0 648.8 312.3C648.7 314.6 648.4 318.1 648.0 320.4C647.5 322.8 646.9 324.5 646.1 326.4C645.2 328.2 644.0 329.9 642.9 331.6C641.8 333.2 640.9 334.9 639.4 336.2C637.9 337.6 636.0 338.7 633.8 339.7C631.7 340.7 628.8 341.8 626.5 342.4C624.2 343.1 622.4 343.8 619.9 343.6C617.5 343.4 614.7 341.7 611.8 341.5C609.0 341.3 605.8 342.4 602.9 342.2C599.9 342.0 596.7 340.4 594.0 340.1C591.3 339.7 588.7 340.6 586.5 340.2C584.3 339.9 583.1 338.5 580.9 337.8C578.7 337.1 576.0 336.8 573.3 336.1C570.5 335.4 567.2 334.1 564.4 333.4C561.7 332.7 559.7 332.6 556.8 331.8C553.9 331.1 550.0 329.5 547.1 329.0C544.3 328.4 542.0 328.6 539.6 328.5C537.3 328.5 535.4 329.0 533.0 328.6C530.6 328.2 527.7 326.5 525.3 326.2C522.8 326.0 520.8 327.3 518.2 327.0C515.6 326.7 512.5 325.1 509.8 324.5C507.2 323.9 504.7 323.8 502.2 323.4C499.6 323.1 497.0 322.8 494.7 322.5C492.3 322.3 490.0 322.5 488.0 321.9C486.0 321.4 484.0 320.1 482.5 319.1C481.0 318.2 480.0 316.9 479.1 316.2C478.2 315.5 478.3 315.7 477.0 314.8C475.8 313.9 473.1 312.1 471.7 310.7C470.3 309.4 469.4 308.3 468.5 306.7C467.6 305.2 467.3 303.1 466.3 301.4C465.3 299.8 463.3 298.5 462.5 296.9C461.7 295.4 461.9 294.0 461.6 292.3C461.2 290.5 460.1 288.1 460.3 286.3Z" fill="none" stroke="#0a0a0a" stroke-width="8.4" stroke-linecap="round"/></g>
<ellipse cx="502" cy="290" rx="30.5" ry="29.5" fill="#f6dccf"/>
<path d="M528.2 290.0C528.4 294.2 527.0 299.3 524.7 302.8C522.4 306.3 518.2 309.2 514.4 311.1C510.6 313.0 506.2 314.2 502.0 314.4C497.8 314.5 492.7 314.0 489.0 312.1C485.3 310.1 481.7 306.4 479.6 302.7C477.5 299.0 476.1 294.2 476.2 290.0C476.3 285.8 478.0 281.3 480.2 277.6C482.3 274.0 485.5 270.3 489.2 268.2C492.8 266.1 497.7 264.8 502.0 264.8C506.3 264.8 511.2 266.1 514.8 268.2C518.4 270.4 521.4 274.1 523.6 277.8C525.9 281.4 528.0 285.8 528.2 290.0Z" fill="#fff" stroke="#9A1A24" stroke-width="5.6"/>
<path d="M518.4 290.0C518.5 292.0 517.5 294.3 516.6 296.2C515.6 298.0 514.2 299.3 512.9 301.2C511.6 303.1 510.8 306.4 508.9 307.5C507.1 308.5 504.1 307.7 501.7 307.5C499.3 307.4 496.9 307.5 494.8 306.6C492.8 305.7 490.8 304.0 489.4 302.3C488.0 300.6 487.2 298.5 486.3 296.4C485.3 294.3 483.7 292.2 483.5 290.0C483.4 287.8 484.7 285.5 485.5 283.3C486.4 281.1 487.2 278.7 488.7 277.0C490.3 275.4 492.7 274.4 494.9 273.5C497.0 272.6 499.5 271.3 501.7 271.4C503.9 271.5 506.3 273.1 508.2 274.3C510.0 275.6 511.5 277.2 512.9 278.8C514.2 280.4 515.3 282.1 516.3 284.0C517.2 285.8 518.4 288.0 518.4 290.0Z" fill="#4a4a4a"/>
<path d="M517.1 290.0C516.8 292.3 514.2 294.4 512.8 296.4C511.4 298.4 510.5 300.8 508.6 302.0C506.8 303.2 504.2 303.4 501.7 303.6C499.2 303.9 496.1 304.6 493.8 303.7C491.6 302.7 489.7 300.0 488.3 297.8C486.8 295.5 484.9 292.4 485.3 290.0C485.6 287.6 488.8 285.5 490.4 283.5C491.9 281.4 492.6 278.5 494.5 277.5C496.4 276.4 499.4 277.0 501.7 277.2C504.0 277.3 506.4 277.3 508.5 278.2C510.7 279.1 513.1 280.6 514.5 282.6C516.0 284.6 517.4 287.7 517.1 290.0Z" fill="#1a1a1a"/>
<circle cx="495.9" cy="295.3" r="1.4" fill="#a5a5a5"/><circle cx="490.1" cy="300.2" r="1.1" fill="#6a6a6a"/><circle cx="491.3" cy="299.3" r="0.7" fill="#e0e0e0"/><circle cx="501.8" cy="306.3" r="1.1" fill="#8a8a8a"/><circle cx="505.3" cy="295.2" r="1.0" fill="#b5b5b5"/><circle cx="501.1" cy="303.6" r="0.7" fill="#e0e0e0"/><circle cx="502.3" cy="287.1" r="0.9" fill="#000"/><circle cx="501.3" cy="285.6" r="1.3" fill="#6a6a6a"/><circle cx="511.2" cy="299.5" r="0.8" fill="#8a8a8a"/><circle cx="511.3" cy="302.2" r="0.7" fill="#a5a5a5"/><circle cx="496.4" cy="301.7" r="1.2" fill="#e0e0e0"/><circle cx="488.3" cy="295.8" r="0.9" fill="#8a8a8a"/><circle cx="509.8" cy="300.6" r="0.7" fill="#c8c8c8"/><circle cx="493.3" cy="277.4" r="0.7" fill="#a5a5a5"/><circle cx="509.0" cy="298.3" r="1.0" fill="#b5b5b5"/><circle cx="493.2" cy="288.3" r="1.4" fill="#8a8a8a"/><circle cx="496.5" cy="282.3" r="1.3" fill="#a5a5a5"/><circle cx="498.8" cy="276.4" r="1.4" fill="#b5b5b5"/><circle cx="501.7" cy="284.6" r="1.3" fill="#b5b5b5"/><circle cx="510.0" cy="283.6" r="1.3" fill="#b5b5b5"/><circle cx="493.5" cy="283.3" r="0.8" fill="#000"/><circle cx="508.9" cy="287.4" r="1.3" fill="#6a6a6a"/><circle cx="497.2" cy="280.5" r="0.8" fill="#c8c8c8"/><circle cx="495.8" cy="279.5" r="0.9" fill="#b5b5b5"/><circle cx="491.9" cy="299.6" r="1.4" fill="#000"/><circle cx="490.5" cy="300.5" r="1.1" fill="#000"/><circle cx="512.3" cy="295.9" r="0.7" fill="#a5a5a5"/><circle cx="507.3" cy="302.1" r="1.5" fill="#8a8a8a"/><circle cx="489.4" cy="286.2" r="1.0" fill="#c8c8c8"/><circle cx="503.5" cy="303.3" r="1.4" fill="#8a8a8a"/><circle cx="488.4" cy="294.6" r="1.1" fill="#a5a5a5"/><circle cx="485.6" cy="290.2" r="1.4" fill="#6a6a6a"/><circle cx="514.0" cy="292.3" r="1.2" fill="#a5a5a5"/><circle cx="488.6" cy="288.9" r="1.0" fill="#a5a5a5"/><circle cx="517.5" cy="287.3" r="1.1" fill="#8a8a8a"/><circle cx="493.7" cy="284.5" r="1.0" fill="#b5b5b5"/><circle cx="516.2" cy="283.4" r="0.8" fill="#6a6a6a"/><circle cx="509.5" cy="279.8" r="0.8" fill="#000"/><circle cx="498.2" cy="277.6" r="0.9" fill="#c8c8c8"/><circle cx="505.7" cy="277.0" r="0.8" fill="#a5a5a5"/><circle cx="491.0" cy="292.0" r="0.8" fill="#c8c8c8"/><circle cx="497.4" cy="290.7" r="1.1" fill="#c8c8c8"/><circle cx="492.6" cy="285.8" r="1.4" fill="#e0e0e0"/><circle cx="498.8" cy="276.6" r="1.3" fill="#8a8a8a"/><circle cx="494.5" cy="282.3" r="1.0" fill="#c8c8c8"/><circle cx="497.2" cy="295.0" r="0.7" fill="#000"/><circle cx="508.2" cy="301.1" r="0.8" fill="#c8c8c8"/><circle cx="495.0" cy="280.1" r="0.9" fill="#8a8a8a"/><circle cx="509.2" cy="279.5" r="1.3" fill="#e0e0e0"/><circle cx="500.2" cy="280.0" r="0.7" fill="#a5a5a5"/><circle cx="496.2" cy="300.3" r="1.1" fill="#a5a5a5"/><circle cx="489.1" cy="284.3" r="1.0" fill="#a5a5a5"/><circle cx="500.9" cy="294.8" r="1.3" fill="#b5b5b5"/><circle cx="508.2" cy="281.4" r="0.9" fill="#b5b5b5"/><circle cx="496.8" cy="303.8" r="1.4" fill="#e0e0e0"/><circle cx="515.1" cy="290.0" r="1.3" fill="#000"/><circle cx="494.8" cy="289.5" r="1.0" fill="#8a8a8a"/><circle cx="492.7" cy="302.2" r="0.9" fill="#a5a5a5"/><circle cx="505.3" cy="287.9" r="1.0" fill="#8a8a8a"/><circle cx="509.2" cy="284.8" r="0.7" fill="#000"/><circle cx="511.8" cy="293.4" r="1.4" fill="#000"/><circle cx="496.2" cy="275.6" r="1.5" fill="#a5a5a5"/><circle cx="499.3" cy="304.9" r="0.9" fill="#000"/><circle cx="515.8" cy="288.2" r="1.1" fill="#000"/><circle cx="486.6" cy="287.1" r="1.2" fill="#c8c8c8"/><circle cx="495.5" cy="278.8" r="0.9" fill="#b5b5b5"/><circle cx="496.2" cy="275.5" r="1.3" fill="#a5a5a5"/><circle cx="510.2" cy="291.4" r="0.9" fill="#8a8a8a"/><circle cx="497.3" cy="282.5" r="1.4" fill="#6a6a6a"/><circle cx="499.4" cy="298.4" r="1.4" fill="#8a8a8a"/><circle cx="510.7" cy="289.7" r="1.4" fill="#c8c8c8"/><circle cx="488.5" cy="285.9" r="1.2" fill="#6a6a6a"/><circle cx="503.3" cy="305.7" r="1.2" fill="#c8c8c8"/><circle cx="496.3" cy="280.9" r="0.7" fill="#a5a5a5"/><circle cx="504.3" cy="298.5" r="0.7" fill="#6a6a6a"/><circle cx="488.1" cy="290.4" r="1.2" fill="#e0e0e0"/><circle cx="516.4" cy="286.5" r="0.7" fill="#e0e0e0"/><circle cx="504.9" cy="285.3" r="1.1" fill="#c8c8c8"/><circle cx="515.1" cy="297.6" r="1.3" fill="#000"/><circle cx="496.2" cy="276.3" r="1.5" fill="#b5b5b5"/><circle cx="502.0" cy="287.9" r="1.2" fill="#b5b5b5"/><circle cx="491.5" cy="293.2" r="1.4" fill="#6a6a6a"/><circle cx="510.0" cy="301.9" r="0.8" fill="#b5b5b5"/><circle cx="515.4" cy="282.8" r="1.5" fill="#000"/><circle cx="493.7" cy="295.5" r="1.0" fill="#a5a5a5"/><circle cx="516.8" cy="285.7" r="1.1" fill="#000"/><circle cx="488.2" cy="289.1" r="0.9" fill="#6a6a6a"/><circle cx="513.9" cy="285.5" r="0.9" fill="#000"/><circle cx="496.9" cy="290.2" r="0.9" fill="#e0e0e0"/><circle cx="514.8" cy="292.2" r="1.3" fill="#8a8a8a"/><circle cx="500.0" cy="304.4" r="0.9" fill="#000"/><circle cx="505.8" cy="285.8" r="0.8" fill="#6a6a6a"/><circle cx="500.9" cy="291.1" r="0.8" fill="#c8c8c8"/><circle cx="514.0" cy="296.1" r="1.3" fill="#8a8a8a"/><circle cx="498.8" cy="286.1" r="1.0" fill="#6a6a6a"/><circle cx="507.6" cy="288.1" r="0.8" fill="#6a6a6a"/><circle cx="504.0" cy="293.6" r="1.1" fill="#b5b5b5"/><circle cx="484.7" cy="285.4" r="0.8" fill="#555"/><circle cx="490.9" cy="305.2" r="1.0" fill="#999"/><circle cx="484.0" cy="292.3" r="0.9" fill="#222"/><circle cx="512.1" cy="303.9" r="1.0" fill="#222"/><circle cx="485.3" cy="297.3" r="0.8" fill="#999"/><circle cx="509.3" cy="272.8" r="0.8" fill="#222"/><circle cx="517.5" cy="299.0" r="0.9" fill="#888"/><circle cx="519.1" cy="288.0" r="0.7" fill="#999"/><circle cx="501.6" cy="271.6" r="1.1" fill="#555"/><circle cx="486.7" cy="279.9" r="0.8" fill="#555"/><circle cx="488.4" cy="278.6" r="1.1" fill="#555"/><circle cx="519.5" cy="292.0" r="0.8" fill="#999"/><circle cx="518.9" cy="285.4" r="1.2" fill="#888"/><circle cx="497.3" cy="271.8" r="0.9" fill="#999"/><circle cx="519.8" cy="293.9" r="1.1" fill="#888"/><circle cx="515.6" cy="279.4" r="1.1" fill="#888"/><circle cx="519.1" cy="293.8" r="1.2" fill="#999"/><circle cx="496.2" cy="272.1" r="0.7" fill="#999"/><circle cx="506.7" cy="273.0" r="0.8" fill="#999"/><circle cx="513.2" cy="303.7" r="0.8" fill="#999"/><circle cx="484.5" cy="289.5" r="0.8" fill="#222"/><circle cx="519.1" cy="295.8" r="1.2" fill="#555"/><circle cx="486.0" cy="279.5" r="1.3" fill="#222"/><circle cx="493.4" cy="306.7" r="1.3" fill="#888"/><circle cx="519.4" cy="292.7" r="0.9" fill="#555"/><circle cx="496.8" cy="272.7" r="0.7" fill="#888"/><circle cx="483.8" cy="290.9" r="1.0" fill="#555"/><circle cx="517.5" cy="300.3" r="1.0" fill="#888"/><circle cx="487.7" cy="278.1" r="0.8" fill="#999"/><circle cx="503.4" cy="272.6" r="1.2" fill="#888"/>
<path d="M586.3 294.2q-2.3 -0.1 3.9 3.7 M553.4 292.4q0.0 2.1 4.2 2.1 M611.2 313.4q0.0 2.0 4.6 2.8 M584.1 314.4q0.2 -1.8 5.0 1.4 M580.5 308.7q-0.4 1.2 3.6 2.6 M605.0 316.9q1.5 2.1 -5.1 0.3 M596.3 314.3q0.2 -2.4 5.1 1.3 M547.6 302.4q2.6 -2.7 -0.5 2.9 M600.4 291.8q0.2 -1.7 -4.1 4.1 M547.6 299.4q2.7 -2.8 -2.9 2.6 M571.0 301.6q-2.3 2.9 2.6 5.4 M604.0 299.5q1.2 -2.4 4.1 0.7 M573.7 307.7q2.5 1.5 -5.0 2.7 M570.6 299.2q1.5 -2.8 0.3 5.2 M588.4 305.5q-0.7 -0.1 -2.8 0.7 M588.6 300.5q-2.5 -2.0 3.5 3.8 M611.4 313.1q-0.7 2.9 3.2 2.8 M574.5 287.6q2.0 -2.4 0.1 3.4 M565.7 293.1q-1.9 0.6 2.6 3.1 M582.1 305.0q2.3 0.1 2.5 1.2 M567.7 285.4q-0.7 -0.2 5.1 2.9 M548.5 297.9q2.0 -0.4 -2.4 2.1 M574.1 320.2q-1.1 2.5 -5.1 2.2 M587.5 286.1q-0.1 1.5 -4.3 4.2 M585.8 290.9q2.2 -0.7 -0.1 3.9 M580.4 289.0q-2.5 1.1 -2.2 2.9 M589.1 314.6q2.5 0.5 -2.1 1.7 M552.3 291.6q1.3 0.5 2.5 0.5 M560.3 285.7q2.8 -2.6 2.0 2.3 M550.6 295.7q1.2 -2.5 -2.8 0.4 M550.5 301.5q1.5 -2.1 -2.4 1.2 M547.0 307.3q-3.0 -2.8 -2.5 1.3 M580.1 299.7q1.9 2.6 -4.2 3.3 M559.2 285.9q-2.6 0.3 -0.6 4.8 M600.0 307.0q-0.1 0.2 -2.0 2.4 M582.7 293.0q0.5 2.6 0.3 3.1 M554.3 308.3q1.2 -1.7 -0.6 3.1 M554.1 285.2q-1.0 0.9 2.8 4.0 M584.4 317.2q-0.9 -1.6 -2.5 2.0 M591.0 319.1q-0.3 -1.2 -3.7 2.2 M576.5 321.5q-1.3 -2.0 0.3 4.9 M597.0 307.6q0.7 1.1 1.1 4.2 M603.0 296.1q0.3 -0.2 -2.9 4.4 M608.6 300.2q-0.4 1.5 1.9 5.2 M604.4 310.9q2.2 1.1 -4.0 0.7 M587.5 305.7q0.9 0.6 3.0 5.1" fill="none" stroke="#553a18" stroke-width="2.4" stroke-linecap="round"/>
<g clip-path="url(#c6)"><path d="M335.9 397.7C335.9 395.5 336.2 395.8 336.8 394.2C337.4 392.7 338.2 390.4 339.4 388.5C340.5 386.6 342.2 384.7 343.6 383.0C345.1 381.3 346.2 379.4 347.9 378.4C349.7 377.3 352.3 377.4 354.2 376.7C356.2 376.0 357.6 374.8 359.7 374.1C361.7 373.4 364.0 372.8 366.8 372.4C369.5 372.1 373.2 372.0 376.2 372.2C379.2 372.4 382.1 373.3 384.8 373.7C387.4 374.1 389.7 374.4 392.2 374.5C394.7 374.6 396.9 374.7 399.8 374.3C402.7 373.9 406.6 372.5 409.7 372.2C412.7 371.9 415.6 372.8 418.2 372.7C420.9 372.6 422.8 371.7 425.6 371.9C428.4 372.0 431.6 373.3 435.0 373.6C438.5 373.9 443.4 373.4 446.2 373.8C449.0 374.1 449.5 374.8 451.8 375.7C454.2 376.6 458.3 377.6 460.1 379.1C461.9 380.6 461.4 383.2 462.5 384.7C463.7 386.2 465.8 387.1 467.1 388.1C468.3 389.1 468.6 390.1 469.9 390.8C471.2 391.6 472.8 392.3 474.9 392.7C477.0 393.0 480.0 392.9 482.5 393.1C484.9 393.3 487.4 393.3 489.5 393.8C491.6 394.3 493.2 395.5 494.9 396.0C496.6 396.6 498.4 396.1 499.9 397.0C501.5 397.8 502.7 400.0 504.1 401.0C505.5 402.0 506.9 402.2 508.2 403.1C509.4 404.0 510.1 404.9 511.4 406.4C512.8 407.9 514.8 410.2 516.2 412.1C517.6 413.9 519.1 415.7 519.8 417.4C520.6 419.0 520.6 419.9 520.6 421.9C520.6 423.9 519.8 427.1 519.8 429.4C519.8 431.6 520.9 433.3 520.7 435.3C520.4 437.2 519.1 438.9 518.3 441.0C517.5 443.2 517.5 446.3 515.9 448.0C514.3 449.6 510.8 449.7 508.7 450.8C506.7 452.0 505.6 453.9 503.5 454.7C501.5 455.4 498.6 455.0 496.4 455.3C494.2 455.5 492.9 455.9 490.5 456.1C488.0 456.2 484.4 456.2 481.7 456.1C479.1 456.0 477.1 455.6 474.8 455.4C472.5 455.3 470.1 455.5 467.9 455.3C465.7 455.0 463.6 454.1 461.6 453.7C459.5 453.3 457.9 453.3 455.7 452.8C453.4 452.2 450.4 451.4 448.0 450.7C445.6 449.9 443.1 449.0 441.3 448.4C439.4 447.8 439.1 447.2 436.9 447.0C434.6 446.9 430.5 447.4 427.7 447.3C424.8 447.2 422.7 446.6 419.6 446.5C416.6 446.4 412.6 446.8 409.3 446.8C406.0 446.8 402.5 446.8 399.6 446.5C396.7 446.2 394.5 445.6 391.8 445.0C389.0 444.3 385.5 443.4 383.1 442.8C380.7 442.2 379.6 442.1 377.4 441.2C375.1 440.2 372.0 437.8 369.6 437.0C367.2 436.2 365.1 437.2 362.9 436.5C360.6 435.9 358.3 434.4 356.1 433.3C354.0 432.2 351.9 430.6 349.7 429.8C347.5 429.0 344.9 429.7 342.9 428.3C341.0 426.9 339.4 423.8 338.2 421.5C337.1 419.3 336.4 417.2 336.1 414.8C335.8 412.5 336.5 410.5 336.5 407.6C336.4 404.7 335.8 399.9 335.9 397.7Z" fill="#F6C991"/><path d="M335.9 397.7C335.9 395.5 336.2 395.8 336.8 394.2C337.4 392.7 338.2 390.4 339.4 388.5C340.5 386.6 342.2 384.7 343.6 383.0C345.1 381.3 346.2 379.4 347.9 378.4C349.7 377.3 352.3 377.4 354.2 376.7C356.2 376.0 357.6 374.8 359.7 374.1C361.7 373.4 364.0 372.8 366.8 372.4C369.5 372.1 373.2 372.0 376.2 372.2C379.2 372.4 382.1 373.3 384.8 373.7C387.4 374.1 389.7 374.4 392.2 374.5C394.7 374.6 396.9 374.7 399.8 374.3C402.7 373.9 406.6 372.5 409.7 372.2C412.7 371.9 415.6 372.8 418.2 372.7C420.9 372.6 422.8 371.7 425.6 371.9C428.4 372.0 431.6 373.3 435.0 373.6C438.5 373.9 443.4 373.4 446.2 373.8C449.0 374.1 449.5 374.8 451.8 375.7C454.2 376.6 458.3 377.6 460.1 379.1C461.9 380.6 461.4 383.2 462.5 384.7C463.7 386.2 465.8 387.1 467.1 388.1C468.3 389.1 468.6 390.1 469.9 390.8C471.2 391.6 472.8 392.3 474.9 392.7C477.0 393.0 480.0 392.9 482.5 393.1C484.9 393.3 487.4 393.3 489.5 393.8C491.6 394.3 493.2 395.5 494.9 396.0C496.6 396.6 498.4 396.1 499.9 397.0C501.5 397.8 502.7 400.0 504.1 401.0C505.5 402.0 506.9 402.2 508.2 403.1C509.4 404.0 510.1 404.9 511.4 406.4C512.8 407.9 514.8 410.2 516.2 412.1C517.6 413.9 519.1 415.7 519.8 417.4C520.6 419.0 520.6 419.9 520.6 421.9C520.6 423.9 519.8 427.1 519.8 429.4C519.8 431.6 520.9 433.3 520.7 435.3C520.4 437.2 519.1 438.9 518.3 441.0C517.5 443.2 517.5 446.3 515.9 448.0C514.3 449.6 510.8 449.7 508.7 450.8C506.7 452.0 505.6 453.9 503.5 454.7C501.5 455.4 498.6 455.0 496.4 455.3C494.2 455.5 492.9 455.9 490.5 456.1C488.0 456.2 484.4 456.2 481.7 456.1C479.1 456.0 477.1 455.6 474.8 455.4C472.5 455.3 470.1 455.5 467.9 455.3C465.7 455.0 463.6 454.1 461.6 453.7C459.5 453.3 457.9 453.3 455.7 452.8C453.4 452.2 450.4 451.4 448.0 450.7C445.6 449.9 443.1 449.0 441.3 448.4C439.4 447.8 439.1 447.2 436.9 447.0C434.6 446.9 430.5 447.4 427.7 447.3C424.8 447.2 422.7 446.6 419.6 446.5C416.6 446.4 412.6 446.8 409.3 446.8C406.0 446.8 402.5 446.8 399.6 446.5C396.7 446.2 394.5 445.6 391.8 445.0C389.0 444.3 385.5 443.4 383.1 442.8C380.7 442.2 379.6 442.1 377.4 441.2C375.1 440.2 372.0 437.8 369.6 437.0C367.2 436.2 365.1 437.2 362.9 436.5C360.6 435.9 358.3 434.4 356.1 433.3C354.0 432.2 351.9 430.6 349.7 429.8C347.5 429.0 344.9 429.7 342.9 428.3C341.0 426.9 339.4 423.8 338.2 421.5C337.1 419.3 336.4 417.2 336.1 414.8C335.8 412.5 336.5 410.5 336.5 407.6C336.4 404.7 335.8 399.9 335.9 397.7Z" fill="none" stroke="#FBE2B4" stroke-width="12.4" filter="url(#soft2)"/><path d="M335.9 397.7C335.9 395.5 336.2 395.8 336.8 394.2C337.4 392.7 338.2 390.4 339.4 388.5C340.5 386.6 342.2 384.7 343.6 383.0C345.1 381.3 346.2 379.4 347.9 378.4C349.7 377.3 352.3 377.4 354.2 376.7C356.2 376.0 357.6 374.8 359.7 374.1C361.7 373.4 364.0 372.8 366.8 372.4C369.5 372.1 373.2 372.0 376.2 372.2C379.2 372.4 382.1 373.3 384.8 373.7C387.4 374.1 389.7 374.4 392.2 374.5C394.7 374.6 396.9 374.7 399.8 374.3C402.7 373.9 406.6 372.5 409.7 372.2C412.7 371.9 415.6 372.8 418.2 372.7C420.9 372.6 422.8 371.7 425.6 371.9C428.4 372.0 431.6 373.3 435.0 373.6C438.5 373.9 443.4 373.4 446.2 373.8C449.0 374.1 449.5 374.8 451.8 375.7C454.2 376.6 458.3 377.6 460.1 379.1C461.9 380.6 461.4 383.2 462.5 384.7C463.7 386.2 465.8 387.1 467.1 388.1C468.3 389.1 468.6 390.1 469.9 390.8C471.2 391.6 472.8 392.3 474.9 392.7C477.0 393.0 480.0 392.9 482.5 393.1C484.9 393.3 487.4 393.3 489.5 393.8C491.6 394.3 493.2 395.5 494.9 396.0C496.6 396.6 498.4 396.1 499.9 397.0C501.5 397.8 502.7 400.0 504.1 401.0C505.5 402.0 506.9 402.2 508.2 403.1C509.4 404.0 510.1 404.9 511.4 406.4C512.8 407.9 514.8 410.2 516.2 412.1C517.6 413.9 519.1 415.7 519.8 417.4C520.6 419.0 520.6 419.9 520.6 421.9C520.6 423.9 519.8 427.1 519.8 429.4C519.8 431.6 520.9 433.3 520.7 435.3C520.4 437.2 519.1 438.9 518.3 441.0C517.5 443.2 517.5 446.3 515.9 448.0C514.3 449.6 510.8 449.7 508.7 450.8C506.7 452.0 505.6 453.9 503.5 454.7C501.5 455.4 498.6 455.0 496.4 455.3C494.2 455.5 492.9 455.9 490.5 456.1C488.0 456.2 484.4 456.2 481.7 456.1C479.1 456.0 477.1 455.6 474.8 455.4C472.5 455.3 470.1 455.5 467.9 455.3C465.7 455.0 463.6 454.1 461.6 453.7C459.5 453.3 457.9 453.3 455.7 452.8C453.4 452.2 450.4 451.4 448.0 450.7C445.6 449.9 443.1 449.0 441.3 448.4C439.4 447.8 439.1 447.2 436.9 447.0C434.6 446.9 430.5 447.4 427.7 447.3C424.8 447.2 422.7 446.6 419.6 446.5C416.6 446.4 412.6 446.8 409.3 446.8C406.0 446.8 402.5 446.8 399.6 446.5C396.7 446.2 394.5 445.6 391.8 445.0C389.0 444.3 385.5 443.4 383.1 442.8C380.7 442.2 379.6 442.1 377.4 441.2C375.1 440.2 372.0 437.8 369.6 437.0C367.2 436.2 365.1 437.2 362.9 436.5C360.6 435.9 358.3 434.4 356.1 433.3C354.0 432.2 351.9 430.6 349.7 429.8C347.5 429.0 344.9 429.7 342.9 428.3C341.0 426.9 339.4 423.8 338.2 421.5C337.1 419.3 336.4 417.2 336.1 414.8C335.8 412.5 336.5 410.5 336.5 407.6C336.4 404.7 335.8 399.9 335.9 397.7Z" fill="none" stroke="#0a0a0a" stroke-width="8.4" stroke-linecap="round"/></g>
<path d="M450.7 421.2C448.2 427.4 441.7 434.1 435.4 436.5C429.0 439.0 419.1 438.7 412.5 436.0C405.9 433.3 398.6 426.8 395.6 420.5C392.7 414.3 392.3 404.7 394.9 398.6C397.4 392.5 404.5 386.4 410.9 384.0C417.3 381.6 426.7 381.8 433.4 384.4C440.0 386.9 447.7 393.2 450.6 399.4C453.5 405.5 453.3 415.0 450.7 421.2Z" fill="#f6dccf"/>
<path d="M446.8 419.6C444.6 424.9 439.1 430.5 433.7 432.6C428.2 434.6 419.8 434.3 414.1 432.0C408.4 429.8 402.1 424.1 399.6 418.8C397.1 413.5 396.7 405.4 398.9 400.2C401.0 395.1 407.0 389.9 412.5 387.9C418.0 385.9 426.1 386.1 431.8 388.3C437.5 390.5 444.1 395.9 446.6 401.1C449.1 406.3 448.9 414.4 446.8 419.6Z" fill="#fff" stroke="#9A1A24" stroke-width="5.6"/>
<path d="M438.3 410.0C438.4 412.1 438.9 414.6 438.1 416.4C437.2 418.3 434.7 419.2 433.2 420.9C431.7 422.6 431.0 425.9 429.1 426.7C427.1 427.5 424.1 425.9 421.8 425.7C419.5 425.6 417.3 426.2 415.0 425.7C412.7 425.3 409.6 424.7 408.1 423.1C406.6 421.5 406.9 418.5 405.9 416.3C405.0 414.1 402.4 412.2 402.2 410.0C402.0 407.8 403.5 405.2 404.6 403.2C405.8 401.2 407.5 399.5 409.2 398.0C410.9 396.4 412.8 394.9 414.9 394.0C417.0 393.1 419.6 392.7 421.8 392.9C424.0 393.0 426.0 394.4 428.3 395.0C430.6 395.6 434.2 395.3 435.7 396.7C437.3 398.2 437.3 401.5 437.7 403.7C438.1 405.9 438.3 407.9 438.3 410.0Z" fill="#4a4a4a"/>
<path d="M439.0 410.0C438.8 412.2 434.8 414.1 433.3 416.3C431.8 418.5 431.8 422.0 429.8 423.3C427.9 424.6 424.6 424.3 421.8 424.4C419.0 424.5 415.4 425.3 413.3 424.1C411.2 422.8 410.4 419.4 409.0 417.0C407.6 414.7 404.7 412.3 404.9 410.0C405.0 407.7 408.6 405.8 409.9 403.5C411.3 401.1 411.2 397.0 413.2 395.8C415.2 394.5 419.2 395.4 421.8 395.9C424.4 396.4 426.6 397.4 428.7 398.6C430.8 399.8 432.6 401.2 434.3 403.1C436.1 405.0 439.1 407.8 439.0 410.0Z" fill="#1a1a1a"/>
<circle cx="422.3" cy="421.3" r="0.9" fill="#a5a5a5"/><circle cx="437.0" cy="409.4" r="1.4" fill="#6a6a6a"/><circle cx="408.7" cy="419.4" r="1.3" fill="#b5b5b5"/><circle cx="412.1" cy="408.6" r="1.0" fill="#b5b5b5"/><circle cx="432.4" cy="409.8" r="1.4" fill="#8a8a8a"/><circle cx="430.2" cy="411.4" r="1.2" fill="#c8c8c8"/><circle cx="431.0" cy="406.7" r="1.0" fill="#6a6a6a"/><circle cx="425.4" cy="395.0" r="1.2" fill="#000"/><circle cx="422.1" cy="407.3" r="0.8" fill="#000"/><circle cx="425.9" cy="410.3" r="1.4" fill="#8a8a8a"/><circle cx="428.8" cy="397.2" r="0.8" fill="#e0e0e0"/><circle cx="406.3" cy="405.3" r="1.2" fill="#8a8a8a"/><circle cx="436.3" cy="403.7" r="0.8" fill="#6a6a6a"/><circle cx="432.0" cy="403.3" r="1.2" fill="#a5a5a5"/><circle cx="433.5" cy="409.3" r="1.3" fill="#e0e0e0"/><circle cx="412.2" cy="397.1" r="1.1" fill="#000"/><circle cx="432.9" cy="412.8" r="1.2" fill="#e0e0e0"/><circle cx="410.1" cy="407.2" r="0.9" fill="#000"/><circle cx="410.7" cy="407.9" r="0.7" fill="#b5b5b5"/><circle cx="417.5" cy="412.3" r="1.4" fill="#e0e0e0"/><circle cx="408.5" cy="418.2" r="0.9" fill="#6a6a6a"/><circle cx="420.1" cy="397.9" r="1.3" fill="#a5a5a5"/><circle cx="412.6" cy="407.7" r="1.1" fill="#6a6a6a"/><circle cx="408.1" cy="401.1" r="1.0" fill="#e0e0e0"/><circle cx="419.9" cy="402.2" r="0.8" fill="#000"/><circle cx="414.9" cy="402.0" r="0.8" fill="#000"/><circle cx="417.1" cy="424.3" r="0.7" fill="#b5b5b5"/><circle cx="414.4" cy="398.9" r="0.8" fill="#b5b5b5"/><circle cx="407.3" cy="409.4" r="1.2" fill="#6a6a6a"/><circle cx="412.6" cy="404.2" r="1.1" fill="#c8c8c8"/><circle cx="436.4" cy="411.5" r="0.8" fill="#6a6a6a"/><circle cx="415.4" cy="395.5" r="1.0" fill="#c8c8c8"/><circle cx="428.3" cy="402.2" r="1.0" fill="#6a6a6a"/><circle cx="438.2" cy="408.6" r="1.1" fill="#6a6a6a"/><circle cx="409.7" cy="417.5" r="1.1" fill="#6a6a6a"/><circle cx="433.3" cy="420.9" r="1.4" fill="#c8c8c8"/><circle cx="424.1" cy="420.0" r="1.0" fill="#8a8a8a"/><circle cx="407.7" cy="404.6" r="0.9" fill="#e0e0e0"/><circle cx="435.0" cy="404.1" r="0.9" fill="#8a8a8a"/><circle cx="409.4" cy="413.7" r="1.1" fill="#b5b5b5"/><circle cx="423.1" cy="404.1" r="1.4" fill="#000"/><circle cx="432.0" cy="415.3" r="1.2" fill="#e0e0e0"/><circle cx="435.5" cy="410.2" r="0.8" fill="#c8c8c8"/><circle cx="427.1" cy="395.7" r="1.5" fill="#e0e0e0"/><circle cx="421.5" cy="408.4" r="1.2" fill="#e0e0e0"/><circle cx="422.6" cy="403.7" r="1.3" fill="#000"/><circle cx="415.7" cy="410.8" r="1.1" fill="#000"/><circle cx="415.4" cy="413.9" r="1.4" fill="#8a8a8a"/><circle cx="417.4" cy="411.1" r="0.8" fill="#8a8a8a"/><circle cx="409.2" cy="409.5" r="0.8" fill="#000"/><circle cx="435.9" cy="415.8" r="1.5" fill="#a5a5a5"/><circle cx="426.0" cy="401.4" r="1.3" fill="#000"/><circle cx="426.1" cy="403.5" r="0.8" fill="#b5b5b5"/><circle cx="429.3" cy="408.5" r="1.0" fill="#000"/><circle cx="416.5" cy="408.3" r="1.1" fill="#000"/><circle cx="430.3" cy="399.0" r="1.1" fill="#c8c8c8"/><circle cx="424.0" cy="410.1" r="1.4" fill="#000"/><circle cx="419.8" cy="416.1" r="1.3" fill="#000"/><circle cx="419.8" cy="415.5" r="0.7" fill="#a5a5a5"/><circle cx="420.6" cy="401.0" r="1.3" fill="#8a8a8a"/><circle cx="416.6" cy="399.2" r="0.9" fill="#c8c8c8"/><circle cx="411.7" cy="399.1" r="1.2" fill="#6a6a6a"/><circle cx="428.1" cy="412.5" r="0.9" fill="#8a8a8a"/><circle cx="415.3" cy="421.9" r="1.0" fill="#8a8a8a"/><circle cx="418.3" cy="416.1" r="1.1" fill="#6a6a6a"/><circle cx="432.0" cy="417.3" r="1.0" fill="#000"/><circle cx="430.5" cy="412.4" r="1.2" fill="#8a8a8a"/><circle cx="432.3" cy="411.7" r="1.5" fill="#e0e0e0"/><circle cx="427.0" cy="419.9" r="1.3" fill="#000"/><circle cx="422.7" cy="396.2" r="1.3" fill="#6a6a6a"/><circle cx="434.0" cy="400.4" r="0.7" fill="#8a8a8a"/><circle cx="414.3" cy="415.2" r="0.9" fill="#c8c8c8"/><circle cx="423.5" cy="396.0" r="1.2" fill="#b5b5b5"/><circle cx="419.4" cy="406.9" r="1.3" fill="#8a8a8a"/><circle cx="428.0" cy="407.3" r="1.4" fill="#8a8a8a"/><circle cx="435.1" cy="404.9" r="1.4" fill="#a5a5a5"/><circle cx="425.1" cy="395.7" r="1.2" fill="#000"/><circle cx="425.4" cy="419.9" r="1.2" fill="#c8c8c8"/><circle cx="424.4" cy="397.6" r="0.7" fill="#6a6a6a"/><circle cx="423.2" cy="417.4" r="1.0" fill="#a5a5a5"/><circle cx="431.4" cy="417.1" r="1.1" fill="#e0e0e0"/><circle cx="430.1" cy="410.4" r="1.5" fill="#a5a5a5"/><circle cx="428.6" cy="414.7" r="0.9" fill="#000"/><circle cx="415.0" cy="414.1" r="1.0" fill="#b5b5b5"/><circle cx="435.9" cy="410.4" r="1.4" fill="#e0e0e0"/><circle cx="425.4" cy="410.9" r="1.3" fill="#6a6a6a"/><circle cx="421.6" cy="411.6" r="1.4" fill="#000"/><circle cx="419.9" cy="417.8" r="0.9" fill="#000"/><circle cx="428.6" cy="398.8" r="0.7" fill="#b5b5b5"/><circle cx="415.2" cy="407.8" r="1.2" fill="#a5a5a5"/><circle cx="428.7" cy="417.2" r="0.9" fill="#b5b5b5"/><circle cx="413.9" cy="406.4" r="0.8" fill="#e0e0e0"/><circle cx="408.7" cy="418.1" r="1.5" fill="#b5b5b5"/><circle cx="425.9" cy="411.0" r="1.2" fill="#8a8a8a"/><circle cx="423.8" cy="397.0" r="1.5" fill="#6a6a6a"/><circle cx="413.4" cy="412.4" r="0.8" fill="#a5a5a5"/><circle cx="407.3" cy="417.4" r="1.5" fill="#000"/><circle cx="403.7" cy="415.3" r="0.9" fill="#888"/><circle cx="417.7" cy="393.3" r="1.1" fill="#555"/><circle cx="405.4" cy="402.9" r="0.7" fill="#555"/><circle cx="423.5" cy="392.7" r="0.9" fill="#555"/><circle cx="408.8" cy="423.1" r="1.0" fill="#555"/><circle cx="405.3" cy="401.0" r="1.0" fill="#999"/><circle cx="438.5" cy="401.0" r="0.8" fill="#222"/><circle cx="407.0" cy="420.1" r="0.9" fill="#888"/><circle cx="404.7" cy="415.7" r="0.8" fill="#555"/><circle cx="422.8" cy="391.7" r="1.0" fill="#888"/><circle cx="439.0" cy="403.6" r="1.3" fill="#222"/><circle cx="426.9" cy="393.0" r="1.0" fill="#222"/><circle cx="427.6" cy="426.7" r="1.3" fill="#888"/><circle cx="404.4" cy="407.6" r="1.0" fill="#222"/><circle cx="435.1" cy="396.6" r="0.7" fill="#999"/><circle cx="419.0" cy="426.6" r="1.0" fill="#888"/><circle cx="428.7" cy="392.8" r="0.8" fill="#555"/><circle cx="406.3" cy="399.7" r="0.8" fill="#555"/><circle cx="424.3" cy="392.8" r="0.8" fill="#555"/><circle cx="441.0" cy="408.0" r="1.0" fill="#999"/><circle cx="417.5" cy="392.7" r="0.8" fill="#888"/><circle cx="425.3" cy="427.4" r="1.0" fill="#888"/><circle cx="407.2" cy="421.8" r="1.2" fill="#555"/><circle cx="424.4" cy="427.9" r="0.8" fill="#222"/><circle cx="438.0" cy="400.5" r="1.1" fill="#999"/><circle cx="422.0" cy="427.3" r="1.2" fill="#222"/><circle cx="405.5" cy="403.5" r="1.3" fill="#555"/><circle cx="439.3" cy="403.1" r="1.1" fill="#555"/><circle cx="419.4" cy="428.1" r="1.1" fill="#555"/><circle cx="409.0" cy="396.1" r="0.7" fill="#222"/>
<circle cx="451" cy="434" r="1.2" fill="#6a4a20"/><circle cx="448" cy="389" r="1" fill="#6a4a20"/><circle cx="433" cy="379" r="1.1" fill="#8a6a30"/>
<g clip-path="url(#c7)"><path d="M112.2 323.0C112.8 321.3 113.6 321.2 114.5 319.8C115.5 318.5 116.5 316.6 118.0 315.1C119.5 313.5 122.1 311.9 123.6 310.6C125.1 309.2 125.7 307.8 127.2 306.9C128.7 306.1 130.8 306.0 132.6 305.3C134.5 304.7 135.8 303.5 138.4 303.2C140.9 302.8 145.1 303.0 147.9 303.1C150.8 303.1 152.9 303.8 155.5 303.7C158.1 303.5 160.5 302.4 163.8 302.3C167.0 302.1 171.7 302.8 175.0 302.8C178.2 302.8 180.3 302.4 183.3 302.2C186.3 302.0 189.9 301.6 193.2 301.6C196.4 301.6 200.0 302.2 202.8 302.2C205.5 302.3 207.6 301.9 209.7 302.1C211.8 302.3 213.5 303.2 215.3 303.5C217.2 303.8 218.9 303.1 221.0 303.9C223.0 304.8 225.9 307.2 227.8 308.6C229.7 310.0 230.9 311.2 232.3 312.3C233.8 313.5 234.9 314.2 236.2 315.7C237.6 317.1 239.6 320.0 240.5 321.0C241.4 322.0 240.8 321.4 241.7 321.6C242.6 321.8 244.0 322.3 245.9 322.2C247.8 322.1 251.2 321.2 253.3 321.1C255.5 321.0 256.8 321.4 258.7 321.8C260.7 322.1 262.5 322.5 265.0 323.0C267.4 323.5 270.6 323.5 273.2 324.6C275.9 325.7 278.4 328.0 280.7 329.5C283.0 331.1 285.4 332.0 287.2 333.6C289.0 335.3 290.2 338.0 291.6 339.6C293.0 341.2 294.6 342.0 295.4 343.4C296.3 344.9 296.2 346.6 296.8 348.4C297.3 350.1 298.4 351.7 298.6 353.7C298.8 355.8 298.5 358.7 298.0 360.9C297.5 363.0 296.5 364.8 295.5 366.6C294.5 368.5 292.8 370.3 291.9 372.1C291.0 373.8 291.1 375.8 290.1 377.1C289.1 378.3 287.6 378.6 285.9 379.8C284.3 381.0 282.6 383.0 280.2 384.1C277.9 385.2 274.4 386.1 271.8 386.5C269.1 386.9 266.9 386.5 264.5 386.5C262.2 386.4 259.9 386.2 257.6 386.0C255.3 385.8 252.4 385.4 250.5 385.1C248.6 384.7 247.8 384.1 246.0 383.8C244.3 383.5 242.2 383.7 240.0 383.3C237.8 383.0 235.3 382.3 232.9 381.6C230.4 381.0 227.3 379.8 225.3 379.6C223.3 379.4 222.3 380.7 220.8 380.5C219.2 380.4 218.2 379.2 216.2 378.9C214.2 378.6 211.5 378.9 208.8 378.7C206.1 378.5 202.4 377.8 200.1 377.5C197.7 377.2 196.7 376.7 194.5 376.7C192.4 376.6 189.1 377.2 186.9 377.2C184.7 377.1 183.5 376.6 181.4 376.4C179.4 376.3 176.6 376.3 174.5 376.3C172.4 376.3 170.4 376.5 168.6 376.4C166.8 376.3 165.6 376.3 163.8 375.6C162.1 374.9 159.8 373.5 158.0 372.1C156.3 370.6 154.9 367.9 153.2 366.8C151.5 365.7 149.6 366.1 147.7 365.5C145.8 365.0 144.0 363.9 141.9 363.4C139.7 362.8 137.1 362.8 134.8 362.3C132.5 361.7 130.2 361.1 128.1 360.1C126.0 359.2 123.6 357.4 122.0 356.5C120.4 355.6 119.8 355.8 118.7 354.7C117.6 353.6 116.4 351.1 115.6 349.7C114.7 348.3 114.3 348.1 113.6 346.5C112.9 345.0 111.7 342.1 111.5 340.3C111.3 338.4 112.5 336.9 112.4 335.3C112.4 333.6 111.0 332.2 111.0 330.2C110.9 328.1 111.6 324.7 112.2 323.0Z" fill="#F6C991"/><path d="M112.2 323.0C112.8 321.3 113.6 321.2 114.5 319.8C115.5 318.5 116.5 316.6 118.0 315.1C119.5 313.5 122.1 311.9 123.6 310.6C125.1 309.2 125.7 307.8 127.2 306.9C128.7 306.1 130.8 306.0 132.6 305.3C134.5 304.7 135.8 303.5 138.4 303.2C140.9 302.8 145.1 303.0 147.9 303.1C150.8 303.1 152.9 303.8 155.5 303.7C158.1 303.5 160.5 302.4 163.8 302.3C167.0 302.1 171.7 302.8 175.0 302.8C178.2 302.8 180.3 302.4 183.3 302.2C186.3 302.0 189.9 301.6 193.2 301.6C196.4 301.6 200.0 302.2 202.8 302.2C205.5 302.3 207.6 301.9 209.7 302.1C211.8 302.3 213.5 303.2 215.3 303.5C217.2 303.8 218.9 303.1 221.0 303.9C223.0 304.8 225.9 307.2 227.8 308.6C229.7 310.0 230.9 311.2 232.3 312.3C233.8 313.5 234.9 314.2 236.2 315.7C237.6 317.1 239.6 320.0 240.5 321.0C241.4 322.0 240.8 321.4 241.7 321.6C242.6 321.8 244.0 322.3 245.9 322.2C247.8 322.1 251.2 321.2 253.3 321.1C255.5 321.0 256.8 321.4 258.7 321.8C260.7 322.1 262.5 322.5 265.0 323.0C267.4 323.5 270.6 323.5 273.2 324.6C275.9 325.7 278.4 328.0 280.7 329.5C283.0 331.1 285.4 332.0 287.2 333.6C289.0 335.3 290.2 338.0 291.6 339.6C293.0 341.2 294.6 342.0 295.4 343.4C296.3 344.9 296.2 346.6 296.8 348.4C297.3 350.1 298.4 351.7 298.6 353.7C298.8 355.8 298.5 358.7 298.0 360.9C297.5 363.0 296.5 364.8 295.5 366.6C294.5 368.5 292.8 370.3 291.9 372.1C291.0 373.8 291.1 375.8 290.1 377.1C289.1 378.3 287.6 378.6 285.9 379.8C284.3 381.0 282.6 383.0 280.2 384.1C277.9 385.2 274.4 386.1 271.8 386.5C269.1 386.9 266.9 386.5 264.5 386.5C262.2 386.4 259.9 386.2 257.6 386.0C255.3 385.8 252.4 385.4 250.5 385.1C248.6 384.7 247.8 384.1 246.0 383.8C244.3 383.5 242.2 383.7 240.0 383.3C237.8 383.0 235.3 382.3 232.9 381.6C230.4 381.0 227.3 379.8 225.3 379.6C223.3 379.4 222.3 380.7 220.8 380.5C219.2 380.4 218.2 379.2 216.2 378.9C214.2 378.6 211.5 378.9 208.8 378.7C206.1 378.5 202.4 377.8 200.1 377.5C197.7 377.2 196.7 376.7 194.5 376.7C192.4 376.6 189.1 377.2 186.9 377.2C184.7 377.1 183.5 376.6 181.4 376.4C179.4 376.3 176.6 376.3 174.5 376.3C172.4 376.3 170.4 376.5 168.6 376.4C166.8 376.3 165.6 376.3 163.8 375.6C162.1 374.9 159.8 373.5 158.0 372.1C156.3 370.6 154.9 367.9 153.2 366.8C151.5 365.7 149.6 366.1 147.7 365.5C145.8 365.0 144.0 363.9 141.9 363.4C139.7 362.8 137.1 362.8 134.8 362.3C132.5 361.7 130.2 361.1 128.1 360.1C126.0 359.2 123.6 357.4 122.0 356.5C120.4 355.6 119.8 355.8 118.7 354.7C117.6 353.6 116.4 351.1 115.6 349.7C114.7 348.3 114.3 348.1 113.6 346.5C112.9 345.0 111.7 342.1 111.5 340.3C111.3 338.4 112.5 336.9 112.4 335.3C112.4 333.6 111.0 332.2 111.0 330.2C110.9 328.1 111.6 324.7 112.2 323.0Z" fill="none" stroke="#FBE2B4" stroke-width="12.4" filter="url(#soft2)"/><path d="M245.9 322.2C247.2 322.0 251.2 321.2 253.3 321.1C255.5 321.0 256.8 321.4 258.7 321.8C260.7 322.1 262.5 322.5 265.0 323.0C267.4 323.5 270.6 323.5 273.2 324.6C275.9 325.7 278.4 328.0 280.7 329.5C283.0 331.1 285.4 332.0 287.2 333.6C289.0 335.3 290.2 338.0 291.6 339.6C293.0 341.2 294.6 342.0 295.4 343.4C296.3 344.9 296.2 346.6 296.8 348.4C297.3 350.1 298.4 351.7 298.6 353.7C298.8 355.8 298.5 358.7 298.0 360.9C297.5 363.0 296.5 364.8 295.5 366.6C294.5 368.5 292.8 370.3 291.9 372.1C291.0 373.8 291.1 375.8 290.1 377.1C289.1 378.3 287.6 378.6 285.9 379.8C284.3 381.0 282.6 383.0 280.2 384.1C277.9 385.2 274.4 386.1 271.8 386.5C269.1 386.9 266.9 386.5 264.5 386.5C262.2 386.4 259.9 386.2 257.6 386.0C255.3 385.8 252.4 385.4 250.5 385.1C248.6 384.7 247.8 384.1 246.0 383.8C244.3 383.5 242.2 383.7 240.0 383.3C237.8 383.0 235.3 382.3 232.9 381.6C230.4 381.0 227.3 379.8 225.3 379.6C223.3 379.4 222.3 380.7 220.8 380.5C219.2 380.4 218.2 379.2 216.2 378.9C214.2 378.6 211.5 378.9 208.8 378.7C206.1 378.5 202.4 377.8 200.1 377.5C197.7 377.2 196.7 376.7 194.5 376.7C192.4 376.6 189.1 377.2 186.9 377.2C184.7 377.1 183.5 376.6 181.4 376.4C179.4 376.3 176.6 376.3 174.5 376.3C172.4 376.3 170.4 376.5 168.6 376.4C166.8 376.3 165.6 376.3 163.8 375.6C162.1 374.9 159.8 373.5 158.0 372.1C156.3 370.6 154.9 367.9 153.2 366.8C151.5 365.7 149.6 366.1 147.7 365.5C145.8 365.0 144.0 363.9 141.9 363.4C139.7 362.8 137.1 362.8 134.8 362.3C132.5 361.7 130.2 361.1 128.1 360.1C126.0 359.2 123.6 357.4 122.0 356.5C120.4 355.6 119.8 355.8 118.7 354.7C117.6 353.6 116.4 351.1 115.6 349.7C114.7 348.3 114.3 348.1 113.6 346.5C112.9 345.0 111.7 342.1 111.5 340.3C111.3 338.4 112.5 336.9 112.4 335.3C112.4 333.6 111.0 332.2 111.0 330.2C110.9 328.1 111.6 324.7 112.2 323.0C112.8 321.3 113.6 321.2 114.5 319.8C115.5 318.5 116.5 316.6 118.0 315.1C119.5 313.5 122.1 311.9 123.6 310.6C125.1 309.2 125.7 307.8 127.2 306.9C128.7 306.1 130.8 306.0 132.6 305.3C134.5 304.7 135.8 303.5 138.4 303.2C140.9 302.8 145.1 303.0 147.9 303.1C150.8 303.1 152.9 303.8 155.5 303.7C158.1 303.5 160.5 302.4 163.8 302.3C167.0 302.1 171.7 302.8 175.0 302.8C178.2 302.8 180.3 302.4 183.3 302.2C186.3 302.0 189.9 301.6 193.2 301.6C196.4 301.6 200.0 302.2 202.8 302.2C205.5 302.3 207.6 301.9 209.7 302.1C211.8 302.3 213.5 303.2 215.3 303.5C217.2 303.8 220.0 303.9 221.0 303.9" fill="none" stroke="#0a0a0a" stroke-width="8.4" stroke-linecap="round"/></g>
<g filter="url(#soft2)">
<path d="M240.9 344.3C240.7 348.8 239.5 353.9 237.4 357.5C235.4 361.1 232.4 363.8 228.7 366.0C225.1 368.2 220.8 369.9 215.3 370.9C209.7 371.8 202.0 372.1 195.4 371.8C188.9 371.4 181.2 370.4 175.8 368.8C170.4 367.3 166.4 365.2 162.9 362.6C159.5 360.0 156.8 357.0 155.2 353.2C153.5 349.4 152.8 344.2 153.1 339.7C153.3 335.2 154.5 330.1 156.6 326.5C158.6 322.9 161.6 320.2 165.3 318.0C168.9 315.8 173.2 314.1 178.7 313.1C184.3 312.2 192.0 311.9 198.6 312.2C205.1 312.6 212.8 313.6 218.2 315.2C223.6 316.7 227.6 318.8 231.1 321.4C234.5 324.0 237.2 327.0 238.8 330.8C240.5 334.6 241.2 339.8 240.9 344.3Z" fill="#f7c6dc"/>
<path d="M238.9 344.2C238.8 348.4 237.7 353.1 235.8 356.5C233.8 359.9 230.8 362.6 227.2 364.7C223.7 366.8 219.7 368.2 214.5 369.1C209.2 369.9 201.8 370.2 195.5 369.9C189.2 369.6 181.7 368.7 176.6 367.3C171.5 365.9 167.9 363.9 164.7 361.4C161.5 358.9 158.8 356.0 157.2 352.4C155.5 348.8 154.8 343.8 155.0 339.6C155.2 335.4 156.6 330.6 158.5 327.3C160.4 323.9 163.1 321.7 166.6 319.7C170.0 317.6 174.1 316.0 179.4 315.1C184.8 314.2 192.2 313.9 198.5 314.2C204.8 314.4 212.1 315.2 217.3 316.6C222.5 318.0 226.4 320.1 229.6 322.6C232.9 325.0 235.3 327.7 236.9 331.3C238.4 334.9 239.1 340.0 238.9 344.2Z" fill="#8418A4"/>
<path d="M233.0 343.9C232.8 347.5 231.7 351.7 230.0 354.7C228.3 357.8 225.7 360.1 222.6 362.1C219.5 364.0 215.8 365.5 211.4 366.4C206.9 367.3 200.9 367.5 195.7 367.3C190.5 367.0 184.5 366.1 180.2 364.8C175.8 363.4 172.3 361.6 169.4 359.3C166.5 357.0 164.3 354.4 162.9 351.2C161.5 348.0 160.9 343.8 161.0 340.1C161.2 336.5 162.3 332.3 164.0 329.3C165.7 326.2 168.3 323.9 171.4 321.9C174.5 320.0 178.2 318.5 182.6 317.6C187.1 316.7 193.1 316.5 198.3 316.7C203.5 317.0 209.5 317.9 213.8 319.2C218.2 320.6 221.7 322.4 224.6 324.7C227.5 327.0 229.7 329.6 231.1 332.8C232.5 336.0 233.1 340.2 233.0 343.9Z" fill="#BC1884"/>
<path d="M228.7 342.9C228.3 346.2 226.8 349.5 224.8 352.4C222.8 355.3 220.1 358.6 216.5 360.4C212.9 362.3 207.8 363.3 203.3 363.6C198.8 364.0 194.0 363.3 189.6 362.4C185.2 361.5 180.1 360.3 176.8 358.2C173.4 356.0 171.2 352.5 169.6 349.4C167.9 346.3 166.6 342.9 166.8 339.7C167.0 336.5 168.6 333.2 170.6 330.3C172.6 327.5 175.3 324.5 178.8 322.5C182.3 320.5 187.1 319.0 191.6 318.5C196.1 318.0 201.3 318.4 205.7 319.5C210.0 320.6 214.1 322.7 217.6 325.0C221.1 327.2 224.9 329.8 226.8 332.8C228.6 335.8 229.0 339.7 228.7 342.9Z" fill="#E2204A"/>
<path d="M222.8 342.3C222.6 344.9 221.8 347.8 220.1 350.0C218.4 352.2 215.5 354.1 212.5 355.6C209.5 357.2 205.9 358.8 202.4 359.1C198.8 359.4 194.8 358.3 191.1 357.5C187.5 356.8 183.3 356.1 180.5 354.5C177.6 352.8 175.4 350.1 174.0 347.6C172.5 345.1 171.6 342.3 171.7 339.6C171.8 337.0 172.8 334.1 174.6 331.9C176.5 329.7 179.7 328.0 182.7 326.5C185.7 325.1 189.1 323.5 192.7 323.0C196.2 322.6 200.6 322.9 204.1 323.8C207.6 324.7 210.8 326.5 213.7 328.2C216.6 330.0 219.7 332.0 221.3 334.3C222.8 336.7 223.0 339.7 222.8 342.3Z" fill="#fff" stroke="#9a1428" stroke-width="1"/>
</g>
<path d="M216.9 341.0C217.0 342.8 215.5 344.5 214.8 346.4C214.1 348.3 214.2 351.0 212.5 352.3C210.9 353.7 207.3 353.9 204.7 354.5C202.1 355.1 199.6 355.8 197.0 355.9C194.4 356.0 191.4 355.6 189.1 354.8C186.8 354.0 185.1 352.4 183.2 351.1C181.3 349.7 179.0 348.5 177.6 346.9C176.2 345.2 174.3 342.8 174.8 341.0C175.2 339.2 178.9 337.7 180.2 335.9C181.5 334.1 180.9 331.7 182.4 330.4C184.0 329.1 187.2 328.9 189.7 328.1C192.1 327.3 194.4 325.8 197.0 325.6C199.6 325.5 202.9 325.9 205.0 326.9C207.1 327.9 208.3 330.2 209.8 331.7C211.3 333.2 212.8 334.3 214.0 335.9C215.2 337.4 216.8 339.2 216.9 341.0Z" fill="#4a4a4a"/>
<path d="M212.4 341.0C212.6 343.0 213.1 345.5 211.8 347.2C210.6 349.0 207.6 350.2 205.1 351.2C202.6 352.3 199.7 353.5 197.0 353.5C194.3 353.5 191.6 352.2 188.9 351.3C186.1 350.3 182.0 349.7 180.4 348.0C178.7 346.3 179.2 343.3 179.2 341.0C179.3 338.7 179.5 336.3 180.8 334.2C182.2 332.1 184.5 329.6 187.2 328.7C189.9 327.7 193.9 328.1 197.0 328.3C200.1 328.5 203.4 328.9 205.7 330.1C207.9 331.2 209.4 333.5 210.5 335.3C211.7 337.1 212.1 339.0 212.4 341.0Z" fill="#1a1a1a"/>
<circle cx="188.1" cy="344.8" r="0.9" fill="#000"/><circle cx="184.6" cy="343.4" r="1.4" fill="#6a6a6a"/><circle cx="188.6" cy="343.6" r="1.1" fill="#e0e0e0"/><circle cx="201.4" cy="350.1" r="0.7" fill="#b5b5b5"/><circle cx="207.6" cy="347.7" r="0.8" fill="#000"/><circle cx="194.3" cy="336.4" r="1.0" fill="#b5b5b5"/><circle cx="186.7" cy="337.0" r="1.5" fill="#a5a5a5"/><circle cx="203.4" cy="336.1" r="1.1" fill="#c8c8c8"/><circle cx="191.8" cy="329.4" r="1.4" fill="#000"/><circle cx="197.0" cy="348.9" r="0.7" fill="#6a6a6a"/><circle cx="196.6" cy="337.2" r="0.7" fill="#e0e0e0"/><circle cx="200.2" cy="335.9" r="1.1" fill="#000"/><circle cx="184.5" cy="345.3" r="1.0" fill="#000"/><circle cx="207.8" cy="339.9" r="0.9" fill="#a5a5a5"/><circle cx="189.8" cy="347.8" r="1.3" fill="#e0e0e0"/><circle cx="196.1" cy="340.2" r="0.8" fill="#b5b5b5"/><circle cx="192.8" cy="353.1" r="1.4" fill="#a5a5a5"/><circle cx="200.9" cy="344.1" r="1.3" fill="#000"/><circle cx="186.9" cy="336.1" r="1.5" fill="#6a6a6a"/><circle cx="209.3" cy="330.2" r="1.2" fill="#b5b5b5"/><circle cx="190.5" cy="344.1" r="1.4" fill="#000"/><circle cx="207.5" cy="332.9" r="1.0" fill="#c8c8c8"/><circle cx="181.5" cy="340.7" r="1.4" fill="#6a6a6a"/><circle cx="204.3" cy="332.9" r="1.1" fill="#b5b5b5"/><circle cx="205.1" cy="340.2" r="1.0" fill="#000"/><circle cx="190.0" cy="328.1" r="1.3" fill="#6a6a6a"/><circle cx="199.9" cy="336.4" r="1.3" fill="#b5b5b5"/><circle cx="194.1" cy="348.6" r="0.8" fill="#c8c8c8"/><circle cx="208.1" cy="350.6" r="1.3" fill="#b5b5b5"/><circle cx="181.4" cy="340.9" r="1.4" fill="#e0e0e0"/><circle cx="193.2" cy="331.1" r="0.9" fill="#6a6a6a"/><circle cx="199.2" cy="352.0" r="1.0" fill="#000"/><circle cx="196.3" cy="346.6" r="1.0" fill="#b5b5b5"/><circle cx="194.1" cy="348.1" r="1.3" fill="#c8c8c8"/><circle cx="195.8" cy="329.4" r="1.2" fill="#8a8a8a"/><circle cx="210.6" cy="346.1" r="1.5" fill="#000"/><circle cx="199.6" cy="330.5" r="0.7" fill="#c8c8c8"/><circle cx="194.4" cy="354.1" r="0.9" fill="#e0e0e0"/><circle cx="206.2" cy="343.5" r="1.4" fill="#a5a5a5"/><circle cx="201.9" cy="331.7" r="1.4" fill="#c8c8c8"/><circle cx="198.2" cy="332.6" r="1.1" fill="#b5b5b5"/><circle cx="196.4" cy="328.6" r="1.4" fill="#6a6a6a"/><circle cx="189.1" cy="337.9" r="0.8" fill="#b5b5b5"/><circle cx="206.8" cy="349.8" r="1.5" fill="#000"/><circle cx="213.2" cy="337.6" r="1.1" fill="#c8c8c8"/><circle cx="207.6" cy="331.1" r="0.9" fill="#6a6a6a"/><circle cx="182.7" cy="332.0" r="1.1" fill="#000"/><circle cx="210.5" cy="347.4" r="0.7" fill="#8a8a8a"/><circle cx="201.4" cy="351.1" r="0.9" fill="#000"/><circle cx="194.7" cy="335.6" r="1.2" fill="#000"/><circle cx="179.8" cy="335.1" r="1.3" fill="#000"/><circle cx="199.0" cy="338.5" r="1.5" fill="#8a8a8a"/><circle cx="208.7" cy="338.1" r="1.2" fill="#a5a5a5"/><circle cx="192.6" cy="328.0" r="0.9" fill="#c8c8c8"/><circle cx="199.9" cy="335.8" r="1.1" fill="#e0e0e0"/><circle cx="209.2" cy="348.9" r="1.3" fill="#b5b5b5"/><circle cx="182.0" cy="332.4" r="0.8" fill="#8a8a8a"/><circle cx="195.0" cy="353.3" r="1.5" fill="#b5b5b5"/><circle cx="211.1" cy="350.2" r="0.9" fill="#c8c8c8"/><circle cx="194.1" cy="333.6" r="1.1" fill="#e0e0e0"/><circle cx="196.6" cy="328.3" r="1.0" fill="#8a8a8a"/><circle cx="185.4" cy="336.4" r="0.8" fill="#b5b5b5"/><circle cx="207.2" cy="335.5" r="1.4" fill="#e0e0e0"/><circle cx="186.0" cy="338.1" r="0.9" fill="#e0e0e0"/><circle cx="192.1" cy="353.0" r="1.5" fill="#8a8a8a"/><circle cx="201.6" cy="341.5" r="1.1" fill="#b5b5b5"/><circle cx="200.6" cy="345.8" r="0.9" fill="#a5a5a5"/><circle cx="198.1" cy="354.1" r="0.8" fill="#e0e0e0"/><circle cx="193.7" cy="339.6" r="1.0" fill="#c8c8c8"/><circle cx="195.1" cy="352.6" r="1.4" fill="#a5a5a5"/><circle cx="185.0" cy="344.3" r="1.5" fill="#b5b5b5"/><circle cx="213.1" cy="348.7" r="1.0" fill="#c8c8c8"/><circle cx="210.8" cy="343.2" r="1.4" fill="#8a8a8a"/><circle cx="187.2" cy="345.7" r="0.8" fill="#6a6a6a"/><circle cx="203.1" cy="345.9" r="1.4" fill="#000"/><circle cx="183.1" cy="333.7" r="0.8" fill="#8a8a8a"/><circle cx="191.8" cy="344.5" r="1.4" fill="#a5a5a5"/><circle cx="192.5" cy="338.0" r="1.3" fill="#e0e0e0"/><circle cx="200.0" cy="342.1" r="1.2" fill="#000"/><circle cx="205.9" cy="346.8" r="1.2" fill="#b5b5b5"/><circle cx="208.2" cy="339.1" r="1.1" fill="#b5b5b5"/><circle cx="187.9" cy="329.7" r="1.3" fill="#8a8a8a"/><circle cx="189.0" cy="333.6" r="0.9" fill="#c8c8c8"/><circle cx="206.1" cy="335.3" r="1.1" fill="#6a6a6a"/><circle cx="182.4" cy="340.0" r="0.7" fill="#b5b5b5"/><circle cx="193.3" cy="341.0" r="1.1" fill="#e0e0e0"/><circle cx="193.5" cy="330.3" r="1.2" fill="#a5a5a5"/><circle cx="213.0" cy="340.5" r="0.9" fill="#8a8a8a"/><circle cx="202.8" cy="332.6" r="1.3" fill="#e0e0e0"/><circle cx="205.0" cy="338.9" r="1.3" fill="#a5a5a5"/><circle cx="186.6" cy="348.0" r="0.8" fill="#a5a5a5"/><circle cx="187.8" cy="345.8" r="1.5" fill="#6a6a6a"/><circle cx="182.2" cy="347.3" r="1.1" fill="#6a6a6a"/><circle cx="212.1" cy="338.2" r="0.8" fill="#000"/><circle cx="212.3" cy="333.9" r="1.2" fill="#c8c8c8"/><circle cx="190.1" cy="339.5" r="1.2" fill="#c8c8c8"/><circle cx="194.7" cy="347.0" r="0.8" fill="#6a6a6a"/><circle cx="201.8" cy="334.7" r="1.2" fill="#000"/><circle cx="214.9" cy="337.9" r="0.8" fill="#000"/><circle cx="217.0" cy="345.9" r="1.0" fill="#222"/><circle cx="216.8" cy="348.1" r="0.7" fill="#555"/><circle cx="180.3" cy="331.4" r="1.1" fill="#999"/><circle cx="205.3" cy="327.4" r="0.8" fill="#222"/><circle cx="176.8" cy="336.2" r="0.9" fill="#999"/><circle cx="200.8" cy="356.1" r="0.8" fill="#999"/><circle cx="214.2" cy="348.9" r="1.0" fill="#888"/><circle cx="186.2" cy="328.4" r="1.2" fill="#999"/><circle cx="196.9" cy="356.3" r="1.1" fill="#555"/><circle cx="205.1" cy="327.0" r="0.8" fill="#555"/><circle cx="176.8" cy="338.0" r="0.8" fill="#888"/><circle cx="180.4" cy="351.6" r="1.0" fill="#555"/><circle cx="182.1" cy="351.9" r="1.0" fill="#888"/><circle cx="214.1" cy="350.2" r="0.8" fill="#999"/><circle cx="212.2" cy="330.6" r="1.1" fill="#888"/><circle cx="187.9" cy="327.5" r="0.8" fill="#888"/><circle cx="198.8" cy="356.1" r="0.9" fill="#999"/><circle cx="178.4" cy="334.4" r="0.8" fill="#999"/><circle cx="211.0" cy="329.7" r="1.1" fill="#555"/><circle cx="216.9" cy="347.1" r="1.1" fill="#222"/><circle cx="214.3" cy="332.2" r="1.2" fill="#222"/><circle cx="175.8" cy="342.8" r="0.7" fill="#888"/><circle cx="215.8" cy="334.9" r="1.1" fill="#555"/><circle cx="219.2" cy="339.4" r="1.1" fill="#999"/><circle cx="217.1" cy="337.9" r="1.1" fill="#888"/><circle cx="181.7" cy="351.6" r="1.2" fill="#222"/><circle cx="212.1" cy="330.1" r="1.1" fill="#888"/><circle cx="216.8" cy="347.0" r="1.2" fill="#222"/><circle cx="204.7" cy="354.9" r="1.2" fill="#555"/><circle cx="205.7" cy="354.7" r="0.8" fill="#555"/><circle cx="178.7" cy="333.3" r="0.8" fill="#222"/>
<g clip-path="url(#c8)"><path d="M35.0 222.1C35.1 219.5 36.4 218.2 36.7 216.6C37.0 214.9 36.3 213.5 36.8 212.2C37.4 210.9 39.1 209.7 40.1 208.7C41.2 207.6 41.7 206.9 43.2 205.8C44.7 204.8 46.9 203.5 49.2 202.2C51.5 200.8 54.7 199.2 57.1 197.9C59.5 196.5 61.5 195.2 63.7 194.0C65.8 192.8 67.4 191.4 69.9 190.7C72.5 189.9 76.1 189.8 78.9 189.7C81.7 189.5 83.3 189.6 86.5 189.8C89.7 189.9 94.0 190.5 98.0 190.4C101.9 190.4 106.1 189.7 110.1 189.6C114.1 189.4 118.1 189.2 122.0 189.4C125.9 189.6 130.5 190.2 133.5 190.8C136.5 191.3 137.6 191.8 139.8 192.6C141.9 193.5 143.7 194.8 146.3 195.9C148.9 196.9 152.1 197.9 155.5 199.1C159.0 200.3 164.1 202.0 167.0 203.2C170.0 204.4 171.0 205.0 173.2 206.4C175.3 207.8 178.1 209.8 179.9 211.6C181.6 213.4 182.0 215.5 183.5 217.1C184.9 218.8 187.4 219.4 188.4 221.3C189.4 223.1 189.2 225.9 189.6 228.2C190.0 230.4 191.1 232.6 190.9 234.6C190.7 236.7 189.0 238.4 188.2 240.7C187.5 243.0 187.3 246.5 186.2 248.4C185.1 250.4 183.2 250.9 181.7 252.3C180.2 253.6 179.1 255.4 177.1 256.6C175.2 257.7 172.1 258.4 170.1 259.3C168.2 260.2 166.8 261.4 165.4 262.2C164.0 262.9 162.9 263.8 161.5 264.0C160.1 264.1 158.8 263.2 157.0 263.3C155.2 263.3 152.7 264.1 150.7 264.2C148.8 264.2 147.1 263.8 145.2 263.6C143.3 263.4 140.9 263.1 139.2 262.8C137.6 262.4 136.6 261.4 135.2 261.4C133.8 261.5 132.1 263.0 130.9 263.3C129.8 263.6 129.6 262.8 128.4 263.2C127.1 263.7 125.0 265.0 123.3 266.1C121.5 267.1 119.9 268.9 118.1 269.6C116.2 270.3 114.1 269.8 112.3 270.4C110.4 271.0 109.4 272.7 107.1 272.9C104.8 273.2 101.4 271.9 98.6 271.9C95.7 271.9 92.4 273.1 90.1 273.0C87.8 272.9 86.4 271.7 84.7 271.3C83.0 270.9 82.0 271.4 80.0 270.6C78.0 269.8 75.0 267.5 72.8 266.2C70.6 265.0 69.0 264.4 66.7 263.1C64.3 261.8 61.3 260.1 58.5 258.4C55.8 256.6 52.8 255.0 50.2 252.7C47.6 250.5 45.2 247.2 43.1 244.9C41.1 242.7 39.1 241.5 37.9 239.3C36.8 237.1 36.8 234.6 36.3 231.7C35.8 228.8 34.9 224.6 35.0 222.1Z" fill="#F5E9D8"/><path d="M35.0 222.1C35.1 219.5 36.4 218.2 36.7 216.6C37.0 214.9 36.3 213.5 36.8 212.2C37.4 210.9 39.1 209.7 40.1 208.7C41.2 207.6 41.7 206.9 43.2 205.8C44.7 204.8 46.9 203.5 49.2 202.2C51.5 200.8 54.7 199.2 57.1 197.9C59.5 196.5 61.5 195.2 63.7 194.0C65.8 192.8 67.4 191.4 69.9 190.7C72.5 189.9 76.1 189.8 78.9 189.7C81.7 189.5 83.3 189.6 86.5 189.8C89.7 189.9 94.0 190.5 98.0 190.4C101.9 190.4 106.1 189.7 110.1 189.6C114.1 189.4 118.1 189.2 122.0 189.4C125.9 189.6 130.5 190.2 133.5 190.8C136.5 191.3 137.6 191.8 139.8 192.6C141.9 193.5 143.7 194.8 146.3 195.9C148.9 196.9 152.1 197.9 155.5 199.1C159.0 200.3 164.1 202.0 167.0 203.2C170.0 204.4 171.0 205.0 173.2 206.4C175.3 207.8 178.1 209.8 179.9 211.6C181.6 213.4 182.0 215.5 183.5 217.1C184.9 218.8 187.4 219.4 188.4 221.3C189.4 223.1 189.2 225.9 189.6 228.2C190.0 230.4 191.1 232.6 190.9 234.6C190.7 236.7 189.0 238.4 188.2 240.7C187.5 243.0 187.3 246.5 186.2 248.4C185.1 250.4 183.2 250.9 181.7 252.3C180.2 253.6 179.1 255.4 177.1 256.6C175.2 257.7 172.1 258.4 170.1 259.3C168.2 260.2 166.8 261.4 165.4 262.2C164.0 262.9 162.9 263.8 161.5 264.0C160.1 264.1 158.8 263.2 157.0 263.3C155.2 263.3 152.7 264.1 150.7 264.2C148.8 264.2 147.1 263.8 145.2 263.6C143.3 263.4 140.9 263.1 139.2 262.8C137.6 262.4 136.6 261.4 135.2 261.4C133.8 261.5 132.1 263.0 130.9 263.3C129.8 263.6 129.6 262.8 128.4 263.2C127.1 263.7 125.0 265.0 123.3 266.1C121.5 267.1 119.9 268.9 118.1 269.6C116.2 270.3 114.1 269.8 112.3 270.4C110.4 271.0 109.4 272.7 107.1 272.9C104.8 273.2 101.4 271.9 98.6 271.9C95.7 271.9 92.4 273.1 90.1 273.0C87.8 272.9 86.4 271.7 84.7 271.3C83.0 270.9 82.0 271.4 80.0 270.6C78.0 269.8 75.0 267.5 72.8 266.2C70.6 265.0 69.0 264.4 66.7 263.1C64.3 261.8 61.3 260.1 58.5 258.4C55.8 256.6 52.8 255.0 50.2 252.7C47.6 250.5 45.2 247.2 43.1 244.9C41.1 242.7 39.1 241.5 37.9 239.3C36.8 237.1 36.8 234.6 36.3 231.7C35.8 228.8 34.9 224.6 35.0 222.1Z" fill="none" stroke="#0a0a0a" stroke-width="5.8" stroke-dasharray="30 3 18 2.5 40 3 12 2 24 2.5"/></g>
<g filter="url(#soft2)">
<path d="M59.9 221.0C60.0 216.6 61.1 210.3 63.1 206.2C65.1 202.1 67.9 198.6 71.8 196.2C75.7 193.8 80.3 192.8 86.6 191.9C92.9 191.0 102.1 190.7 109.8 190.9C117.6 191.0 127.8 191.1 133.1 192.8C138.4 194.5 139.1 197.3 141.6 201.1C144.2 205.0 146.8 211.0 148.4 215.9C150.1 220.9 151.6 226.5 151.6 230.9C151.5 235.4 150.1 239.4 148.1 242.8C146.2 246.1 144.0 248.8 139.9 250.9C135.8 252.9 129.5 254.1 123.5 255.0C117.4 255.9 110.2 256.6 103.5 256.2C96.8 255.8 89.0 254.6 83.4 252.6C77.8 250.6 73.3 247.5 69.9 244.2C66.4 240.9 64.4 236.6 62.8 232.7C61.1 228.8 59.9 225.5 59.9 221.0Z" fill="#8812A0" stroke="#f3c8f0" stroke-width="2.0"/>
<path d="M142.0 223.5C142.0 227.3 141.5 231.5 139.6 235.0C137.6 238.6 134.2 242.4 130.1 244.7C126.1 247.1 120.3 248.2 115.1 249.0C110.0 249.8 104.3 250.1 99.4 249.3C94.4 248.5 89.4 246.3 85.3 244.0C81.2 241.6 77.1 238.5 74.8 235.1C72.4 231.7 71.3 227.4 71.3 223.5C71.3 219.6 72.8 215.5 75.0 212.0C77.2 208.4 80.4 204.7 84.5 202.3C88.5 199.8 94.2 198.2 99.3 197.4C104.4 196.7 110.1 197.1 115.1 198.0C120.2 198.9 125.3 200.7 129.3 203.0C133.4 205.3 137.5 208.5 139.6 212.0C141.7 215.4 142.0 219.7 142.0 223.5Z" fill="#C41C78"/>
<path d="M140.5 223.5C140.5 227.0 139.6 230.8 137.6 234.0C135.6 237.2 132.2 240.3 128.4 242.5C124.6 244.7 119.6 246.3 114.9 247.0C110.2 247.8 104.7 248.0 100.0 247.2C95.3 246.4 90.5 244.6 86.7 242.4C82.9 240.2 79.4 237.2 77.4 234.0C75.4 230.9 74.6 227.0 74.7 223.5C74.8 220.0 76.1 216.4 78.1 213.2C80.2 210.1 83.3 207.1 87.0 204.9C90.6 202.6 95.3 200.2 99.9 199.5C104.6 198.8 110.0 199.7 114.7 200.6C119.4 201.5 124.4 202.7 128.1 204.7C131.9 206.8 135.4 209.9 137.5 213.0C139.5 216.2 140.4 220.0 140.5 223.5Z" fill="#E0203C"/>
<path d="M134.5 224.0C134.5 226.6 133.1 229.5 131.3 231.7C129.5 234.0 126.5 236.1 123.5 237.6C120.5 239.1 116.8 240.4 113.1 241.0C109.4 241.6 105.2 241.6 101.4 241.2C97.7 240.7 93.5 239.8 90.3 238.2C87.2 236.7 84.3 234.3 82.7 231.9C81.1 229.6 80.8 226.6 80.9 224.0C81.1 221.4 81.8 218.6 83.4 216.3C85.1 214.0 87.8 211.8 90.8 210.1C93.7 208.4 97.5 206.8 101.2 206.2C105.0 205.6 109.5 206.0 113.2 206.7C116.9 207.4 120.7 208.6 123.7 210.2C126.7 211.8 129.5 214.0 131.3 216.3C133.1 218.6 134.5 221.4 134.5 224.0Z" fill="#fff" stroke="#9a1428" stroke-width="1"/>
</g>
<path d="M128.0 223.6C128.0 225.4 127.7 227.5 126.4 229.0C125.1 230.4 122.2 231.1 120.4 232.5C118.6 234.0 117.9 236.6 115.7 237.6C113.4 238.5 109.9 238.4 107.0 238.4C104.1 238.3 101.0 238.1 98.5 237.3C96.0 236.5 94.0 234.9 92.0 233.6C90.0 232.2 87.9 230.9 86.5 229.3C85.1 227.6 83.8 225.5 83.7 223.6C83.7 221.7 85.0 219.5 86.4 217.9C87.9 216.3 90.6 215.4 92.5 213.9C94.4 212.5 95.7 209.9 98.1 209.2C100.5 208.6 104.3 209.6 107.0 210.0C109.7 210.5 112.0 211.1 114.3 211.8C116.7 212.5 119.1 213.1 121.2 214.2C123.2 215.2 125.5 216.6 126.7 218.2C127.8 219.7 128.1 221.8 128.0 223.6Z" fill="#4a4a4a"/>
<path d="M124.7 223.6C125.2 225.7 126.4 228.9 124.9 230.5C123.3 232.1 118.4 232.5 115.4 233.3C112.4 234.1 109.9 235.0 107.0 235.1C104.1 235.2 100.5 234.9 98.1 233.9C95.6 233.0 93.7 231.0 92.3 229.3C90.9 227.5 90.1 225.7 89.7 223.6C89.3 221.5 88.3 218.7 89.6 216.9C91.0 215.2 95.0 213.7 97.9 213.1C100.8 212.4 103.8 213.0 107.0 212.8C110.2 212.6 114.6 211.1 117.0 212.0C119.5 212.9 120.4 216.0 121.7 218.0C122.9 219.9 124.1 221.5 124.7 223.6Z" fill="#1a1a1a"/>
<circle cx="94.3" cy="226.3" r="1.3" fill="#8a8a8a"/><circle cx="88.4" cy="222.5" r="1.4" fill="#c8c8c8"/><circle cx="99.0" cy="212.4" r="1.0" fill="#000"/><circle cx="116.1" cy="219.0" r="1.3" fill="#8a8a8a"/><circle cx="104.4" cy="234.9" r="1.0" fill="#b5b5b5"/><circle cx="101.5" cy="217.7" r="1.0" fill="#8a8a8a"/><circle cx="90.8" cy="220.7" r="0.9" fill="#b5b5b5"/><circle cx="109.5" cy="228.4" r="1.5" fill="#c8c8c8"/><circle cx="113.8" cy="231.6" r="1.5" fill="#6a6a6a"/><circle cx="105.8" cy="220.1" r="1.0" fill="#6a6a6a"/><circle cx="124.1" cy="227.9" r="1.3" fill="#8a8a8a"/><circle cx="96.2" cy="232.0" r="1.5" fill="#b5b5b5"/><circle cx="103.0" cy="233.4" r="1.4" fill="#a5a5a5"/><circle cx="95.0" cy="231.5" r="1.3" fill="#8a8a8a"/><circle cx="125.7" cy="219.7" r="0.9" fill="#c8c8c8"/><circle cx="89.4" cy="221.6" r="1.1" fill="#e0e0e0"/><circle cx="117.5" cy="224.0" r="1.0" fill="#b5b5b5"/><circle cx="95.9" cy="233.3" r="1.3" fill="#c8c8c8"/><circle cx="106.8" cy="215.1" r="1.4" fill="#6a6a6a"/><circle cx="88.6" cy="222.5" r="0.8" fill="#6a6a6a"/><circle cx="98.2" cy="228.7" r="1.1" fill="#e0e0e0"/><circle cx="95.5" cy="224.3" r="1.0" fill="#000"/><circle cx="92.5" cy="216.2" r="0.8" fill="#e0e0e0"/><circle cx="95.2" cy="220.3" r="1.4" fill="#000"/><circle cx="90.2" cy="219.0" r="1.1" fill="#6a6a6a"/><circle cx="112.4" cy="220.0" r="1.3" fill="#b5b5b5"/><circle cx="120.1" cy="222.6" r="1.0" fill="#000"/><circle cx="97.8" cy="224.3" r="1.0" fill="#8a8a8a"/><circle cx="96.2" cy="233.0" r="0.8" fill="#6a6a6a"/><circle cx="106.9" cy="230.4" r="1.1" fill="#c8c8c8"/><circle cx="114.7" cy="235.6" r="1.0" fill="#a5a5a5"/><circle cx="120.8" cy="232.5" r="1.4" fill="#a5a5a5"/><circle cx="107.5" cy="225.1" r="1.0" fill="#e0e0e0"/><circle cx="100.2" cy="215.2" r="0.9" fill="#c8c8c8"/><circle cx="119.3" cy="223.5" r="1.5" fill="#b5b5b5"/><circle cx="93.9" cy="221.2" r="1.2" fill="#8a8a8a"/><circle cx="114.5" cy="216.8" r="0.7" fill="#6a6a6a"/><circle cx="123.4" cy="229.0" r="1.3" fill="#a5a5a5"/><circle cx="113.5" cy="232.3" r="0.9" fill="#8a8a8a"/><circle cx="95.0" cy="225.2" r="1.3" fill="#6a6a6a"/><circle cx="99.5" cy="232.0" r="0.7" fill="#8a8a8a"/><circle cx="99.7" cy="228.7" r="0.8" fill="#e0e0e0"/><circle cx="104.5" cy="218.1" r="0.8" fill="#c8c8c8"/><circle cx="110.5" cy="214.6" r="1.5" fill="#c8c8c8"/><circle cx="111.9" cy="234.8" r="0.8" fill="#c8c8c8"/><circle cx="102.0" cy="227.3" r="1.4" fill="#a5a5a5"/><circle cx="106.4" cy="225.9" r="1.1" fill="#e0e0e0"/><circle cx="119.0" cy="212.8" r="1.4" fill="#c8c8c8"/><circle cx="112.6" cy="227.3" r="0.7" fill="#e0e0e0"/><circle cx="115.2" cy="225.4" r="1.4" fill="#8a8a8a"/><circle cx="103.6" cy="216.4" r="0.8" fill="#8a8a8a"/><circle cx="108.2" cy="216.9" r="0.7" fill="#8a8a8a"/><circle cx="91.3" cy="228.9" r="0.7" fill="#c8c8c8"/><circle cx="109.1" cy="229.9" r="1.1" fill="#000"/><circle cx="112.1" cy="232.5" r="1.3" fill="#6a6a6a"/><circle cx="122.5" cy="220.8" r="0.9" fill="#000"/><circle cx="107.3" cy="227.5" r="1.3" fill="#a5a5a5"/><circle cx="98.0" cy="214.3" r="1.2" fill="#8a8a8a"/><circle cx="118.8" cy="226.0" r="0.8" fill="#8a8a8a"/><circle cx="115.2" cy="224.6" r="1.4" fill="#a5a5a5"/><circle cx="96.2" cy="231.9" r="1.2" fill="#8a8a8a"/><circle cx="92.9" cy="216.3" r="1.4" fill="#000"/><circle cx="113.2" cy="226.8" r="1.2" fill="#000"/><circle cx="123.0" cy="230.3" r="1.4" fill="#6a6a6a"/><circle cx="95.0" cy="233.1" r="1.4" fill="#e0e0e0"/><circle cx="116.8" cy="225.3" r="0.8" fill="#e0e0e0"/><circle cx="91.2" cy="224.6" r="1.4" fill="#8a8a8a"/><circle cx="97.2" cy="215.9" r="1.5" fill="#000"/><circle cx="96.7" cy="227.9" r="0.8" fill="#e0e0e0"/><circle cx="105.9" cy="217.4" r="0.7" fill="#6a6a6a"/><circle cx="95.5" cy="224.0" r="1.2" fill="#6a6a6a"/><circle cx="107.1" cy="210.2" r="1.3" fill="#a5a5a5"/><circle cx="95.5" cy="223.7" r="0.7" fill="#6a6a6a"/><circle cx="98.9" cy="218.8" r="0.7" fill="#c8c8c8"/><circle cx="113.4" cy="216.6" r="1.1" fill="#a5a5a5"/><circle cx="102.0" cy="230.5" r="1.0" fill="#a5a5a5"/><circle cx="112.7" cy="219.3" r="1.0" fill="#8a8a8a"/><circle cx="89.0" cy="224.7" r="0.7" fill="#a5a5a5"/><circle cx="93.9" cy="224.2" r="1.5" fill="#b5b5b5"/><circle cx="98.1" cy="214.2" r="0.9" fill="#8a8a8a"/><circle cx="99.9" cy="226.1" r="1.1" fill="#a5a5a5"/><circle cx="110.7" cy="233.6" r="0.8" fill="#a5a5a5"/><circle cx="124.9" cy="221.6" r="1.2" fill="#b5b5b5"/><circle cx="99.1" cy="215.6" r="1.3" fill="#e0e0e0"/><circle cx="101.3" cy="234.0" r="0.8" fill="#000"/><circle cx="105.1" cy="213.4" r="0.7" fill="#8a8a8a"/><circle cx="95.1" cy="233.5" r="0.8" fill="#b5b5b5"/><circle cx="107.5" cy="230.1" r="1.2" fill="#6a6a6a"/><circle cx="111.1" cy="236.4" r="1.2" fill="#000"/><circle cx="104.8" cy="215.9" r="1.4" fill="#a5a5a5"/><circle cx="97.3" cy="219.7" r="0.8" fill="#a5a5a5"/><circle cx="120.6" cy="229.9" r="0.8" fill="#c8c8c8"/><circle cx="102.5" cy="230.8" r="0.7" fill="#e0e0e0"/><circle cx="116.6" cy="212.0" r="0.8" fill="#8a8a8a"/><circle cx="115.5" cy="226.8" r="1.1" fill="#b5b5b5"/><circle cx="118.1" cy="234.9" r="1.0" fill="#b5b5b5"/><circle cx="116.1" cy="222.5" r="1.1" fill="#8a8a8a"/><circle cx="101.5" cy="219.9" r="0.9" fill="#8a8a8a"/><circle cx="117.8" cy="217.1" r="1.3" fill="#e0e0e0"/><circle cx="127.5" cy="218.7" r="1.0" fill="#888"/><circle cx="129.9" cy="225.9" r="1.3" fill="#999"/><circle cx="94.9" cy="236.1" r="1.1" fill="#222"/><circle cx="115.2" cy="210.3" r="1.1" fill="#555"/><circle cx="99.2" cy="237.6" r="1.1" fill="#222"/><circle cx="95.8" cy="236.4" r="0.9" fill="#999"/><circle cx="84.6" cy="227.0" r="1.1" fill="#555"/><circle cx="122.2" cy="213.1" r="1.2" fill="#555"/><circle cx="88.1" cy="231.2" r="1.0" fill="#555"/><circle cx="116.7" cy="210.6" r="1.3" fill="#888"/><circle cx="124.8" cy="215.1" r="0.8" fill="#222"/><circle cx="90.1" cy="213.1" r="1.2" fill="#999"/><circle cx="90.5" cy="213.0" r="0.9" fill="#555"/><circle cx="122.8" cy="233.7" r="0.8" fill="#222"/><circle cx="124.3" cy="232.1" r="1.2" fill="#555"/><circle cx="85.2" cy="224.5" r="0.9" fill="#888"/><circle cx="97.9" cy="209.5" r="0.7" fill="#555"/><circle cx="87.3" cy="230.3" r="1.0" fill="#555"/><circle cx="122.5" cy="212.1" r="0.8" fill="#888"/><circle cx="93.3" cy="234.7" r="0.7" fill="#999"/><circle cx="84.3" cy="220.9" r="1.0" fill="#555"/><circle cx="99.1" cy="237.3" r="0.8" fill="#222"/><circle cx="85.6" cy="223.4" r="0.8" fill="#555"/><circle cx="94.0" cy="236.1" r="1.0" fill="#888"/><circle cx="95.2" cy="211.3" r="0.8" fill="#555"/><circle cx="129.8" cy="225.1" r="0.8" fill="#999"/><circle cx="104.6" cy="238.5" r="1.3" fill="#555"/><circle cx="88.2" cy="216.9" r="0.9" fill="#888"/><circle cx="124.2" cy="214.7" r="1.0" fill="#999"/><circle cx="93.9" cy="235.0" r="0.8" fill="#222"/><circle cx="89.3" cy="214.3" r="0.9" fill="#999"/>
<g filter="url(#soft2)">
<path d="M102.6 116.8C102.8 115.1 104.0 113.5 104.5 111.6C105.0 109.6 104.6 107.1 105.6 105.2C106.6 103.4 108.7 102.0 110.4 100.4C112.1 98.8 113.5 96.8 115.6 95.6C117.6 94.5 120.5 94.4 122.7 93.5C124.9 92.7 126.3 90.8 128.8 90.5C131.2 90.2 134.7 91.3 137.3 91.6C139.9 92.0 141.8 92.2 144.4 92.6C147.0 92.9 150.3 93.2 152.9 93.6C155.5 94.1 157.4 94.5 160.0 95.2C162.6 96.0 165.9 97.0 168.5 98.0C171.1 99.0 173.3 100.0 175.6 101.1C177.8 102.2 179.8 103.2 182.0 104.6C184.3 105.9 187.1 107.3 189.1 109.0C191.0 110.7 192.2 112.8 193.9 114.7C195.6 116.6 197.7 118.2 199.0 120.6C200.4 123.0 201.2 126.2 202.2 129.1C203.1 132.1 204.5 135.5 204.8 138.1C205.1 140.8 204.5 142.6 204.1 144.9C203.8 147.3 203.6 150.1 202.8 152.0C202.0 153.9 200.6 154.9 199.3 156.5C198.1 158.1 197.3 160.7 195.2 161.6C193.1 162.5 189.4 161.9 186.8 162.2C184.2 162.5 182.6 163.3 179.7 163.3C176.8 163.3 172.6 162.6 169.3 162.3C166.0 162.0 163.1 161.7 160.1 161.4C157.0 161.0 154.2 160.8 151.0 160.2C147.8 159.7 143.8 158.9 140.8 157.9C137.9 156.9 136.0 155.6 133.4 154.2C130.8 152.9 127.6 151.4 125.1 149.7C122.5 148.1 120.5 146.1 118.2 144.2C116.0 142.3 113.4 140.4 111.7 138.3C109.9 136.3 108.8 134.0 107.6 132.0C106.4 130.0 105.3 128.1 104.7 126.5C104.0 124.8 103.9 123.7 103.5 122.0C103.2 120.4 102.5 118.6 102.6 116.8Z" fill="#84129E" stroke="#f3c4f0" stroke-width="2.0"/>
<path d="M113.6 118.8C113.9 115.3 116.2 111.7 119.5 109.1C122.7 106.5 127.6 104.5 133.0 103.4C138.5 102.2 145.9 101.8 152.3 102.4C158.7 103.0 166.2 104.8 171.7 107.3C177.2 109.7 181.3 112.4 185.2 116.9C189.1 121.4 193.6 128.8 194.9 134.3C196.2 139.8 195.3 146.1 193.0 149.8C190.8 153.5 186.5 155.6 181.4 156.6C176.2 157.5 168.4 156.3 161.9 155.5C155.5 154.7 148.5 153.9 142.7 151.6C136.9 149.4 131.4 145.5 127.2 142.0C123.0 138.5 119.8 134.3 117.5 130.4C115.2 126.5 113.3 122.4 113.6 118.8Z" fill="#C81C78"/>
<path d="M116.1 119.5C116.4 116.2 118.6 112.8 121.7 110.4C124.8 108.1 129.5 106.3 134.6 105.4C139.8 104.5 146.5 104.4 152.4 105.0C158.3 105.6 164.9 107.1 170.0 109.2C175.1 111.4 179.1 113.7 182.8 117.8C186.5 121.9 191.0 128.8 192.3 134.0C193.6 139.1 192.9 145.1 190.7 148.6C188.6 152.1 184.4 154.0 179.5 154.7C174.6 155.5 167.1 153.9 161.1 153.0C155.2 152.1 149.1 151.3 143.8 149.3C138.5 147.2 133.5 144.0 129.5 140.9C125.6 137.7 122.3 133.9 120.1 130.3C117.9 126.7 115.8 122.8 116.1 119.5Z" fill="#EC1E34"/>
<path d="M123.2 124.6C123.4 121.7 123.8 117.3 126.1 114.9C128.4 112.5 131.8 110.7 136.8 110.0C141.8 109.3 150.4 109.9 156.2 111.0C162.0 112.1 167.9 113.9 171.8 116.8C175.7 119.7 178.6 124.3 179.6 128.5C180.6 132.7 179.9 138.7 177.6 142.1C175.3 145.5 170.8 147.9 165.9 148.9C161.0 149.9 153.9 149.4 148.4 147.9C142.9 146.4 136.8 142.8 132.9 140.2C129.0 137.6 126.7 135.0 125.1 132.4C123.5 129.8 123.0 127.5 123.2 124.6Z" fill="#fff" stroke="#9a1428" stroke-width="1"/>
</g>
<path d="M169.5 133.1C169.2 134.8 170.1 137.3 168.8 138.5C167.5 139.8 163.8 139.5 161.7 140.6C159.6 141.6 158.4 144.5 156.1 144.7C153.7 144.9 150.4 142.5 147.7 141.7C145.0 140.9 142.4 140.8 139.9 139.9C137.5 138.9 134.7 137.6 132.7 136.0C130.8 134.4 128.9 132.2 128.3 130.3C127.8 128.4 128.9 126.4 129.5 124.5C130.0 122.7 130.4 120.7 131.8 119.3C133.2 117.9 135.7 117.1 137.8 116.1C140.0 115.1 142.2 113.5 144.8 113.5C147.3 113.5 150.3 115.5 153.1 116.2C155.9 116.9 159.0 116.5 161.4 117.5C163.8 118.5 165.9 120.5 167.4 122.2C168.9 124.0 170.0 126.0 170.3 127.8C170.7 129.6 169.7 131.3 169.5 133.1Z" fill="#4a4a4a"/>
<path d="M169.5 133.1C168.5 134.9 164.6 135.4 162.6 136.9C160.6 138.5 160.1 141.7 157.7 142.2C155.3 142.8 150.8 141.2 148.0 140.2C145.2 139.2 142.9 137.7 140.9 136.2C138.9 134.7 137.2 133.1 135.8 131.3C134.5 129.5 132.7 127.2 132.7 125.2C132.7 123.3 134.1 121.1 135.8 119.5C137.6 118.0 140.3 116.4 143.1 115.8C146.0 115.3 150.3 115.2 153.1 116.2C156.0 117.1 157.6 120.0 160.2 121.6C162.8 123.3 167.1 124.2 168.6 126.1C170.2 128.0 170.5 131.3 169.5 133.1Z" fill="#1a1a1a"/>
<circle cx="153.1" cy="139.7" r="1.0" fill="#8a8a8a"/><circle cx="159.5" cy="128.8" r="1.3" fill="#000"/><circle cx="164.0" cy="126.2" r="1.0" fill="#b5b5b5"/><circle cx="160.4" cy="123.0" r="1.2" fill="#000"/><circle cx="140.8" cy="121.4" r="0.8" fill="#c8c8c8"/><circle cx="148.9" cy="125.4" r="1.2" fill="#c8c8c8"/><circle cx="131.7" cy="128.9" r="0.9" fill="#b5b5b5"/><circle cx="155.8" cy="126.6" r="1.5" fill="#b5b5b5"/><circle cx="144.9" cy="132.3" r="1.2" fill="#c8c8c8"/><circle cx="131.7" cy="124.9" r="0.9" fill="#e0e0e0"/><circle cx="163.4" cy="128.6" r="1.5" fill="#6a6a6a"/><circle cx="151.6" cy="126.0" r="1.0" fill="#8a8a8a"/><circle cx="159.4" cy="124.7" r="1.3" fill="#e0e0e0"/><circle cx="160.1" cy="129.3" r="1.3" fill="#b5b5b5"/><circle cx="159.5" cy="120.0" r="1.1" fill="#a5a5a5"/><circle cx="153.7" cy="131.6" r="1.0" fill="#6a6a6a"/><circle cx="168.3" cy="130.5" r="1.0" fill="#8a8a8a"/><circle cx="167.6" cy="129.3" r="0.8" fill="#a5a5a5"/><circle cx="161.3" cy="140.4" r="0.9" fill="#e0e0e0"/><circle cx="147.4" cy="138.3" r="1.0" fill="#8a8a8a"/><circle cx="143.1" cy="117.4" r="1.2" fill="#000"/><circle cx="156.7" cy="138.4" r="1.3" fill="#e0e0e0"/><circle cx="165.7" cy="131.4" r="1.2" fill="#a5a5a5"/><circle cx="145.5" cy="117.4" r="1.2" fill="#6a6a6a"/><circle cx="146.2" cy="122.9" r="1.0" fill="#b5b5b5"/><circle cx="146.3" cy="121.8" r="1.1" fill="#6a6a6a"/><circle cx="164.1" cy="121.9" r="0.8" fill="#c8c8c8"/><circle cx="146.1" cy="119.8" r="0.9" fill="#a5a5a5"/><circle cx="143.6" cy="134.5" r="0.9" fill="#000"/><circle cx="152.7" cy="136.7" r="1.2" fill="#8a8a8a"/><circle cx="153.1" cy="128.8" r="1.3" fill="#a5a5a5"/><circle cx="145.1" cy="130.0" r="0.8" fill="#8a8a8a"/><circle cx="147.7" cy="138.5" r="1.3" fill="#8a8a8a"/><circle cx="153.7" cy="124.5" r="1.4" fill="#8a8a8a"/><circle cx="149.1" cy="131.9" r="1.4" fill="#a5a5a5"/><circle cx="155.0" cy="136.5" r="0.9" fill="#a5a5a5"/><circle cx="149.6" cy="121.5" r="1.3" fill="#6a6a6a"/><circle cx="151.5" cy="142.6" r="1.3" fill="#000"/><circle cx="146.2" cy="131.8" r="0.8" fill="#8a8a8a"/><circle cx="145.2" cy="139.5" r="1.4" fill="#000"/><circle cx="150.4" cy="141.0" r="0.9" fill="#000"/><circle cx="141.7" cy="116.1" r="0.8" fill="#b5b5b5"/><circle cx="161.8" cy="135.2" r="1.3" fill="#a5a5a5"/><circle cx="137.4" cy="121.9" r="1.1" fill="#e0e0e0"/><circle cx="137.5" cy="134.0" r="1.2" fill="#c8c8c8"/><circle cx="136.0" cy="125.4" r="0.8" fill="#b5b5b5"/><circle cx="138.8" cy="124.8" r="1.0" fill="#000"/><circle cx="144.3" cy="133.9" r="1.4" fill="#6a6a6a"/><circle cx="140.3" cy="134.2" r="1.2" fill="#e0e0e0"/><circle cx="133.2" cy="133.2" r="0.9" fill="#a5a5a5"/><circle cx="157.4" cy="139.0" r="1.3" fill="#000"/><circle cx="140.4" cy="124.2" r="0.7" fill="#a5a5a5"/><circle cx="148.2" cy="119.4" r="0.8" fill="#c8c8c8"/><circle cx="165.4" cy="137.9" r="1.5" fill="#e0e0e0"/><circle cx="150.4" cy="134.1" r="1.2" fill="#6a6a6a"/><circle cx="150.3" cy="130.1" r="1.1" fill="#6a6a6a"/><circle cx="140.6" cy="139.5" r="1.2" fill="#b5b5b5"/><circle cx="153.7" cy="129.5" r="1.2" fill="#c8c8c8"/><circle cx="163.4" cy="122.9" r="1.0" fill="#8a8a8a"/><circle cx="134.9" cy="132.6" r="1.4" fill="#c8c8c8"/><circle cx="150.7" cy="121.6" r="1.3" fill="#b5b5b5"/><circle cx="150.3" cy="123.0" r="1.0" fill="#000"/><circle cx="139.3" cy="117.9" r="1.4" fill="#6a6a6a"/><circle cx="163.2" cy="133.1" r="1.1" fill="#e0e0e0"/><circle cx="143.1" cy="132.9" r="1.0" fill="#8a8a8a"/><circle cx="133.6" cy="122.0" r="1.4" fill="#000"/><circle cx="140.9" cy="122.7" r="1.1" fill="#b5b5b5"/><circle cx="135.6" cy="120.8" r="1.3" fill="#e0e0e0"/><circle cx="169.0" cy="128.1" r="0.8" fill="#b5b5b5"/><circle cx="160.7" cy="124.3" r="1.0" fill="#8a8a8a"/><circle cx="168.2" cy="132.3" r="1.2" fill="#b5b5b5"/><circle cx="144.9" cy="139.0" r="1.3" fill="#e0e0e0"/><circle cx="148.9" cy="135.0" r="1.4" fill="#a5a5a5"/><circle cx="137.8" cy="118.0" r="0.8" fill="#6a6a6a"/><circle cx="163.6" cy="128.6" r="0.7" fill="#c8c8c8"/><circle cx="164.2" cy="123.3" r="1.0" fill="#b5b5b5"/><circle cx="159.9" cy="130.0" r="1.5" fill="#a5a5a5"/><circle cx="150.3" cy="120.9" r="1.0" fill="#e0e0e0"/><circle cx="151.8" cy="135.9" r="0.8" fill="#8a8a8a"/><circle cx="154.7" cy="142.2" r="1.1" fill="#e0e0e0"/><circle cx="166.2" cy="129.6" r="1.3" fill="#c8c8c8"/><circle cx="152.4" cy="135.6" r="1.1" fill="#000"/><circle cx="139.2" cy="132.3" r="1.2" fill="#c8c8c8"/><circle cx="162.3" cy="126.0" r="0.9" fill="#000"/><circle cx="157.9" cy="124.5" r="1.2" fill="#a5a5a5"/><circle cx="151.5" cy="122.4" r="0.9" fill="#6a6a6a"/><circle cx="139.3" cy="121.0" r="0.7" fill="#e0e0e0"/><circle cx="137.4" cy="133.2" r="1.2" fill="#000"/><circle cx="147.8" cy="120.9" r="1.5" fill="#c8c8c8"/><circle cx="138.4" cy="125.7" r="1.4" fill="#e0e0e0"/><circle cx="146.9" cy="130.9" r="1.4" fill="#e0e0e0"/><circle cx="134.4" cy="128.3" r="1.0" fill="#a5a5a5"/><circle cx="142.4" cy="128.4" r="1.5" fill="#c8c8c8"/><circle cx="138.6" cy="136.6" r="1.4" fill="#b5b5b5"/><circle cx="145.0" cy="129.6" r="1.1" fill="#c8c8c8"/><circle cx="137.1" cy="130.5" r="1.1" fill="#6a6a6a"/><circle cx="131.4" cy="125.1" r="1.1" fill="#8a8a8a"/><circle cx="149.0" cy="143.0" r="0.8" fill="#555"/><circle cx="148.5" cy="143.1" r="1.0" fill="#222"/><circle cx="130.1" cy="121.9" r="1.1" fill="#222"/><circle cx="169.8" cy="136.8" r="1.0" fill="#999"/><circle cx="154.0" cy="115.0" r="0.7" fill="#222"/><circle cx="163.7" cy="142.6" r="1.1" fill="#555"/><circle cx="171.7" cy="127.0" r="1.3" fill="#888"/><circle cx="140.2" cy="114.9" r="1.1" fill="#999"/><circle cx="160.0" cy="143.4" r="0.9" fill="#999"/><circle cx="170.8" cy="134.1" r="1.0" fill="#999"/><circle cx="164.1" cy="119.8" r="1.1" fill="#222"/><circle cx="163.9" cy="119.6" r="1.2" fill="#999"/><circle cx="166.3" cy="140.9" r="1.1" fill="#888"/><circle cx="163.5" cy="142.0" r="1.2" fill="#222"/><circle cx="170.1" cy="137.3" r="1.0" fill="#888"/><circle cx="131.1" cy="120.8" r="0.8" fill="#222"/><circle cx="152.1" cy="144.2" r="1.1" fill="#222"/><circle cx="165.5" cy="141.0" r="1.1" fill="#555"/><circle cx="138.4" cy="139.8" r="1.0" fill="#555"/><circle cx="138.3" cy="114.5" r="1.3" fill="#222"/><circle cx="147.9" cy="143.0" r="1.0" fill="#222"/><circle cx="149.0" cy="113.4" r="1.0" fill="#555"/><circle cx="133.0" cy="118.6" r="0.8" fill="#888"/><circle cx="167.6" cy="139.8" r="1.2" fill="#888"/><circle cx="163.8" cy="141.5" r="1.0" fill="#222"/><circle cx="142.9" cy="141.9" r="0.9" fill="#999"/><circle cx="134.5" cy="137.0" r="0.9" fill="#888"/><circle cx="170.9" cy="125.6" r="1.1" fill="#555"/><circle cx="132.1" cy="119.1" r="0.9" fill="#999"/><circle cx="171.6" cy="129.1" r="1.2" fill="#222"/><circle cx="131.3" cy="132.4" r="1.1" fill="#222"/>
<path d="M498.9 110.0 Q514.3 111.3 525.6 131.7 M526.7 118.9 L525.6 131.7 L511.1 128.3" fill="none" stroke="#0a0a0a" stroke-width="3.1" stroke-linecap="round" stroke-linejoin="round"/>
<path d="M581.7 238.0 Q577.6 253.8 560.6 264.1 M563.3 249.1 L560.6 264.1 L573.3 264.7" fill="none" stroke="#0a0a0a" stroke-width="3.1" stroke-linecap="round" stroke-linejoin="round"/>
<path d="M500.0 340.0 Q494.9 356.6 478.3 366.7 M481.7 352.5 L478.3 366.7 L491.7 368.0" fill="none" stroke="#0a0a0a" stroke-width="3.1" stroke-linecap="round" stroke-linejoin="round"/>
<path d="M325.6 398.3 Q308.6 394.7 301.7 376.7 M315.0 380.6 L301.7 376.7 L300.0 389.4" fill="none" stroke="#0a0a0a" stroke-width="3.1" stroke-linecap="round" stroke-linejoin="round"/>
<path d="M153.9 295.6 Q137.0 291.1 127.8 273.3 M141.1 277.2 L127.8 273.3 L126.4 286.1" fill="none" stroke="#0a0a0a" stroke-width="3.1" stroke-linecap="round" stroke-linejoin="round"/>
<path d="M108.3 183.9 Q114.6 164.0 129.4 159.4 M116.1 158.0 L129.4 159.4 L125.6 173.3" fill="none" stroke="#0a0a0a" stroke-width="3.1" stroke-linecap="round" stroke-linejoin="round"/>
<path d="M194.1 105.2 Q206.2 89.4 221.4 79.9 M204.8 79.5 L221.4 79.9 L216.5 94.5" fill="none" stroke="#0a0a0a" stroke-width="3.4" stroke-linecap="round" stroke-linejoin="round"/>
<path d="M512.5 312.5 L514 341 L521.5 335.5 L547.5 372.5 L552.5 369 L526.5 332 L532 328.3 Z" fill="#0a0a0a"/>
<path d="M454.2 417.5 L475.8 400 L478.5 409.5 L525.5 399.7 L526.3 403.7 L479.5 413.6 L481.7 425 Z" fill="#0a0a0a"/>
<path d="M237.2 296.5 L247.8 296.5 L241.5 310 L249 315 L249 317.5 L225 320 L227.8 307 L232 309.5 Z" fill="#0a0a0a"/>
<g>
<text transform="translate(22.99 65.40) scale(1.0150 1)" font-size="30.27" letter-spacing="0.61">free endospore</text>
<text transform="translate(391.09 46.40) scale(1.0105 1)" font-size="30.27" letter-spacing="0.53">vegetative cell</text>
<text transform="translate(188.40 289.60) scale(1.0453 1)" font-size="28.62" letter-spacing="0.58">spore coat</text>
<text transform="translate(131.34 410.50) scale(1.0673 1)" font-size="28.90" letter-spacing="0.69">mother</text>
<text transform="translate(155.40 436.80) scale(1.0386 1)" font-size="28.77" letter-spacing="0.54">cell</text>
<text transform="translate(549.39 400.00) scale(1.0683 1)" font-size="28.36" letter-spacing="0.59">developing</text>
<text transform="translate(549.37 430.60) scale(1.0176 1)" font-size="30.15" letter-spacing="0.61">spore coat</text>
</g>
</g>
</svg>
</body></html>
